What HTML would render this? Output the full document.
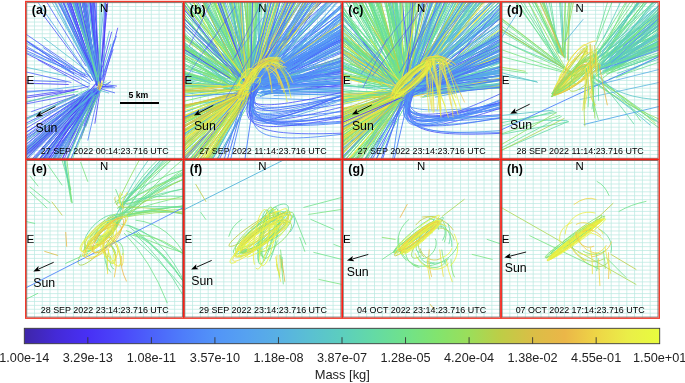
<!DOCTYPE html><html><head><meta charset="utf-8"><style>html,body{margin:0;padding:0;background:#fff;}svg{display:block;will-change:transform}text{font-family:"Liberation Sans",sans-serif}</style></head><body>
<svg width="685" height="383" viewBox="0 0 685 383">
<defs>
<clipPath id="c00"><rect x="25.70" y="1.50" width="158.05" height="157.90"/></clipPath>
<clipPath id="c01"><rect x="183.75" y="1.50" width="158.45" height="157.90"/></clipPath>
<clipPath id="c02"><rect x="342.20" y="1.50" width="158.80" height="157.90"/></clipPath>
<clipPath id="c03"><rect x="501.00" y="1.50" width="158.30" height="157.90"/></clipPath>
<clipPath id="c10"><rect x="25.70" y="159.40" width="158.05" height="158.80"/></clipPath>
<clipPath id="c11"><rect x="183.75" y="159.40" width="158.45" height="158.80"/></clipPath>
<clipPath id="c12"><rect x="342.20" y="159.40" width="158.80" height="158.80"/></clipPath>
<clipPath id="c13"><rect x="501.00" y="159.40" width="158.30" height="158.80"/></clipPath>
<linearGradient id="cb" x1="0" x2="1" y1="0" y2="0">
<stop offset="0.0" stop-color="rgb(62,38,168)"/>
<stop offset="0.05" stop-color="rgb(68,42,215)"/>
<stop offset="0.1" stop-color="rgb(72,48,245)"/>
<stop offset="0.15" stop-color="rgb(75,70,250)"/>
<stop offset="0.2" stop-color="rgb(76,98,250)"/>
<stop offset="0.25" stop-color="rgb(78,125,250)"/>
<stop offset="0.3" stop-color="rgb(82,148,248)"/>
<stop offset="0.35" stop-color="rgb(86,162,240)"/>
<stop offset="0.4" stop-color="rgb(88,176,228)"/>
<stop offset="0.45" stop-color="rgb(90,192,210)"/>
<stop offset="0.5" stop-color="rgb(92,206,190)"/>
<stop offset="0.55" stop-color="rgb(100,218,165)"/>
<stop offset="0.6" stop-color="rgb(112,226,138)"/>
<stop offset="0.65" stop-color="rgb(130,228,110)"/>
<stop offset="0.7" stop-color="rgb(155,222,90)"/>
<stop offset="0.75" stop-color="rgb(190,205,70)"/>
<stop offset="0.8" stop-color="rgb(218,190,70)"/>
<stop offset="0.85" stop-color="rgb(235,182,72)"/>
<stop offset="0.9" stop-color="rgb(238,213,70)"/>
<stop offset="0.95" stop-color="rgb(234,238,72)"/>
<stop offset="1.0" stop-color="rgb(232,252,62)"/>
</linearGradient>
</defs>
<path d="M26.70 1.5V159.4M34.49 1.5V159.4M42.27 1.5V159.4M50.06 1.5V159.4M57.85 1.5V159.4M65.64 1.5V159.4M73.42 1.5V159.4M81.21 1.5V159.4M89.00 1.5V159.4M96.79 1.5V159.4M104.58 1.5V159.4M112.36 1.5V159.4M120.15 1.5V159.4M127.94 1.5V159.4M135.72 1.5V159.4M143.51 1.5V159.4M151.30 1.5V159.4M159.09 1.5V159.4M166.88 1.5V159.4M174.66 1.5V159.4M25.7 2.60H183.8M25.7 6.49H183.8M25.7 10.39H183.8M25.7 14.28H183.8M25.7 18.17H183.8M25.7 22.06H183.8M25.7 25.96H183.8M25.7 29.85H183.8M25.7 33.74H183.8M25.7 37.63H183.8M25.7 41.53H183.8M25.7 45.42H183.8M25.7 49.31H183.8M25.7 53.20H183.8M25.7 57.10H183.8M25.7 60.99H183.8M25.7 64.88H183.8M25.7 68.77H183.8M25.7 72.67H183.8M25.7 76.56H183.8M25.7 80.45H183.8M25.7 84.34H183.8M25.7 88.24H183.8M25.7 92.13H183.8M25.7 96.02H183.8M25.7 99.91H183.8M25.7 103.81H183.8M25.7 107.70H183.8M25.7 111.59H183.8M25.7 115.48H183.8M25.7 119.38H183.8M25.7 123.27H183.8M25.7 127.16H183.8M25.7 131.05H183.8M25.7 134.94H183.8M25.7 138.84H183.8M25.7 142.73H183.8M25.7 146.62H183.8M25.7 150.52H183.8M25.7 154.41H183.8M184.75 1.5V159.4M192.56 1.5V159.4M200.37 1.5V159.4M208.17 1.5V159.4M215.98 1.5V159.4M223.79 1.5V159.4M231.59 1.5V159.4M239.40 1.5V159.4M247.21 1.5V159.4M255.02 1.5V159.4M262.82 1.5V159.4M270.63 1.5V159.4M278.44 1.5V159.4M286.25 1.5V159.4M294.05 1.5V159.4M301.86 1.5V159.4M309.67 1.5V159.4M317.48 1.5V159.4M325.28 1.5V159.4M333.09 1.5V159.4M183.8 2.60H342.2M183.8 6.49H342.2M183.8 10.39H342.2M183.8 14.28H342.2M183.8 18.17H342.2M183.8 22.06H342.2M183.8 25.96H342.2M183.8 29.85H342.2M183.8 33.74H342.2M183.8 37.63H342.2M183.8 41.53H342.2M183.8 45.42H342.2M183.8 49.31H342.2M183.8 53.20H342.2M183.8 57.10H342.2M183.8 60.99H342.2M183.8 64.88H342.2M183.8 68.77H342.2M183.8 72.67H342.2M183.8 76.56H342.2M183.8 80.45H342.2M183.8 84.34H342.2M183.8 88.24H342.2M183.8 92.13H342.2M183.8 96.02H342.2M183.8 99.91H342.2M183.8 103.81H342.2M183.8 107.70H342.2M183.8 111.59H342.2M183.8 115.48H342.2M183.8 119.38H342.2M183.8 123.27H342.2M183.8 127.16H342.2M183.8 131.05H342.2M183.8 134.94H342.2M183.8 138.84H342.2M183.8 142.73H342.2M183.8 146.62H342.2M183.8 150.52H342.2M183.8 154.41H342.2M343.20 1.5V159.4M351.02 1.5V159.4M358.85 1.5V159.4M366.68 1.5V159.4M374.50 1.5V159.4M382.32 1.5V159.4M390.15 1.5V159.4M397.97 1.5V159.4M405.80 1.5V159.4M413.62 1.5V159.4M421.45 1.5V159.4M429.27 1.5V159.4M437.10 1.5V159.4M444.92 1.5V159.4M452.75 1.5V159.4M460.57 1.5V159.4M468.40 1.5V159.4M476.23 1.5V159.4M484.05 1.5V159.4M491.88 1.5V159.4M342.2 2.60H501.0M342.2 6.49H501.0M342.2 10.39H501.0M342.2 14.28H501.0M342.2 18.17H501.0M342.2 22.06H501.0M342.2 25.96H501.0M342.2 29.85H501.0M342.2 33.74H501.0M342.2 37.63H501.0M342.2 41.53H501.0M342.2 45.42H501.0M342.2 49.31H501.0M342.2 53.20H501.0M342.2 57.10H501.0M342.2 60.99H501.0M342.2 64.88H501.0M342.2 68.77H501.0M342.2 72.67H501.0M342.2 76.56H501.0M342.2 80.45H501.0M342.2 84.34H501.0M342.2 88.24H501.0M342.2 92.13H501.0M342.2 96.02H501.0M342.2 99.91H501.0M342.2 103.81H501.0M342.2 107.70H501.0M342.2 111.59H501.0M342.2 115.48H501.0M342.2 119.38H501.0M342.2 123.27H501.0M342.2 127.16H501.0M342.2 131.05H501.0M342.2 134.94H501.0M342.2 138.84H501.0M342.2 142.73H501.0M342.2 146.62H501.0M342.2 150.52H501.0M342.2 154.41H501.0M502.00 1.5V159.4M509.80 1.5V159.4M517.60 1.5V159.4M525.40 1.5V159.4M533.20 1.5V159.4M541.00 1.5V159.4M548.80 1.5V159.4M556.60 1.5V159.4M564.40 1.5V159.4M572.20 1.5V159.4M580.00 1.5V159.4M587.80 1.5V159.4M595.60 1.5V159.4M603.40 1.5V159.4M611.20 1.5V159.4M619.00 1.5V159.4M626.80 1.5V159.4M634.60 1.5V159.4M642.40 1.5V159.4M650.20 1.5V159.4M501.0 2.60H659.3M501.0 6.49H659.3M501.0 10.39H659.3M501.0 14.28H659.3M501.0 18.17H659.3M501.0 22.06H659.3M501.0 25.96H659.3M501.0 29.85H659.3M501.0 33.74H659.3M501.0 37.63H659.3M501.0 41.53H659.3M501.0 45.42H659.3M501.0 49.31H659.3M501.0 53.20H659.3M501.0 57.10H659.3M501.0 60.99H659.3M501.0 64.88H659.3M501.0 68.77H659.3M501.0 72.67H659.3M501.0 76.56H659.3M501.0 80.45H659.3M501.0 84.34H659.3M501.0 88.24H659.3M501.0 92.13H659.3M501.0 96.02H659.3M501.0 99.91H659.3M501.0 103.81H659.3M501.0 107.70H659.3M501.0 111.59H659.3M501.0 115.48H659.3M501.0 119.38H659.3M501.0 123.27H659.3M501.0 127.16H659.3M501.0 131.05H659.3M501.0 134.94H659.3M501.0 138.84H659.3M501.0 142.73H659.3M501.0 146.62H659.3M501.0 150.52H659.3M501.0 154.41H659.3M26.70 159.4V318.2M34.49 159.4V318.2M42.27 159.4V318.2M50.06 159.4V318.2M57.85 159.4V318.2M65.64 159.4V318.2M73.42 159.4V318.2M81.21 159.4V318.2M89.00 159.4V318.2M96.79 159.4V318.2M104.58 159.4V318.2M112.36 159.4V318.2M120.15 159.4V318.2M127.94 159.4V318.2M135.72 159.4V318.2M143.51 159.4V318.2M151.30 159.4V318.2M159.09 159.4V318.2M166.88 159.4V318.2M174.66 159.4V318.2M25.7 160.50H183.8M25.7 164.41H183.8M25.7 168.33H183.8M25.7 172.25H183.8M25.7 176.16H183.8M25.7 180.07H183.8M25.7 183.99H183.8M25.7 187.91H183.8M25.7 191.82H183.8M25.7 195.73H183.8M25.7 199.65H183.8M25.7 203.56H183.8M25.7 207.48H183.8M25.7 211.39H183.8M25.7 215.31H183.8M25.7 219.22H183.8M25.7 223.14H183.8M25.7 227.05H183.8M25.7 230.97H183.8M25.7 234.88H183.8M25.7 238.80H183.8M25.7 242.71H183.8M25.7 246.63H183.8M25.7 250.54H183.8M25.7 254.46H183.8M25.7 258.38H183.8M25.7 262.29H183.8M25.7 266.20H183.8M25.7 270.12H183.8M25.7 274.03H183.8M25.7 277.95H183.8M25.7 281.86H183.8M25.7 285.78H183.8M25.7 289.69H183.8M25.7 293.61H183.8M25.7 297.52H183.8M25.7 301.44H183.8M25.7 305.35H183.8M25.7 309.27H183.8M25.7 313.18H183.8M184.75 159.4V318.2M192.56 159.4V318.2M200.37 159.4V318.2M208.17 159.4V318.2M215.98 159.4V318.2M223.79 159.4V318.2M231.59 159.4V318.2M239.40 159.4V318.2M247.21 159.4V318.2M255.02 159.4V318.2M262.82 159.4V318.2M270.63 159.4V318.2M278.44 159.4V318.2M286.25 159.4V318.2M294.05 159.4V318.2M301.86 159.4V318.2M309.67 159.4V318.2M317.48 159.4V318.2M325.28 159.4V318.2M333.09 159.4V318.2M183.8 160.50H342.2M183.8 164.41H342.2M183.8 168.33H342.2M183.8 172.25H342.2M183.8 176.16H342.2M183.8 180.07H342.2M183.8 183.99H342.2M183.8 187.91H342.2M183.8 191.82H342.2M183.8 195.73H342.2M183.8 199.65H342.2M183.8 203.56H342.2M183.8 207.48H342.2M183.8 211.39H342.2M183.8 215.31H342.2M183.8 219.22H342.2M183.8 223.14H342.2M183.8 227.05H342.2M183.8 230.97H342.2M183.8 234.88H342.2M183.8 238.80H342.2M183.8 242.71H342.2M183.8 246.63H342.2M183.8 250.54H342.2M183.8 254.46H342.2M183.8 258.38H342.2M183.8 262.29H342.2M183.8 266.20H342.2M183.8 270.12H342.2M183.8 274.03H342.2M183.8 277.95H342.2M183.8 281.86H342.2M183.8 285.78H342.2M183.8 289.69H342.2M183.8 293.61H342.2M183.8 297.52H342.2M183.8 301.44H342.2M183.8 305.35H342.2M183.8 309.27H342.2M183.8 313.18H342.2M343.20 159.4V318.2M351.02 159.4V318.2M358.85 159.4V318.2M366.68 159.4V318.2M374.50 159.4V318.2M382.32 159.4V318.2M390.15 159.4V318.2M397.97 159.4V318.2M405.80 159.4V318.2M413.62 159.4V318.2M421.45 159.4V318.2M429.27 159.4V318.2M437.10 159.4V318.2M444.92 159.4V318.2M452.75 159.4V318.2M460.57 159.4V318.2M468.40 159.4V318.2M476.23 159.4V318.2M484.05 159.4V318.2M491.88 159.4V318.2M342.2 160.50H501.0M342.2 164.41H501.0M342.2 168.33H501.0M342.2 172.25H501.0M342.2 176.16H501.0M342.2 180.07H501.0M342.2 183.99H501.0M342.2 187.91H501.0M342.2 191.82H501.0M342.2 195.73H501.0M342.2 199.65H501.0M342.2 203.56H501.0M342.2 207.48H501.0M342.2 211.39H501.0M342.2 215.31H501.0M342.2 219.22H501.0M342.2 223.14H501.0M342.2 227.05H501.0M342.2 230.97H501.0M342.2 234.88H501.0M342.2 238.80H501.0M342.2 242.71H501.0M342.2 246.63H501.0M342.2 250.54H501.0M342.2 254.46H501.0M342.2 258.38H501.0M342.2 262.29H501.0M342.2 266.20H501.0M342.2 270.12H501.0M342.2 274.03H501.0M342.2 277.95H501.0M342.2 281.86H501.0M342.2 285.78H501.0M342.2 289.69H501.0M342.2 293.61H501.0M342.2 297.52H501.0M342.2 301.44H501.0M342.2 305.35H501.0M342.2 309.27H501.0M342.2 313.18H501.0M502.00 159.4V318.2M509.80 159.4V318.2M517.60 159.4V318.2M525.40 159.4V318.2M533.20 159.4V318.2M541.00 159.4V318.2M548.80 159.4V318.2M556.60 159.4V318.2M564.40 159.4V318.2M572.20 159.4V318.2M580.00 159.4V318.2M587.80 159.4V318.2M595.60 159.4V318.2M603.40 159.4V318.2M611.20 159.4V318.2M619.00 159.4V318.2M626.80 159.4V318.2M634.60 159.4V318.2M642.40 159.4V318.2M650.20 159.4V318.2M501.0 160.50H659.3M501.0 164.41H659.3M501.0 168.33H659.3M501.0 172.25H659.3M501.0 176.16H659.3M501.0 180.07H659.3M501.0 183.99H659.3M501.0 187.91H659.3M501.0 191.82H659.3M501.0 195.73H659.3M501.0 199.65H659.3M501.0 203.56H659.3M501.0 207.48H659.3M501.0 211.39H659.3M501.0 215.31H659.3M501.0 219.22H659.3M501.0 223.14H659.3M501.0 227.05H659.3M501.0 230.97H659.3M501.0 234.88H659.3M501.0 238.80H659.3M501.0 242.71H659.3M501.0 246.63H659.3M501.0 250.54H659.3M501.0 254.46H659.3M501.0 258.38H659.3M501.0 262.29H659.3M501.0 266.20H659.3M501.0 270.12H659.3M501.0 274.03H659.3M501.0 277.95H659.3M501.0 281.86H659.3M501.0 285.78H659.3M501.0 289.69H659.3M501.0 293.61H659.3M501.0 297.52H659.3M501.0 301.44H659.3M501.0 305.35H659.3M501.0 309.27H659.3M501.0 313.18H659.3" stroke="#bce9e2" stroke-width="0.75" fill="none"/>
<g clip-path="url(#c00)" fill="none" stroke-linecap="round">
<path d="M94.7 76.8L78.5 -82.3M98.4 82.7L79.5 -23.8M93.3 74.0L58.3 -37.8M96.0 74.4L67.5 -55.0M100.6 90.7L44.2 -56.5M96.9 78.4L24.4 -85.1M95.7 75.7L25.0 -62.6M97.0 80.2L91.7 -17.0M99.3 83.5L69.0 -60.1M96.9 81.2L43.8 -105.0M86.0 66.0L40.9 -7.5M100.0 86.6L109.1 -67.6M96.1 86.0L103.0 56.6M71.0 82.4L-37.1 57.2M66.2 82.0L-96.4 75.7M85.4 75.1L-6.6 11.7M89.4 86.0L-15.1 113.0M98.5 93.2L38.0 237.7M90.7 94.2L27.6 150.4M93.1 90.5L-60.7 203.7M86.0 91.9L11.1 162.8M91.3 89.5L26.3 146.8M89.6 98.0L-14.9 252.8M100.9 85.4L36.3 223.7M93.8 92.4L-25.8 179.3M97.2 90.6L28.4 212.1M92.8 93.9L27.3 200.1M90.4 93.9L20.7 159.4M94.6 88.3L22.8 188.9M97.5 81.2L-25.1 230.6M91.3 91.9L23.1 182.3M96.6 89.7L29.5 170.8M96.9 87.7L114.6 92.8" stroke="#4c62fa" stroke-width="0.8"/>
<path d="M100.2 86.8L47.8 -97.8M91.4 92.3L-23.4 178.2M101.8 87.8L13.3 161.4M91.4 91.1L-17.3 200.0M96.7 90.1L10.5 225.0" stroke="#60d4b2" stroke-width="0.8"/>
<path d="M96.0 83.4L13.8 -77.6M97.1 79.7L35.0 -60.6M97.0 74.8L83.3 -78.0M96.3 79.8L82.6 -103.3M97.8 78.4L80.4 -6.1M92.7 80.7L-4.5 -58.4M90.2 76.5L-5.8 26.4M84.9 85.4L-84.6 105.9M89.6 90.1L7.6 128.2M87.6 93.9L14.7 159.6M99.1 90.2L57.3 192.1M93.8 93.1L25.8 176.9M97.2 89.0L-3.6 247.2M101.6 86.4L113.4 86.3" stroke="#57a9ea" stroke-width="0.8"/>
<path d="M96.9 81.0L42.2 -79.0M98.6 81.9L88.3 -11.3M99.7 82.3L87.7 -28.1M96.9 85.3L59.5 -60.8M94.0 79.8L69.6 -107.6M97.7 75.4L82.1 -80.1M98.3 86.7L43.2 -48.0M96.6 80.8L92.5 -24.8M95.7 76.1L81.8 -27.3M98.4 80.4L71.8 -58.3M95.3 79.5L73.1 -97.5M97.8 80.0L75.7 -30.5M98.9 81.5L74.3 -44.8M98.0 82.5L81.7 -17.0M103.1 80.6L107.2 -38.9M68.3 84.5L-25.7 81.4M73.8 73.7L22.8 38.4M74.1 90.5L-45.7 109.1M91.4 95.4L-16.7 244.9M98.2 96.1L6.2 210.5M94.5 86.8L32.0 185.7M98.0 87.3L46.2 178.6M96.6 93.5L1.5 227.8M91.7 88.7L29.6 153.2M96.8 96.8L-12.9 221.5M97.1 82.9L26.2 158.6M99.5 91.1L-1.2 178.2M95.6 90.8L-18.9 229.5M94.0 89.4L-7.7 208.5M100.4 88.1L94.9 123.3" stroke="#4a3bf8" stroke-width="0.8"/>
<path d="M98.1 75.7L51.6 -82.1M99.0 86.9L59.1 -19.9M99.5 83.3L60.6 4.8M92.3 72.3L54.9 -38.0M97.0 84.5L59.7 -91.8M95.3 77.5L49.7 -60.7M93.7 76.1L34.3 -102.3M96.8 85.3L74.0 -85.0M99.6 82.2L51.2 -103.3M100.6 81.2L105.5 12.8M101.7 88.7L117.7 28.1M98.7 80.9L111.6 32.2M79.2 79.7L-12.3 34.4M75.3 89.3L-47.3 106.4M77.5 94.8L-71.0 162.9M89.8 91.0L-1.3 167.2M94.8 88.5L-27.9 166.7M87.0 93.6L9.4 148.5M90.0 94.5L-21.5 206.6M93.3 90.3L-6.6 219.9M94.9 89.0L-10.5 187.7M92.0 97.2L29.2 228.5M93.0 96.3L31.4 168.1M91.2 94.3L17.3 175.2M100.8 86.2L32.7 162.0M101.1 86.5L112.2 86.8" stroke="#4b46fa" stroke-width="0.8"/>
<path d="M99.2 81.4L28.7 -83.6M95.1 80.5L39.5 -41.9M96.7 79.3L61.8 -35.2M97.3 77.0L76.7 -98.6M85.5 61.8L12.0 -69.3M96.9 78.1L109.5 -52.6M100.2 78.5L110.9 44.1M95.4 77.2L44.0 38.0M66.7 76.0L-51.0 50.7M94.2 93.4L-11.6 222.6M92.8 96.3L-5.8 220.5M90.5 94.4L16.6 225.0M98.2 89.4L24.2 255.1M88.8 92.9L-4.6 161.3M97.1 90.1L83.1 132.4M100.3 86.7L109.8 82.1" stroke="#5ac0d2" stroke-width="0.8"/>
<path d="M93.3 78.2L56.9 -12.2M98.5 77.8L89.7 -24.0M100.9 79.9L80.5 -101.0M98.2 79.9L65.2 -19.5M96.8 71.1L92.7 -5.2M94.8 77.6L59.3 3.7M100.0 75.3L88.2 -93.7M99.4 82.1L45.8 -79.8M97.5 82.8L72.1 -12.0M94.9 78.0L51.7 -41.3M97.6 81.4L95.4 -49.4M99.4 84.5L116.4 36.2M102.0 79.9L113.8 40.8M62.6 90.2L-29.5 93.0M90.3 81.4L43.6 47.8M84.4 77.5L-31.5 23.9M75.1 70.8L-35.2 2.3M69.8 71.0L-6.0 18.6M98.1 87.3L-35.9 199.9M95.6 91.1L-66.6 201.2M88.7 95.4L-27.4 208.0M98.9 90.2L26.8 192.2M93.7 89.1L36.4 242.3M99.4 90.7L34.5 181.9M95.7 92.5L6.0 259.1M93.8 91.7L-27.3 214.9M97.8 90.3L29.9 199.4M93.9 89.2L-15.8 243.8M98.3 92.0L85.9 126.5M103.5 87.9L114.8 87.7" stroke="#4d70fa" stroke-width="0.8"/>
<path d="M94.8 73.6L70.2 -65.5M100.5 86.8L92.6 -19.6M99.1 78.8L48.7 -106.5M100.0 76.7L113.6 -53.4M92.0 95.1L14.8 169.6M92.3 91.6L0.7 179.5M88.7 100.2L41.3 204.9M93.0 94.1L11.1 165.3M93.4 90.7L-4.7 176.9M98.5 87.9L80.9 138.6" stroke="#4830f5" stroke-width="0.8"/>
<path d="M98.0 84.8L79.1 -107.3M99.3 87.6L47.0 -28.5M100.5 81.1L52.2 -99.5M97.0 78.3L50.6 -80.7M99.2 84.6L67.4 -33.8M96.6 82.4L55.0 -86.2M97.2 81.8L70.9 -38.2M92.5 80.8L39.4 10.0M103.7 76.8L113.0 49.8M88.2 87.7L38.0 59.8M87.5 76.9L-4.7 33.4M77.2 95.2L31.6 111.6M80.4 96.9L-6.9 139.1M74.3 94.6L5.7 107.8M74.4 99.3L-3.6 146.2M97.6 90.4L6.2 213.0M92.1 96.1L45.6 171.4M97.9 90.6L43.9 146.3M94.0 99.6L14.3 257.9M97.8 87.4L27.6 131.6M96.5 89.9L9.9 163.6M93.5 89.6L0.3 218.8M94.9 89.9L-33.5 206.8M92.0 95.5L3.9 223.8M95.8 88.3L4.2 210.1M95.1 92.5L83.9 125.6M102.9 84.5L116.5 86.0M100.6 89.2L110.6 81.8M99.1 86.2L108.2 86.9" stroke="#4c54fa" stroke-width="0.8"/>
<path d="M96.1 74.1L67.6 -12.3M95.1 79.1L18.1 -92.5M96.5 77.2L67.0 -78.7M94.0 77.4L18.9 -68.8M97.6 84.0L78.7 -43.5M99.4 85.4L86.6 -8.5M100.1 77.0L102.9 -89.0M98.2 77.6L109.4 31.2M92.5 91.0L-75.0 176.7M92.3 88.6L14.4 183.1M100.5 88.0L-10.7 177.3M95.7 91.2L40.1 190.6M92.6 93.0L-4.5 189.7M94.6 93.2L0.9 171.9M95.8 89.1L108.7 93.0" stroke="#59b8db" stroke-width="0.8"/>
<path d="M97.3 78.0L74.5 -48.8M70.4 69.8L-73.4 14.2" stroke="#56a2f0" stroke-width="0.8"/>
<path d="M97.3 80.3L65.8 -49.1M98.1 79.4L56.0 -55.4M95.5 76.2L67.0 -31.3M93.5 93.6L19.2 160.2M100.9 89.3L13.1 226.4M92.9 92.7L-27.5 232.0M95.7 86.7L-8.6 237.1" stroke="#58b0e4" stroke-width="0.8"/>
<path d="M97.7 76.9L59.6 -36.2" stroke="#70e28a" stroke-width="0.8"/>
<path d="M96.8 80.5L61.4 -76.2M78.0 91.3L-64.4 119.5M94.0 95.7L55.4 189.2M101.4 90.5L35.2 199.5M98.2 94.2L33.5 257.2" stroke="#6ade98" stroke-width="0.8"/>
<path d="M98.6 82.5L102.0 -101.9M88.6 89.0L-10.7 136.8M96.1 94.7L27.3 198.7" stroke="#64daa5" stroke-width="0.8"/>
<path d="M89.7 83.8L-25.2 15.5M89.6 89.3L3.6 152.1M87.7 91.6L-22.5 187.1M98.4 87.4L6.0 237.0M98.9 91.7L87.9 140.2" stroke="#4e7dfa" stroke-width="0.8"/>
<path d="M98.1 84.6L106.2 81.8" stroke="#5bc7c8" stroke-width="0.8"/>
<path d="M99.5 90.2L102.4 84.4" stroke="#e9f543" stroke-width="0.9"/>
<path d="M97.7 88.7L99.2 81.9" stroke="#ece247" stroke-width="0.9"/>
<path d="M99.8 89.6L102.2 81.0" stroke="#eed546" stroke-width="0.9"/>
<path d="M99.1 89.6L100.1 83.5" stroke="#e2ba47" stroke-width="0.9"/>
</g>
<g clip-path="url(#c01)" fill="none" stroke-linecap="round">
<path d="M247.7 76.8L205.4 -91.6M250.0 84.7L193.9 -71.6M245.1 72.5L159.6 -121.9M252.5 91.2L249.2 -67.3M248.8 84.4L203.3 -112.9M249.7 85.9L176.6 -84.3M248.5 73.7L183.8 -64.9M246.4 70.0L204.5 -102.0M250.4 75.0L252.3 -118.5M241.3 63.7L186.1 -27.9M250.0 78.9L196.6 34.9M240.5 94.3L63.2 -62.3M226.5 89.5L76.5 -3.1M216.2 76.5L60.4 -16.6M231.4 86.1L50.0 -34.6M244.8 85.9L103.5 0.3M251.6 91.1L183.5 -6.8M248.8 79.1L196.7 42.1M228.2 69.4L73.8 -48.5M249.9 90.9L108.4 -2.1M249.2 92.0L47.1 -46.2M227.5 88.5L208.3 85.1M239.8 87.1L149.6 83.7M232.8 87.1L173.6 72.0M216.5 91.6L145.9 88.9M245.5 82.3L87.2 21.5M231.6 89.2L18.3 46.4M227.9 86.6L68.1 71.2M229.0 77.9L140.1 28.4M249.0 79.0L307.4 -74.8M250.7 83.4L318.5 -123.6M248.3 86.1L371.2 -119.8M242.9 84.9L319.4 -111.6M261.2 64.4L307.2 -88.9M268.2 66.6L396.9 -61.4M251.6 72.1L318.1 -55.3M244.8 90.5L94.3 132.6M251.8 92.1L143.3 252.4M245.8 92.6L92.3 157.3M242.8 98.6L143.7 222.2M246.6 93.4L154.7 262.4M243.6 94.6L161.0 216.9" stroke="#64daa5" stroke-width="0.9"/>
<path d="M248.2 90.2L246.4 -151.6M248.2 85.9L266.9 -71.3M248.3 77.6L246.9 -123.2M241.5 78.6L123.8 -43.5M243.7 85.2L105.9 -7.3M254.2 90.6L91.2 -34.5M236.4 77.0L159.9 30.0M240.4 86.6L82.4 64.1M251.0 93.9L51.6 30.3M250.8 86.0L426.0 67.9M254.7 80.1L464.1 69.6M248.2 80.3L373.1 -19.4M259.0 83.4L417.2 -7.2M251.0 88.0L411.9 -42.5M258.3 86.0L427.3 32.7M268.1 87.2L364.5 -32.9M246.5 78.8L371.3 -96.4M273.0 82.9L445.8 66.4M256.5 90.0L417.1 2.8M250.9 74.3L287.9 -68.1M279.6 93.3L470.8 58.6M271.0 88.4L409.3 4.1M273.4 86.1L427.8 39.4M269.2 70.7L386.8 -116.2M265.9 84.6L436.7 24.4M267.6 81.7L446.6 23.4M261.6 67.5L299.5 -86.7M260.3 74.0L447.7 -36.7M247.8 75.0L312.6 -133.8M251.3 85.0L108.0 225.5M253.3 92.3L112.0 287.6M250.6 88.8L69.8 212.7" stroke="#59b8db" stroke-width="0.9"/>
<path d="M251.2 74.0L264.9 -96.3M241.6 80.9L195.3 -60.7M243.8 78.8L171.4 -140.0M237.9 79.8L229.3 -86.0M245.5 77.3L157.3 -82.6M248.3 85.1L180.9 -58.3M248.9 78.0L205.3 -149.8M247.0 72.7L219.5 -108.1M250.5 80.2L248.2 -143.0M232.0 73.7L193.6 51.1M226.9 75.4L42.6 -49.8M240.9 78.6L208.2 26.2M240.9 82.4L91.3 -48.1M230.1 69.9L119.8 -10.0M252.8 92.2L162.8 35.9M246.2 83.9L119.5 -50.0M235.6 80.0L90.6 -5.8M234.5 73.6L116.3 -37.4M239.3 81.4L139.7 19.9M240.5 74.5L113.9 -90.7M236.7 68.8L145.8 -28.0M232.0 84.6L102.8 -11.8M229.4 85.0L26.1 75.2M238.1 84.9L190.2 65.2M239.5 88.3L170.6 59.9M224.7 78.2L70.6 10.9M247.5 84.8L165.6 70.5M237.2 86.6L90.8 57.2M215.3 77.7L99.7 27.3M254.6 68.5L316.5 -59.7M257.4 74.1L378.3 -85.2M258.3 76.5L354.4 -129.4M248.1 84.1L288.4 -84.8M261.8 77.0L349.9 -80.4M254.2 75.9L335.4 -88.1M258.5 68.3L310.6 -73.0M259.1 90.0L471.8 18.0M256.8 86.7L467.2 15.3M249.3 93.1L120.6 98.3M246.5 83.9L124.7 95.9M236.4 98.4L73.0 120.1M245.3 89.2L73.1 166.0M249.8 86.0L106.0 260.4M249.2 94.8L126.6 271.9M248.6 93.1L84.9 190.6M247.2 93.7L128.0 280.0M250.2 92.3L108.7 213.2M245.7 92.2L78.9 233.2" stroke="#6ade98" stroke-width="0.9"/>
<path d="M246.7 88.2L247.0 -141.4M252.3 88.4L258.5 -74.9M258.2 78.9L265.2 -69.3M252.8 82.8L260.5 -102.6M257.5 78.3L279.4 -126.2M250.3 86.7L189.3 -62.3M253.0 86.0L203.2 -74.4M248.5 67.0L247.3 -73.5M249.5 66.4L225.1 -64.6M240.7 82.5L169.3 -72.3M241.0 87.3L236.9 -67.8M252.8 68.2L265.2 -97.1M247.2 90.4L233.4 -119.0M249.5 83.5L164.4 -80.6M244.5 78.2L154.7 -37.0M240.3 81.3L158.8 -35.1M218.6 72.2L67.7 -40.1M242.0 78.3L85.0 -36.3M245.5 78.9L100.3 -63.1M241.4 91.0L114.3 -1.0M231.2 85.9L75.6 -11.5M237.8 80.4L112.8 -71.4M229.0 77.3L84.6 -35.7M241.9 79.5L214.7 37.2M249.5 87.5L141.6 1.8M231.3 90.8L43.1 19.5M239.2 91.9L134.4 62.9M221.2 78.6L192.6 68.6M235.9 88.8L176.2 71.3M244.4 89.7L385.2 -70.9M256.1 77.1L313.8 -133.7M255.5 78.5L321.1 -89.0M251.2 74.2L302.8 -91.8M256.8 89.8L335.5 -86.6M261.2 81.5L316.5 -70.4M248.1 92.0L102.6 209.9M246.9 91.1L162.1 243.7M249.1 90.5L113.0 190.4M250.4 87.2L94.1 188.9M241.5 93.6L84.5 203.0M252.3 97.3L174.0 233.8M251.8 89.1L126.7 147.1" stroke="#70e28a" stroke-width="0.9"/>
<path d="M242.1 82.4L164.6 -80.0M246.2 76.2L190.1 -99.7M248.3 91.4L213.1 -126.9M238.7 67.9L145.8 -108.7M241.6 87.4L201.8 -55.4M240.6 77.6L134.6 -77.6M229.2 75.0L83.9 -55.4M257.2 69.4L338.5 -104.5M267.0 75.2L409.3 -92.8M253.5 86.6L457.3 -4.2" stroke="#60d4b2" stroke-width="0.9"/>
<path d="M246.1 88.2L209.3 -128.7M243.1 85.6L237.7 -82.3M248.7 80.9L324.3 -84.7M256.9 86.8L403.4 79.0M264.5 93.8L470.9 89.0M255.9 84.9L320.6 -68.7M264.4 79.7L462.8 -20.6M253.3 85.5L424.1 -71.2M257.7 77.8L343.3 -38.6M256.7 87.1L443.2 57.1M254.3 74.6L400.3 16.9M256.4 87.9L462.1 -26.6M268.1 85.5L467.1 39.9M250.2 85.7L415.6 1.1M253.1 88.7L429.2 -50.3M252.3 86.9L380.2 -85.7M258.0 86.6L365.1 17.0M265.0 79.2L389.0 2.3M252.1 85.2L413.1 2.4M258.2 79.6L336.7 -89.2M250.7 83.0L358.1 -91.7M270.6 73.4L466.5 -25.8M253.0 84.1L400.3 45.4M258.7 85.7L354.8 -75.0M256.2 80.9L369.3 -34.7M248.8 99.5L369.0 -115.6M252.7 83.0L105.3 177.9M244.8 97.3L182.1 321.3M251.2 93.1L200.7 198.0" stroke="#4d70fa" stroke-width="0.9"/>
<path d="M245.9 73.4L223.2 -150.6M248.9 87.1L201.6 -56.4M243.3 71.8L153.7 -117.9M253.7 77.5L264.0 -143.1M246.1 70.6L170.4 -86.5M248.6 81.5L245.1 -108.2M240.2 76.1L136.7 -127.8M254.4 89.5L166.4 -105.4M246.5 86.0L253.3 -76.2M248.4 86.5L162.3 -83.8M251.1 63.2L250.3 -114.4M247.4 76.0L235.7 -96.6M248.3 76.1L259.3 -88.6M250.4 68.0L257.6 -137.6M243.8 70.9L221.2 -118.5M240.8 76.6L175.2 -93.7M244.0 68.5L203.6 -143.8M245.0 77.6L190.3 -79.4M247.6 68.0L255.8 -129.5M213.9 70.7L79.4 -51.7M242.9 85.5L95.3 -7.6M243.0 74.3L178.4 -19.9M244.2 85.9L71.0 -24.2M244.9 80.5L155.2 -54.7M234.8 71.8L210.5 42.6M242.3 78.4L138.6 -92.6M233.5 63.8L141.0 -77.8M242.7 86.9L113.1 -70.6M244.1 70.4L197.2 5.0M235.8 80.4L153.8 -37.2M241.9 64.9L169.1 -57.3M244.3 90.5L144.7 -19.3M237.0 73.6L160.3 33.9M212.0 87.7L5.5 75.9M253.4 85.0L61.8 37.3M218.8 86.6L30.6 74.8M227.9 85.2L152.2 63.2M208.1 82.1L8.9 34.2M226.9 85.3L112.3 47.9M248.8 87.0L280.2 -50.6M251.8 77.2L305.1 -108.0M243.0 91.8L129.6 131.2M249.7 86.4L16.0 87.4M236.8 89.0L105.5 119.4M244.2 101.8L140.5 219.8M251.6 87.4L193.3 192.0M241.2 93.5L65.8 168.1M245.6 91.0L163.6 192.0M247.5 91.1L173.2 190.7M245.6 92.2L176.4 208.5M239.8 94.8L79.5 228.1M239.6 97.6L82.3 250.6" stroke="#79e37c" stroke-width="0.9"/>
<path d="M250.9 70.1L238.0 -67.7M250.9 93.8L259.0 -124.1M231.0 73.0L92.3 -39.4M252.1 90.5L86.8 165.1" stroke="#8fe164" stroke-width="0.9"/>
<path d="M258.4 74.3L259.1 -85.1M254.3 67.0L223.1 -137.3M247.4 82.3L217.7 -96.1M227.7 74.6L139.5 10.0M222.2 91.5L35.5 37.1M246.0 94.0L21.1 22.1M246.6 87.6L94.1 104.0M245.6 93.5L82.3 205.1M240.6 90.6L108.3 141.1" stroke="#5bc7c8" stroke-width="0.9"/>
<path d="M245.6 71.8L238.1 -73.4M247.1 65.8L193.0 -90.6M248.6 66.7L202.3 -140.8M257.9 86.2L263.2 -115.6M241.6 59.3L197.9 -82.5M229.3 74.6L139.6 -16.4M263.0 87.0L416.9 79.5M276.4 92.0L479.3 90.0M281.1 78.2L424.8 31.2M279.6 80.3L404.2 50.1M260.5 83.0L399.8 -14.6M248.8 91.3L436.8 -25.4M271.3 88.3L416.3 67.8M250.0 90.3L460.4 -24.5M278.2 83.2L456.4 -60.5M253.0 89.9L483.7 41.1M259.8 78.1L414.4 -54.5M247.9 84.5L385.7 -12.9M263.2 80.2L427.1 -44.4M262.5 66.3L333.6 -80.6M271.7 87.9L409.5 72.0M236.7 84.1L8.6 88.1M253.3 87.5L139.4 288.6M247.8 90.0L115.9 165.6" stroke="#58b0e4" stroke-width="0.9"/>
<path d="M238.8 63.4L136.2 -128.5M244.3 84.5L174.2 -57.0M247.2 71.2L214.2 -60.2M246.1 83.8L200.3 -60.0M239.5 92.5L191.5 55.0M234.7 74.7L100.1 -100.3M240.1 70.2L190.7 -9.0M245.0 91.4L50.4 -37.3M211.4 77.5L174.5 65.6M223.3 72.7L111.3 15.5M255.6 70.8L359.6 -85.5M255.8 78.7L309.9 -55.2M259.3 68.8L328.0 -91.3M249.2 83.1L409.0 27.5M261.2 72.5L373.4 -74.5M248.7 94.7L148.0 274.1M246.5 88.7L67.6 225.9M249.1 92.3L50.0 219.1M248.9 88.4L127.8 189.5M239.7 90.5L54.3 179.4" stroke="#5ac0d2" stroke-width="0.9"/>
<path d="M249.0 73.5L202.7 -123.7M251.0 81.6L235.3 -117.4M238.1 78.1L153.4 -33.1M248.1 84.8L72.1 3.9M238.4 89.3L203.1 74.1M256.9 73.3L345.7 -87.3M261.3 80.0L339.7 -54.3M249.8 78.7L326.1 -70.7M234.7 90.8L59.2 110.4M249.2 84.4L82.4 218.3M242.3 96.4L114.1 263.7M248.0 88.3L44.6 186.1M246.0 95.2L139.5 219.7M241.8 92.0L127.1 154.2M248.6 84.8L175.7 214.9M252.3 93.6L97.4 230.0" stroke="#9bde5a" stroke-width="0.9"/>
<path d="M242.5 67.0L179.0 -147.8M242.3 81.8L176.7 -106.6M241.3 92.4L142.5 32.8M230.1 76.1L106.0 -28.6M225.1 90.0L71.4 100.4M228.2 87.3L115.5 89.3M225.5 95.7L128.9 125.4M243.2 91.1L84.8 198.1M246.4 98.8L135.8 272.0M244.8 93.6L41.2 187.9M244.9 95.6L64.5 177.1M243.9 96.5L124.6 194.7M242.1 90.6L69.5 176.1M251.6 90.7L81.0 192.4M250.8 91.8L126.3 221.2M242.2 88.7L84.5 276.4M245.8 91.8L110.5 221.4M248.0 92.2L115.6 254.2" stroke="#82e46e" stroke-width="0.9"/>
<path d="M251.0 87.7L267.4 -60.2M250.7 70.9L276.7 -124.1M241.7 83.4L87.6 -92.0M272.0 78.2L415.2 62.6M258.1 95.9L419.0 68.0M255.5 77.4L453.6 -34.1M245.7 90.6L106.6 248.8M251.4 86.9L114.7 219.1M245.6 93.9L105.8 190.8" stroke="#5ccebe" stroke-width="0.9"/>
<path d="M248.3 67.1L180.3 -102.9M249.0 71.1L244.4 -145.2M233.9 74.2L77.1 -35.8M244.9 76.4L134.9 -54.3M251.2 91.1L289.3 -80.1M248.3 95.0L137.7 200.7M246.8 93.4L137.8 288.9M250.6 89.2L43.7 179.3M246.7 96.3L53.9 202.8M245.9 89.6L82.5 235.8M245.9 93.3L145.2 201.1M248.6 88.1L76.1 199.3M249.3 90.6L67.8 246.9" stroke="#acd650" stroke-width="0.9"/>
<path d="M244.3 71.5L176.2 -105.8M247.9 81.7L202.2 -47.7M238.5 76.8L177.1 18.7M255.0 68.3L384.5 -60.0M266.3 86.0L427.0 55.9M265.0 93.9L470.8 69.3M262.3 82.2L437.7 -12.7M258.8 80.6L481.8 62.1M264.0 87.7L482.3 83.5M240.9 96.1L101.5 277.9" stroke="#4c54fa" stroke-width="0.9"/>
<path d="M250.5 81.8L255.9 -128.8M249.9 86.4L121.9 -63.0M249.4 86.3L142.9 -24.2M275.1 76.4L428.7 -14.1M264.5 83.9L378.9 -87.9M267.1 69.6L391.5 -26.3M276.5 80.1L413.4 -12.0M256.3 87.6L462.8 -16.1M247.8 89.0L310.1 -143.4M253.8 85.1L429.5 57.1M264.0 85.1L447.6 -22.3M273.4 81.7L405.9 15.2M255.4 83.8L443.5 14.5M270.5 91.6L478.3 25.8M255.7 76.6L312.1 -59.0M262.1 89.3L389.8 42.6M257.8 67.4L363.3 -117.8M254.4 87.6L477.2 62.2M271.9 78.8L424.0 40.9M271.3 83.4L388.2 3.0M247.4 85.3L463.8 -15.3M250.9 70.0L354.4 -22.6M256.7 74.3L370.3 -53.8M244.6 92.5L142.2 204.4" stroke="#4c62fa" stroke-width="0.9"/>
<path d="M246.2 80.9L229.2 -155.2M257.6 76.4L307.0 -51.2M242.0 84.4L52.3 109.7M231.4 96.7L122.2 116.2M243.4 85.0L58.2 98.9M242.8 94.4L154.2 175.8M248.0 88.6L43.3 209.5M249.0 89.6L111.9 168.9M251.7 92.1L87.3 183.9M245.0 89.6L103.3 188.6" stroke="#eed546" stroke-width="0.9"/>
<path d="M237.8 70.5L168.1 -66.0M257.0 88.3L331.3 -48.8M265.5 78.2L368.6 -112.2M240.6 90.6L74.8 92.6M251.7 91.4L118.7 161.1M244.8 94.7L142.9 196.9M241.0 96.1L57.4 245.8M244.9 96.2L144.6 245.1M243.7 91.9L147.0 229.2" stroke="#becd46" stroke-width="0.9"/>
<path d="M231.3 72.5L154.1 -70.0M249.1 88.0L86.7 108.5M244.2 93.5L88.9 241.4M245.8 95.0L142.0 170.0M251.8 92.0L79.5 238.5M248.7 95.0L136.4 258.8M241.5 96.2L127.6 168.2" stroke="#e9f543" stroke-width="0.9"/>
<path d="M250.2 86.2L160.5 -132.0M247.4 81.2L213.9 38.2M221.0 85.6L82.7 79.6M248.7 89.9L340.6 -116.5M254.9 82.9L371.6 -61.4M253.3 87.0L433.4 26.9M253.0 68.3L295.2 -93.7M247.1 93.4L90.7 136.0M241.0 96.3L141.7 252.9M244.9 92.4L110.9 198.8M245.8 91.8L128.0 222.3M244.2 94.6L55.1 232.6M249.1 89.4L177.3 204.6M247.5 90.3L149.1 244.1M245.9 89.0L50.7 174.3M241.8 93.5L49.8 185.2M243.8 93.6L131.6 221.4" stroke="#eaee48" stroke-width="0.9"/>
<path d="M236.5 78.0L162.2 -26.5M242.6 77.9L165.7 4.9M251.1 83.5L345.3 -125.0M266.4 86.3L462.2 80.8M255.8 86.3L441.6 -28.9M258.5 77.7L308.3 -100.4M257.4 87.6L470.3 33.6M260.3 84.0L362.1 -15.3M262.5 82.7L322.1 -79.2M269.0 77.6L446.7 -30.4M266.3 83.6L404.7 27.6M261.8 79.3L403.0 0.1M259.8 76.3L311.0 -58.0M252.2 81.4L416.8 -10.6M263.3 62.2L303.9 -82.7M257.4 84.7L463.6 18.4M245.4 82.8L348.5 -69.9M261.5 78.2L455.9 -37.9M262.9 89.6L424.4 -0.5M256.7 81.7L437.5 -44.8M260.1 87.7L431.0 71.8M262.0 82.9L452.0 -19.3M248.6 79.2L412.9 -37.7M243.7 95.4L207.1 215.2M254.1 97.6L231.4 250.1" stroke="#4e7dfa" stroke-width="0.9"/>
<path d="M230.1 78.2L180.9 47.3" stroke="#4b46fa" stroke-width="0.9"/>
<path d="M269.4 84.8L410.4 44.2M264.5 94.8L420.4 41.0M263.9 85.5L406.7 -47.5M274.1 85.0L466.1 61.7M262.7 83.6L442.9 -22.6M256.3 81.1L439.5 -54.0M264.9 76.0L449.4 45.5M256.5 73.8L337.6 -44.9M256.3 97.9L406.7 102.9M267.4 76.8L368.2 -76.8M271.8 71.5L404.8 -14.1M276.0 83.1L477.7 51.9M249.3 84.1L457.3 -30.5M242.2 87.1L346.9 -17.5M260.8 87.7L418.5 -14.0M253.8 96.0L472.4 19.5M261.3 91.4L398.6 86.1M259.4 72.1L377.8 -68.3M263.2 72.1L389.8 -3.1M246.4 90.6L403.2 77.1M252.2 87.7L410.5 92.6M253.0 89.2L441.1 73.0M268.5 74.8L422.1 -49.2" stroke="#56a2f0" stroke-width="0.9"/>
<path d="M262.0 94.7L398.3 17.5M261.5 92.7L434.9 98.7M256.7 88.8L419.7 -72.7M252.3 77.6L369.0 -1.9M246.0 86.3L425.8 -33.7M254.8 81.2L443.8 55.7M249.3 90.0L358.2 -78.1M263.3 91.1L466.4 85.3M256.4 92.6L479.9 86.8M264.2 86.1L457.9 -23.2M256.9 80.0L412.1 85.3M264.0 77.1L425.6 -68.9M268.9 82.5L460.6 36.0M259.2 70.9L386.8 -48.7M248.3 93.0L363.8 -38.8M247.9 89.2L353.3 -26.1M253.5 85.7L428.9 -19.7M250.2 81.2L369.7 -80.7M252.0 84.4L413.4 41.5M262.4 91.8L372.4 -9.2M248.6 73.8L328.8 -61.1M249.1 98.0L186.2 219.7" stroke="#57a9ea" stroke-width="0.9"/>
<path d="M255.3 87.8L433.8 -31.2M270.1 79.1L388.8 18.6M260.3 86.2L388.5 -5.1M271.9 82.9L405.1 54.7M254.0 82.9L374.6 -96.1M264.4 83.9L387.4 23.0M274.0 95.4L405.9 91.8M254.7 76.9L355.1 -57.9M257.2 79.3L394.0 -7.1M262.3 89.2L471.7 74.2M266.8 86.5L420.3 78.2M252.8 91.1L405.6 -40.9M265.5 81.6L399.6 -11.0M266.1 76.8L361.0 -21.6" stroke="#549bf4" stroke-width="0.9"/>
<path d="M254.6 77.8L329.3 -45.8M265.4 82.2L469.0 41.2M251.7 74.5L312.4 -147.3M245.2 84.7L425.7 -8.7M254.3 73.1L315.5 -143.5M250.5 83.8L413.3 85.5M265.9 77.6L410.7 -41.1M274.2 86.8L468.4 11.1M257.2 79.5L392.3 13.1M247.4 82.0L440.1 -34.9M262.9 77.7L449.2 -10.1M262.0 80.2L484.7 68.1M244.9 82.0L396.4 16.8M261.6 81.2L353.8 -60.7M261.0 91.9L425.3 81.8M258.8 73.3L395.5 -36.2M260.2 96.7L429.7 23.6M266.5 87.6L474.9 38.7M239.0 93.6L94.7 156.4M246.4 94.5L204.8 265.5" stroke="#5088f9" stroke-width="0.9"/>
<path d="M261.4 62.9L326.0 -63.6M255.1 85.1L380.3 -80.8M269.9 73.1L448.3 -52.6M252.7 83.2L368.5 -115.2M253.1 82.5L303.0 -97.0M248.0 89.3L11.5 154.9M247.4 92.9L144.4 229.0M249.0 87.0L126.4 192.6M248.7 98.9L109.6 297.4M243.0 91.8L137.2 231.4M244.6 91.0L97.1 150.5M247.2 92.1L56.9 225.8M253.7 90.2L70.3 219.2" stroke="#ece247" stroke-width="0.9"/>
<path d="M263.1 82.5L445.0 3.6M261.5 75.2L432.6 -23.7M254.6 81.9L340.3 -51.2M259.2 74.7L418.6 2.4M243.7 88.4L404.2 -71.3M248.0 80.5L288.6 -77.3M241.6 92.8L46.8 106.1M245.7 90.0L163.9 184.7" stroke="#5294f8" stroke-width="0.9"/>
<path d="M255.3 79.1L321.9 -142.7M246.6 92.6L40.0 134.9M233.1 89.6L2.1 93.3M232.9 94.2L81.3 129.5M230.0 94.0L10.5 154.2M249.5 93.9L154.2 243.5M246.0 91.8L70.1 186.8M243.0 93.1L103.1 217.2M245.9 95.2L97.1 153.1M248.9 95.3L119.7 263.5" stroke="#ccc646" stroke-width="0.9"/>
<path d="M255.0 86.1C237.4 121.0 244.4 131.0 361.8 120.6M256.6 82.2C242.8 122.1 249.8 132.1 361.8 92.0" stroke="#549bf4" stroke-width="0.85"/>
<path d="M255.3 88.5C242.2 113.5 249.2 123.5 361.8 109.4M256.6 85.3C245.2 122.6 252.2 132.6 361.8 121.1M257.0 88.6C240.5 109.6 247.5 119.6 361.8 90.6M256.0 88.5C245.0 136.5 252.0 146.5 361.8 131.7" stroke="#5088f9" stroke-width="0.85"/>
<path d="M257.3 89.3C247.8 107.7 254.8 117.7 361.8 91.5M258.6 89.8C237.0 125.8 244.0 135.8 361.8 105.7M253.0 86.8C243.5 120.6 250.5 130.6 361.8 114.2M254.5 90.6C246.5 120.5 253.5 130.5 361.8 87.8M256.0 84.6C244.6 124.8 251.6 134.8 361.8 86.8M256.8 88.4C238.5 117.5 245.5 127.5 361.8 93.2M258.7 89.0C242.3 119.1 249.3 129.1 361.8 114.5" stroke="#4e7dfa" stroke-width="0.85"/>
<path d="M256.9 91.6C241.3 122.0 248.3 132.0 361.8 101.9M257.4 89.9C239.2 126.2 246.2 136.2 361.8 86.8M255.6 88.5C240.1 128.0 247.1 138.0 361.8 132.3" stroke="#4c62fa" stroke-width="0.85"/>
<path d="M252.5 86.2C237.7 127.9 244.7 137.9 361.8 113.3M256.8 84.3C240.9 105.7 247.9 115.7 361.8 87.5" stroke="#4c54fa" stroke-width="0.85"/>
<path d="M261.1 83.6C240.0 117.2 247.0 127.2 361.8 89.1" stroke="#56a2f0" stroke-width="0.85"/>
<path d="M254.2 85.1C244.7 125.5 251.7 135.5 361.8 92.3" stroke="#57a9ea" stroke-width="0.85"/>
<path d="M257.1 85.9C241.0 112.3 248.0 122.3 361.8 91.2M255.2 83.3C248.0 122.6 255.0 132.6 361.8 111.7M256.6 86.2C247.2 110.5 254.2 120.5 361.8 100.4M258.3 87.1C237.5 120.3 244.5 130.3 361.8 119.5" stroke="#4d70fa" stroke-width="0.85"/>
<path d="M189.4 45.9L234.8 -45.6M206.1 49.4L234.9 7.0M234.9 57.1L279.4 -34.2M235.0 96.2L289.6 25.7" stroke="#4b46fa" stroke-width="0.7" stroke-opacity="0.8"/>
<path d="M232.8 59.9L262.7 18.0M183.8 81.4L212.9 37.8" stroke="#4d70fa" stroke-width="0.7" stroke-opacity="0.8"/>
<path d="M226.1 98.3L263.7 33.4" stroke="#4c62fa" stroke-width="0.7" stroke-opacity="0.8"/>
<path d="M237.2 85.0C247.4 68.4 265.8 52.1 278.0 59.5M234.5 89.9C247.3 66.8 263.0 59.8 286.2 67.2M238.7 93.3C249.7 70.0 264.1 55.7 278.9 68.6M238.6 94.0C254.4 67.4 263.0 58.7 282.5 68.2M244.5 90.6C246.1 72.1 265.4 59.3 277.0 61.0M242.1 97.1C246.1 75.0 270.6 54.3 275.4 60.9M262.2 63.1Q268.2 65.1 270.7 84.4M265.0 58.3Q276.4 60.3 281.4 85.9" stroke="#ece247" stroke-width="0.75"/>
<path d="M243.5 96.1C251.4 74.8 272.0 55.5 282.3 60.5M268.0 58.2Q283.2 60.2 289.7 87.0" stroke="#9bde5a" stroke-width="0.75"/>
<path d="M240.6 94.1C252.8 68.1 267.0 52.0 279.6 65.6M242.6 99.1C254.8 76.9 270.3 48.9 283.5 62.0M238.2 98.7C252.3 65.6 263.4 53.0 281.0 58.4M237.1 98.9C250.1 70.7 265.0 51.7 277.6 60.8M238.9 93.7C247.5 67.7 264.1 59.3 278.4 61.4M243.1 90.8C247.8 72.8 267.4 61.3 278.8 57.8M269.3 60.9Q284.5 62.9 291.0 97.9M269.1 60.9Q285.6 62.9 292.7 82.2M262.7 67.1Q274.2 69.1 279.2 82.2M265.8 66.7Q280.8 68.7 287.2 101.6" stroke="#eaee48" stroke-width="0.75"/>
<path d="M242.6 94.8C250.6 71.9 265.0 53.7 282.5 64.5M244.8 93.5C252.7 71.7 265.3 58.4 279.8 64.1" stroke="#e9f543" stroke-width="0.75"/>
<path d="M237.3 94.2C249.0 69.6 268.5 54.9 279.2 61.4M241.6 93.6C248.6 67.8 262.6 53.0 284.9 62.8M268.3 65.5Q277.8 67.5 281.9 88.2" stroke="#ecc647" stroke-width="0.75"/>
<path d="M243.4 89.1C249.3 75.2 268.6 55.5 275.2 61.9M237.9 92.7C252.4 78.1 265.5 56.9 275.9 66.8M271.5 63.9Q276.9 65.9 279.2 84.7M264.7 63.9Q269.8 65.9 272.1 92.7M269.1 66.4Q279.4 68.4 283.8 92.3" stroke="#eed546" stroke-width="0.75"/>
<path d="M238.5 97.2C254.8 75.3 259.5 57.3 278.4 61.6" stroke="#becd46" stroke-width="0.75"/>
<path d="M268.3 63.6Q282.9 65.6 289.2 85.7" stroke="#ccc646" stroke-width="0.75"/>
<path d="M248.4 91.1L248.1 90.4L248.0 89.5L248.1 88.5L248.4 87.3L248.9 86.0L249.6 84.7L250.4 83.5L251.3 82.2L252.3 81.0L253.4 80.0L254.5 79.1L255.6 78.4L256.7 77.9L257.7 77.6L258.5 77.6L259.3 77.8L259.8 78.2L260.2 78.8L260.4 79.6L260.4 80.6L260.2 81.7L259.8 82.9L259.3 84.2L258.5 85.5L257.6 86.8L256.7 88.0L255.6 89.1L254.5 90.1L253.4 90.9L252.3 91.5M251.2 71.8L252.6 70.9L253.9 70.1L255.0 69.7L255.9 69.5L256.5 69.6L256.9 70.0L257.0 70.6L256.9 71.5L256.5 72.6L255.8 73.9L254.9 75.3L253.8 76.9L252.5 78.4L251.1 80.0L249.6 81.5L248.1 82.9L246.6 84.1L245.2 85.2L243.9 86.0L242.7 86.6L241.7 86.9M244.1 77.4L245.5 75.9L246.9 74.5L248.3 73.3L249.7 72.3L251.1 71.5L252.3 71.0L253.3 70.8L254.2 70.8L254.8 71.1L255.3 71.7L255.5 72.6L255.4 73.7L255.1 74.9L254.5 76.3L253.8 77.9L252.8 79.4L251.6 81.1L250.4 82.6L249.0 84.1L247.6 85.5L246.2 86.7L244.8 87.7L243.5 88.4L242.3 88.9L241.2 89.2L240.3 89.1L239.7 88.8L239.3 88.2L239.1 87.3L239.2 86.2L239.5 85.0L240.1 83.6M251.6 75.9L251.8 76.8L251.8 77.7L251.6 78.8L251.2 80.1L250.6 81.3L249.7 82.6L248.8 83.9L247.7 85.1L246.5 86.3L245.2 87.3L244.0 88.1L242.7 88.7L241.6 89.2L240.5 89.4L239.5 89.4L238.8 89.1L238.2 88.7L237.8 88.0L237.6 87.1L237.6 86.1L237.9 85.0L238.4 83.8L239.1 82.5L239.9 81.2L240.9 79.9L242.0 78.7L243.2 77.6L244.5 76.6L245.8 75.9" stroke="#e9f543" stroke-width="0.8"/>
<path d="M250.4 72.9L250.1 74.4L249.6 75.9L249.0 77.5L248.3 79.1L247.4 80.6L246.5 82.1L245.6 83.4L244.6 84.5L243.7 85.4L242.7 86.1L241.9 86.5L241.1 86.6L240.5 86.5L240.0 86.1L239.7 85.4L239.5 84.4L239.5 83.3L239.7 82.0L240.0 80.5L240.5 79.0L241.2 77.4L241.9 75.8L242.8 74.3L243.7 72.9L244.6 71.6L245.6 70.5L246.6 69.6L247.5 69.0L248.3 68.6L249.0 68.6L249.6 68.7M250.4 80.3L249.2 81.6L248.0 82.8L246.7 83.8L245.4 84.6L244.1 85.1L243.0 85.4L241.9 85.4L241.1 85.2L240.4 84.7L239.9 84.0L239.6 83.0L239.6 81.9L239.8 80.6L240.2 79.2L240.9 77.7L241.7 76.2L242.7 74.8L243.8 73.4L245.0 72.1L246.3 71.0L247.6 70.0L248.9 69.3L250.1 68.8L251.3 68.6L252.3 68.7L253.1 69.0L253.7 69.5L254.1 70.3L254.3 71.3L254.3 72.5L254.1 73.8L253.6 75.2" stroke="#eaee48" stroke-width="0.8"/>
</g>
<g clip-path="url(#c02)" fill="none" stroke-linecap="round">
<path d="M405.1 72.1L413.1 -120.7M406.4 92.8L366.4 -111.8M390.7 74.2L298.4 -99.4M408.4 81.1L382.9 -70.4M408.8 60.9L421.1 -67.6M397.0 72.5L373.6 -74.4M410.3 85.1L403.0 -66.1M398.2 75.5L336.4 -93.9M402.6 68.0L328.6 -80.8M388.7 77.8L323.8 -91.5M401.3 77.8L343.7 -56.8M402.0 77.0L314.8 -129.6M414.4 86.5L418.0 -116.0M399.8 79.9L326.6 -59.8M393.5 61.9L350.1 -82.0M392.8 71.3L324.7 -131.4M409.6 72.8L385.1 -123.6M395.3 77.7L329.6 -114.1M404.7 88.9L336.0 -74.1M398.5 67.8L304.1 -116.9M405.8 76.8L343.5 -81.0M402.4 80.7L339.2 -84.0M390.1 87.5L256.6 5.9M399.0 85.7L322.8 20.7M402.7 91.3L289.5 -95.6M391.4 77.6L358.3 44.0M399.3 83.3L225.3 -34.2M404.2 93.4L340.0 47.9M394.8 65.5L306.6 -22.3M394.2 70.9L264.3 -80.0M397.9 87.0L350.8 22.2M384.2 76.7L272.1 -115.0M394.9 80.1L323.1 17.1M393.6 83.1L354.0 43.5M403.7 86.7L243.4 -79.4M388.6 74.1L347.1 44.3M389.6 82.4L324.9 30.2M403.3 88.9L200.7 41.4M401.2 89.3L214.4 52.1M394.7 84.3L265.0 37.3M372.8 87.5L178.8 72.0M379.7 97.9L279.2 80.0M404.2 94.2L277.2 34.5M375.6 80.8L213.7 21.4M420.3 78.4L490.5 -72.7M410.5 90.4L608.4 36.6M418.4 71.4L509.1 -39.9M403.7 86.8L501.9 -26.9M407.8 97.8L496.0 -113.8M406.8 82.6L523.3 -69.2M412.1 84.3L517.7 -14.8M412.6 73.5L494.2 -35.3M422.0 66.4L488.7 -51.7M422.6 90.2L656.3 75.6M402.7 89.9L247.4 127.3M384.7 99.3L220.5 138.9M391.9 91.6L183.5 92.2M395.5 88.9L204.1 133.0M403.9 92.5L179.4 188.1M403.7 93.3L232.3 241.3M400.0 95.3L329.1 223.9M409.6 95.6L276.9 239.0M405.5 94.6L257.4 280.3M405.5 95.8L315.4 224.5M406.8 95.9L234.3 222.5M399.8 94.3L241.1 220.8M404.8 95.5L249.3 272.7M401.7 94.9L252.9 198.8M405.1 93.4L216.0 198.0" stroke="#70e28a" stroke-width="0.9"/>
<path d="M407.3 77.8L363.7 -103.5M413.8 73.6L460.1 -130.3M406.0 88.1L497.0 -109.6M399.0 90.5L464.3 -86.8M402.5 95.3L251.1 254.3M398.3 89.2L215.4 232.1M404.3 98.1L312.9 178.1M407.9 91.3L259.2 172.0M404.6 96.5L210.5 226.0M393.8 94.3L252.2 173.9" stroke="#acd650" stroke-width="0.9"/>
<path d="M404.3 73.4L382.4 -124.1M408.8 76.3L404.4 -107.5M407.6 85.0L382.3 -117.1M395.6 72.0L347.5 -132.7M407.6 75.8L347.8 -150.5M405.1 79.7L358.3 -138.3M400.7 64.5L327.3 -134.0M403.1 75.3L371.0 -51.3M401.4 77.9L375.5 -54.2M405.5 82.5L324.5 -141.2M403.4 82.1L361.4 -140.7M408.4 72.9L384.8 -142.8M403.3 76.2L324.8 -117.0M395.7 71.0L326.0 -120.7M396.6 81.4L395.4 -90.3M400.6 81.6L342.8 -146.7M405.5 83.5L361.3 -152.5M405.3 78.2L378.0 -93.5M390.1 65.7L331.1 -34.6M387.5 78.0L346.3 41.2M390.9 82.3L362.4 52.9M400.4 82.4L335.5 31.1M386.0 69.8L257.1 -92.9M402.5 86.4L277.3 -40.7M386.4 63.4L305.8 -38.9M383.3 77.4L213.0 -25.8M400.0 87.3L225.0 -29.6M392.0 81.6L371.2 58.3M394.1 62.6L324.5 -48.0M397.2 77.5L270.7 -65.8M385.6 72.6L239.0 -64.5M398.8 87.8L322.2 -15.8M400.9 85.5L306.1 21.7M400.0 84.2L294.9 1.9M382.6 75.9L230.5 -26.6M399.6 93.0L336.9 22.1M386.1 80.2L315.0 35.5M398.5 87.3L357.9 85.2M386.8 91.3L204.6 63.2M390.2 86.9L348.7 78.5M389.0 86.7L294.4 47.1M390.1 81.7L291.8 45.8M402.6 81.7L305.8 49.9M413.2 84.6L557.2 -102.2M424.4 78.2L557.1 -57.4M424.5 91.8L566.0 27.1M412.7 95.7L503.8 -52.2M405.9 78.8L470.3 -74.8M410.4 82.7L492.8 -93.6M404.8 79.1L442.9 -64.9M415.6 76.2L495.9 -116.9M408.8 68.7L487.8 -124.6M421.4 79.8L504.4 -25.2M404.7 92.1L534.7 -14.1M417.8 84.9L593.4 -21.1M413.1 80.0L598.9 -68.3M404.4 88.3L469.6 -66.1M415.7 70.1L515.8 -115.8M414.1 73.4L480.4 -97.7M416.9 73.4L510.2 -72.5M412.6 88.0L516.8 -10.4M413.3 81.0L510.1 -45.4M421.6 74.1L562.5 20.5M415.6 73.1L495.2 -88.3M404.4 71.6L464.2 -70.6M408.2 82.3L521.5 -114.8M395.6 92.5L227.0 112.2M399.2 90.1L276.9 149.2M403.0 96.2L212.8 221.7M408.5 94.1L342.4 205.7M405.6 97.9L290.9 244.9M407.3 92.8L252.4 248.1" stroke="#6ade98" stroke-width="0.9"/>
<path d="M407.7 89.1L299.1 -118.3M399.7 77.0L331.3 -57.5M408.3 85.9L417.2 -71.0M399.0 81.2L357.9 47.5M385.5 82.0L310.2 39.6M409.0 79.0L446.8 -53.2M404.0 82.9L484.6 -117.4M405.4 86.6L213.9 135.1M406.8 91.1L167.0 109.6M403.0 92.3L275.6 169.8M398.3 97.2L319.2 220.8M401.9 91.9L292.2 179.5M407.4 87.8L250.7 160.1M398.9 95.3L246.6 218.5" stroke="#9bde5a" stroke-width="0.9"/>
<path d="M402.2 77.5L396.7 -111.9M408.3 89.4L387.7 -61.5M409.1 86.9L422.2 -127.5M394.2 73.2L312.4 -78.7M411.0 91.9L360.9 -124.8M400.4 68.1L387.7 -81.2M413.4 79.6L341.2 -140.0M398.9 89.8L401.7 -136.7M402.4 74.8L386.6 -76.1M403.2 76.6L386.0 -90.8M397.8 69.2L298.0 -133.5M397.1 76.6L338.8 -143.1M407.5 88.5L293.6 -121.6M402.2 72.1L389.1 -91.1M412.5 90.9L412.4 -123.0M407.0 75.4L351.9 -137.4M412.3 74.6L431.2 -80.4M398.5 81.0L324.9 -134.3M407.5 80.4L423.8 -87.6M397.7 78.9L283.1 -121.8M400.2 82.9L409.7 -118.9M398.0 87.5L288.1 -6.4M402.5 89.7L315.1 -45.7M401.2 89.4L345.2 37.9M388.3 80.4L276.1 -90.6M389.8 66.5L355.6 30.3M386.5 77.9L306.0 -46.5M398.3 75.5L319.1 -4.4M385.6 81.1L326.7 10.6M402.0 87.9L354.5 34.2M397.2 80.8L324.3 -31.3M407.5 89.0L285.3 -8.6M389.3 81.4L289.0 13.8M390.4 75.2L347.7 32.8M375.3 92.5L326.7 88.4M374.6 81.1L210.8 47.3M403.8 88.1L364.4 85.4M384.7 83.0L244.4 31.2M394.6 83.8L298.3 73.8M378.2 71.0L235.6 -5.8M386.3 82.0L326.0 69.3M393.8 85.3L203.7 -21.9M391.2 91.3L353.3 79.6M417.1 79.3L557.8 -91.9M423.1 63.2L556.6 -76.4M407.0 72.5L440.8 -77.0M419.0 90.2L564.9 26.3M414.7 89.6L556.9 -100.3M409.8 80.7L503.9 -22.9M416.5 82.7L554.9 14.3M416.5 74.5L508.3 -90.5M400.7 68.6L451.9 -109.8M416.5 82.1L501.6 -57.8M405.0 91.0L608.1 51.7M410.1 74.3L445.2 -53.2M415.6 81.6L499.7 -84.2M426.4 81.8L600.8 -32.8M422.5 86.8L638.6 68.4M418.2 73.8L524.0 -98.2M415.8 81.3L560.1 -29.8M427.1 94.4L583.7 52.0M410.7 86.4L565.4 38.1M415.6 74.3L535.6 -105.1M412.1 92.1L615.2 -23.2M400.0 92.3L275.7 107.7M401.8 95.5L192.2 167.2M379.3 91.8L277.9 117.1M411.3 94.4L298.7 302.2M403.8 90.2L266.9 173.5M397.7 92.5L216.3 197.6M399.1 95.2L214.9 170.5M396.6 94.6L195.1 193.3" stroke="#64daa5" stroke-width="0.9"/>
<path d="M404.4 92.8L407.2 -98.7M408.5 79.5L411.4 -119.3M405.2 76.1L435.7 -150.4M397.3 70.2L342.6 -137.9M403.5 80.7L329.4 -145.6M413.1 63.2L425.9 -90.5M408.7 86.4L409.2 -126.1M408.7 66.4L415.7 -117.3M400.1 88.0L375.0 -64.7M398.0 68.8L386.2 -71.4M400.2 70.2L309.2 -92.9M404.4 71.6L393.6 -114.4M399.0 76.0L307.7 -90.1M398.6 82.9L329.3 -103.8M405.6 75.0L345.4 -150.8M409.5 96.5L334.3 -119.0M403.6 84.9L265.0 -67.0M400.4 78.4L307.6 10.3M400.9 89.9L249.0 -12.2M394.5 80.2L240.7 -37.2M383.7 76.5L248.1 -37.1M387.9 74.5L284.6 -3.8M394.7 79.7L306.1 26.9M389.8 75.5L332.1 16.5M388.5 56.4L273.1 -129.7M388.9 83.1L350.9 63.7M380.2 83.2L179.8 47.7M369.3 83.0L172.0 24.5M412.7 86.7L500.9 -56.9M401.6 93.8L214.8 170.2M405.0 92.6L251.1 198.6M403.2 94.5L230.2 228.5M408.7 94.5L296.7 180.6M403.8 91.5L315.7 202.6M400.2 94.8L269.4 267.9M405.4 92.4L294.1 168.1M402.6 99.6L285.3 263.7M400.7 99.1L307.6 214.6" stroke="#79e37c" stroke-width="0.9"/>
<path d="M408.9 59.8L388.3 -113.0M419.3 80.4L561.4 -19.3M414.6 94.3L572.0 81.4M421.1 86.4L564.3 -12.7M417.7 91.6L592.4 13.9M406.7 99.9L329.0 210.4" stroke="#4c54fa" stroke-width="0.9"/>
<path d="M402.4 63.4L401.3 -134.0M386.7 74.4L209.7 -44.2M400.8 90.3L244.9 -5.6M431.2 74.8L595.2 -32.6M424.4 81.6L549.8 -65.5M408.4 83.2L562.2 -67.2M409.5 97.9L529.3 -7.2M415.0 91.8L578.3 85.2M417.8 78.6L613.4 22.4M418.0 90.3L611.5 -8.2M380.0 96.3L275.8 116.2M403.0 90.9L216.5 100.2M403.4 99.6L319.9 205.5M401.9 92.7L210.3 179.0M397.5 95.6L206.7 189.1M406.5 93.7L268.7 247.9M404.9 93.7L253.9 270.9M396.7 92.0L291.2 148.6M402.6 91.9L296.4 151.8" stroke="#eaee48" stroke-width="0.9"/>
<path d="M404.5 69.6L369.0 -130.6M409.4 68.1L415.1 -80.1M409.6 90.3L276.4 -16.7M383.2 82.9L272.3 45.3M379.2 81.5L306.0 66.8M400.5 93.1L293.1 211.9M403.0 90.7L294.5 133.8" stroke="#8fe164" stroke-width="0.9"/>
<path d="M405.7 76.0L419.6 -130.7M392.3 89.1L299.3 -6.9M378.7 70.4L328.4 41.9M408.1 72.3L485.0 -92.1M419.5 82.1L560.6 55.2M414.3 79.9L461.9 -78.7M424.9 87.5L542.4 -20.7M410.6 88.6L608.8 80.2M418.1 87.7L629.4 4.0M415.6 83.4L621.8 -35.4M425.2 92.0L630.9 31.5M417.3 94.9L626.2 58.0M409.5 72.6L480.9 -52.0M414.3 71.1L569.4 -64.1M415.9 83.3L546.1 -26.1M401.2 90.9L567.6 -88.2M408.4 86.6L531.6 -115.0M402.8 93.1L513.2 -65.0M414.6 89.9L531.1 2.9M411.5 84.3L537.0 -28.4M426.5 74.1L542.5 -20.6M419.3 90.1L605.9 66.4M406.1 97.5L586.6 -3.4M427.7 81.9L562.2 70.8M419.5 87.5L571.7 60.3M415.9 76.1L530.3 -92.3M411.9 81.3L518.7 -43.1M430.4 84.3L559.7 69.5M407.1 88.2L451.4 -91.8M422.1 91.1L570.6 53.4M406.7 89.9L240.3 267.3" stroke="#58b0e4" stroke-width="0.9"/>
<path d="M407.6 78.2L422.8 -96.1M399.5 70.4L340.5 -142.8M382.3 86.0L273.2 -5.7M394.8 83.3L313.7 20.0M416.3 75.8L522.9 -71.3M419.5 82.5L529.5 -56.6M405.2 87.1L449.6 -88.4M399.4 95.6L174.2 113.3M398.0 95.9L290.1 185.7M400.8 95.0L271.7 149.4M402.2 90.8L260.8 143.0M407.7 91.7L289.7 174.4M402.7 90.9L238.8 170.4M401.7 96.9L289.8 145.6M395.1 93.8L285.7 145.9M401.8 93.8L234.1 239.1M399.0 96.0L256.3 167.2M401.7 91.9L208.9 216.2M406.4 90.1L288.3 136.3" stroke="#becd46" stroke-width="0.9"/>
<path d="M406.5 82.5L418.5 -68.7M389.3 71.8L363.1 41.6M430.5 89.5L586.5 82.0M420.1 83.7L576.1 31.6M423.2 90.5L565.3 62.6M421.6 84.1L540.0 23.9M422.7 90.0L639.2 8.7" stroke="#4c62fa" stroke-width="0.9"/>
<path d="M407.2 81.0L362.0 -146.1M387.1 76.9L251.9 -83.2M399.8 87.1L275.8 14.3M381.9 80.6L275.4 8.4M417.0 76.3L553.8 -24.3M413.5 92.5L589.2 -38.8M411.2 83.9L509.4 -46.4M413.6 63.8L457.4 -93.5M423.5 79.1L499.2 -29.8M407.7 85.9L579.5 -60.2M413.3 72.1L528.4 -32.7M419.4 85.9L568.5 31.6M414.8 72.2L546.2 -99.1M422.7 73.3L586.6 -56.8M402.3 99.2L580.1 41.8M410.8 80.1L567.6 -58.0M414.0 78.6L516.2 -71.9M408.6 88.4L612.7 47.3M408.5 93.8L588.2 50.7M424.1 83.3L570.3 74.7M424.6 95.6L596.4 59.2M408.6 91.7L646.2 58.8M408.1 91.3L227.0 99.9M400.2 97.3L309.7 231.5M403.3 94.3L284.7 200.1M405.1 98.6L314.4 213.0" stroke="#59b8db" stroke-width="0.9"/>
<path d="M395.8 85.4L226.6 -26.4M396.9 92.3L213.9 -43.2M393.8 59.3L372.2 26.6M409.9 95.3L347.9 52.8M400.6 81.8L343.9 33.0M411.1 96.9L640.9 48.5M411.2 85.8L492.2 -110.3M383.9 99.5L243.5 136.7M389.2 92.9L223.0 99.3M403.8 95.6L262.9 197.0M405.3 95.5L250.7 221.7" stroke="#eed546" stroke-width="0.9"/>
<path d="M399.3 88.8L285.2 -56.2M415.9 91.6L576.4 49.3M418.5 79.3L566.2 -36.2M414.1 88.7L575.0 36.1M412.0 81.8L582.6 37.6M406.8 87.9L636.4 -5.9M417.8 90.4L588.6 23.3M404.3 87.6L259.3 157.3M403.0 96.3L305.3 193.3" stroke="#5088f9" stroke-width="0.9"/>
<path d="M397.7 79.3L370.1 39.4M420.0 86.1L585.6 0.3M409.0 95.9L471.3 -120.3M403.1 95.4L244.9 137.1M385.9 88.9L203.6 132.3M405.5 94.0L262.8 190.4M409.7 92.0L258.9 162.6M403.6 92.8L241.6 154.4" stroke="#e9f543" stroke-width="0.9"/>
<path d="M392.2 83.5L361.3 64.1M366.5 83.4L295.1 60.9M391.1 84.4L296.9 49.1M404.4 90.7L549.4 86.9M413.9 78.1L521.6 -96.5M409.0 76.6L473.9 -57.1M401.4 86.7L564.2 82.5M407.9 87.6L549.2 27.8M409.9 94.0L565.4 -43.0M392.3 92.5L276.1 115.7M396.4 90.7L212.9 123.7M406.1 93.5L344.5 192.9M398.5 97.5L297.0 244.2M398.2 97.3L196.0 217.7M406.5 94.5L228.6 246.1" stroke="#5bc7c8" stroke-width="0.9"/>
<path d="M401.5 88.5L262.1 27.7M401.0 89.3L295.1 83.6M421.7 88.6L557.5 13.5M407.0 89.6L584.6 27.0M418.2 81.1L578.7 60.6M426.0 88.1L616.8 -8.6M403.3 92.5L272.6 244.5" stroke="#5ccebe" stroke-width="0.9"/>
<path d="M398.3 86.5L326.9 72.1M361.5 82.6L170.6 35.3M427.2 83.0L596.0 22.7M398.8 91.7L436.7 -74.5M420.6 97.0L567.4 76.2M414.9 86.7L535.4 -59.1M423.6 74.6L535.2 -104.0M416.5 78.6L538.6 -113.3M402.9 86.5L529.8 -28.9M389.6 96.1L228.3 100.8M391.0 101.0L162.3 133.5M406.9 94.4L281.7 163.2M400.5 100.2L203.1 203.1M399.4 94.4L184.2 183.2M401.3 95.1L239.4 201.3M403.5 94.6L304.3 166.9M406.6 97.1L263.7 280.1M405.5 97.2L267.8 199.8M396.0 95.4L292.9 208.3M398.1 93.5L229.7 184.9M396.4 95.5L257.3 179.1M407.3 94.4L250.1 182.6" stroke="#ece247" stroke-width="0.9"/>
<path d="M423.1 79.2L597.2 -24.8M412.2 87.6L545.2 29.6M419.1 75.5L473.2 -64.9M414.5 93.6L617.3 63.4M429.4 77.6L603.1 -37.3M422.7 97.3L621.7 60.2M409.7 75.2L476.1 -88.8M424.1 86.5L583.9 -3.2M428.8 83.0L580.1 39.0M399.3 90.2L525.9 -82.1M432.0 83.7L622.9 61.0M419.9 75.5L466.1 -75.6M427.5 92.5L632.1 9.2M405.6 93.1L578.0 33.8M422.7 87.3L569.1 -11.4M403.5 88.0L489.5 -85.3" stroke="#60d4b2" stroke-width="0.9"/>
<path d="M413.8 88.9L479.9 -56.0M410.5 92.5L578.2 15.4M404.8 85.5L460.7 -56.0M412.3 90.2L549.9 41.6M428.8 93.7L628.8 76.4M414.4 81.8L599.2 62.4M416.6 89.7L643.4 37.3M428.2 68.6L563.9 -38.6M405.5 92.2L577.4 -7.5M411.5 87.7L526.6 -35.3M412.2 84.5L531.1 -37.8M416.1 93.9L574.9 47.5M413.9 92.7L553.3 -3.4M405.0 89.5L579.4 -85.9M411.8 93.9L634.4 36.0M411.8 77.2L546.9 19.6M408.8 91.2L627.9 19.6M420.9 91.8L561.2 8.9M435.3 97.1L577.8 68.0M409.6 89.9L623.3 24.8" stroke="#57a9ea" stroke-width="0.9"/>
<path d="M424.7 85.6L575.0 3.7M417.1 83.8L589.9 -12.7M420.5 86.0L635.7 0.4M429.7 81.1L603.4 70.1M411.9 91.8L611.5 34.8M409.1 92.5L534.4 -38.7M416.8 92.2L527.5 -71.2M411.9 89.5L523.9 -68.3M403.2 84.2L620.0 -8.2M414.2 92.8L651.3 75.7M414.4 87.0L594.6 32.3M412.9 75.9L471.9 -83.3M418.5 75.7L576.0 -36.4M408.0 95.7L558.6 -23.0M404.7 85.8L580.7 -26.5M415.4 69.7L476.7 -123.3M425.3 76.2L524.4 -83.2M399.4 96.1L278.7 212.5M399.2 96.6L261.1 249.9M406.7 96.9L324.6 227.1" stroke="#5ac0d2" stroke-width="0.9"/>
<path d="M393.5 86.1L638.5 57.8M421.3 71.9L536.0 -6.1M435.8 82.4L597.2 -1.4M401.6 85.4L566.4 -42.1M415.5 85.6L617.0 -34.0M425.6 88.0L597.9 8.0" stroke="#56a2f0" stroke-width="0.9"/>
<path d="M399.0 87.0L455.3 -55.0M428.8 87.8L542.8 -39.6M416.2 86.9L584.3 -49.9M414.2 77.4L478.7 -83.2M410.9 87.1L623.1 59.5M416.7 91.2L547.6 53.7M424.9 85.2L601.3 -23.2M403.0 100.6L553.9 21.7M422.0 78.9L595.3 5.3M427.5 91.6L582.6 67.5M413.9 92.3L577.8 31.6M416.1 81.6L605.6 -22.9M415.9 91.4L592.4 -1.7M404.7 83.7L447.3 -102.6M422.2 91.7L611.7 7.3M407.8 98.1L303.7 276.2M402.4 97.0L190.9 203.5M402.4 100.5L345.3 228.6M404.9 95.3L360.9 213.2M405.9 89.4L344.4 272.9" stroke="#4d70fa" stroke-width="0.9"/>
<path d="M422.4 81.0L583.9 -78.5M422.4 90.6L572.7 -7.2M434.2 85.6L569.2 -5.0M433.8 85.2L646.6 66.6M437.9 93.7L633.3 73.5M423.7 81.3L584.1 34.2M427.1 82.5L595.0 27.6M415.0 76.5L541.1 -119.2M408.8 96.3L382.2 210.8" stroke="#4e7dfa" stroke-width="0.9"/>
<path d="M420.3 86.7L547.1 30.3M410.1 76.3L451.5 -62.5M413.7 77.8L473.9 -119.0M430.3 78.9L577.3 -10.3M407.6 89.2L535.3 -89.9M407.5 74.7L564.7 -103.4M402.1 97.8L303.3 289.4M401.9 94.3L375.0 284.3" stroke="#5294f8" stroke-width="0.9"/>
<path d="M417.4 70.4L496.8 -60.5" stroke="#dabe46" stroke-width="0.9"/>
<path d="M401.9 90.7L210.1 123.3M397.6 94.1L260.4 100.5M402.1 90.7L274.5 155.4M401.2 90.4L274.1 284.8M403.0 94.8L301.3 273.1M406.3 94.5L262.4 201.8M401.1 96.2L247.6 159.3M400.8 92.5L281.5 144.9M401.9 97.5L274.0 227.7M407.2 97.5L266.3 173.6M406.0 92.6L322.2 203.4M402.3 94.8L320.2 187.9M399.3 90.9L289.8 132.6" stroke="#82e46e" stroke-width="0.9"/>
<path d="M404.2 88.4L291.8 126.3M404.1 96.4L288.8 197.2M396.8 92.4L179.8 177.5M403.5 91.0L262.6 236.5M402.0 93.3L206.0 214.5" stroke="#ccc646" stroke-width="0.9"/>
<path d="M402.2 97.3L213.9 176.3" stroke="#4b46fa" stroke-width="0.9"/>
<path d="M411.2 95.1C397.7 119.7 404.7 129.7 520.2 97.5M413.1 87.6C400.3 118.6 407.3 128.6 520.2 96.9M414.3 89.8C397.7 130.5 404.7 140.5 520.2 101.8M410.3 88.4C402.0 128.9 409.0 138.9 520.2 132.3" stroke="#4c54fa" stroke-width="0.85"/>
<path d="M410.1 92.8C393.5 124.5 400.5 134.5 520.2 115.2" stroke="#57a9ea" stroke-width="0.85"/>
<path d="M411.0 84.8C394.7 113.9 401.7 123.9 520.2 112.9M407.9 90.2C402.2 126.8 409.2 136.8 520.2 84.6M410.7 89.7C401.0 124.6 408.0 134.6 520.2 97.9M412.3 88.3C396.5 115.4 403.5 125.4 520.2 98.3M409.5 85.1C404.6 116.4 411.6 126.4 520.2 104.8" stroke="#4c62fa" stroke-width="0.85"/>
<path d="M411.0 91.0C404.8 128.5 411.8 138.5 520.2 129.0M408.7 92.4C401.9 113.7 408.9 123.7 520.2 114.0M414.2 90.9C400.4 115.6 407.4 125.6 520.2 113.9" stroke="#56a2f0" stroke-width="0.85"/>
<path d="M413.6 89.5C400.1 124.4 407.1 134.4 520.2 101.1M411.0 93.3C397.0 131.2 404.0 141.2 520.2 95.3M415.4 88.0C400.5 124.3 407.5 134.3 520.2 93.6M408.7 87.1C397.9 126.6 404.9 136.6 520.2 131.9" stroke="#4e7dfa" stroke-width="0.85"/>
<path d="M411.1 86.4C397.1 117.5 404.1 127.5 520.2 115.9M410.2 91.2C393.4 125.9 400.4 135.9 520.2 97.1" stroke="#5088f9" stroke-width="0.85"/>
<path d="M412.3 89.9C396.3 128.5 403.3 138.5 520.2 97.6M411.6 89.6C398.1 130.7 405.1 140.7 520.2 91.2" stroke="#5294f8" stroke-width="0.85"/>
<path d="M409.0 89.7C396.0 107.5 403.0 117.5 520.2 103.3M410.8 91.1C399.1 122.4 406.1 132.4 520.2 102.4" stroke="#549bf4" stroke-width="0.85"/>
<path d="M413.2 94.7C401.6 126.2 408.6 136.2 520.2 113.9" stroke="#4d70fa" stroke-width="0.85"/>
<path d="M372.5 75.7L430.9 -2.0" stroke="#4b46fa" stroke-width="0.7" stroke-opacity="0.8"/>
<path d="M399.4 72.7L454.3 -21.0M363.0 87.7L387.0 38.9" stroke="#4c54fa" stroke-width="0.7" stroke-opacity="0.8"/>
<path d="M398.8 46.0L444.5 -37.1M361.2 73.8L428.3 -13.2" stroke="#4d70fa" stroke-width="0.7" stroke-opacity="0.8"/>
<path d="M397.1 92.2L397.3 91.0L398.0 89.3L399.2 87.2L400.8 84.8L402.8 82.2L405.2 79.5L407.8 76.6L410.6 73.8L413.5 71.1L416.4 68.5L419.2 66.2L421.8 64.3L424.2 62.7L426.3 61.6L428.0 61.0L429.2 60.8L430.0 61.2L430.3 62.0L430.0 63.3L429.3 65.0L428.1 67.1L426.4 69.5L424.4 72.1L422.0 74.9L419.4 77.8L416.6 80.6L413.7 83.3L410.8 85.8L408.0 88.1L405.3 90.0L403.0 91.5L400.9 92.6L399.3 93.2L398.1 93.3M430.3 61.9L430.5 62.6L430.1 63.9L429.2 65.6L427.7 67.8L425.8 70.3L423.5 73.1L420.9 76.0L418.0 79.1L414.9 82.2L411.8 85.1L408.7 87.9L405.8 90.4L403.1 92.5L400.7 94.2L398.7 95.4L397.2 96.1L396.2 96.2L395.7 95.8L395.7 94.9L396.3 93.4L397.4 91.5L399.1 89.2L401.1 86.6L403.6 83.8L406.3 80.7L409.3 77.7L412.4 74.6L415.5 71.7L418.5 69.1L421.4 66.7L424.0 64.7L426.2 63.2L428.0 62.2L429.4 61.7M422.6 70.1L425.2 68.3L427.4 67.0L429.2 66.1L430.5 65.6L431.3 65.6L431.5 66.0L431.2 66.9L430.3 68.3L428.9 70.0L427.1 72.0L424.8 74.3L422.1 76.8L419.2 79.5L416.1 82.1L412.9 84.7L409.8 87.2L406.7 89.5L403.8 91.6L401.3 93.3L399.1 94.6L397.3 95.5L396.0 95.9L395.2 95.9L395.0 95.4L395.4 94.5L396.3 93.2L397.7 91.4L399.6 89.4L401.9 87.0L404.6 84.5L407.5 81.9L410.7 79.2M393.8 97.1L393.8 96.3L394.4 95.1L395.6 93.3L397.3 91.1L399.6 88.6L402.3 85.8L405.3 82.8L408.5 79.7L412.0 76.5L415.4 73.5L418.9 70.7L422.1 68.1L425.1 65.9L427.8 64.1L430.0 62.7L431.7 61.9L432.9 61.6L433.4 61.8L433.4 62.6L432.8 63.9L431.5 65.7L429.8 67.9L427.5 70.4L424.8 73.3L421.8 76.3L418.5 79.4L415.1 82.5L411.6 85.5L408.2 88.3L405.0 90.9L402.0 93.1L399.3 94.9L397.1 96.2L395.4 97.1M421.0 73.6C427.3 64.4 440.9 59.6 446.8 67.1M424.3 67.6C429.8 59.7 441.3 50.8 445.3 60.9M428.8 63.6C432.4 55.3 435.0 51.6 450.1 62.0M421.2 66.4C432.9 51.9 436.9 62.3 444.9 64.4" stroke="#eaee48" stroke-width="0.9"/>
<path d="M420.6 76.6L417.6 79.5L414.5 82.4L411.3 85.1L408.1 87.7L405.1 89.9L402.3 91.9L399.8 93.4L397.8 94.4L396.2 94.9L395.1 95.0L394.6 94.5L394.7 93.5L395.3 92.1L396.5 90.2L398.2 88.0L400.4 85.4L402.9 82.7L405.8 79.8L408.9 76.9L412.0 74.1L415.3 71.4L418.4 69.0L421.3 66.8L424.0 65.0L426.3 63.7L428.2 62.8L429.6 62.5L430.5 62.6L430.8 63.3L430.5 64.4L429.7 66.1L428.3 68.1M419.2 65.5L422.3 63.2L425.0 61.2L427.3 59.8L429.2 58.9L430.6 58.5L431.4 58.8L431.7 59.6L431.3 60.9L430.4 62.8L429.0 65.0L427.0 67.7L424.6 70.7L421.9 73.8L418.8 77.1L415.6 80.3L412.3 83.5L409.0 86.4L405.8 89.1L402.8 91.4L400.1 93.3L397.8 94.7L396.0 95.5L394.7 95.8L393.9 95.5L393.7 94.6L394.1 93.2L395.1 91.3L396.6 89.0L398.6 86.3L401.1 83.3L403.9 80.1L407.0 76.9M390.8 96.6L391.2 95.5L392.2 93.9L393.7 91.8L395.8 89.3L398.2 86.6L401.0 83.6L404.1 80.5L407.4 77.4L410.8 74.3L414.1 71.4L417.3 68.7L420.3 66.4L423.0 64.4L425.3 62.9L427.1 61.9L428.4 61.5L429.2 61.6L429.3 62.2L428.9 63.3L427.9 65.0L426.4 67.1L424.4 69.5L421.9 72.3L419.1 75.2L416.0 78.3L412.7 81.5L409.3 84.5L406.0 87.5L402.8 90.1L399.8 92.5L397.1 94.4L394.8 95.9M418.6 68.0L421.2 66.6L423.6 65.6L425.6 65.1L427.1 65.1L428.2 65.6L428.8 66.6L428.8 68.0L428.3 69.8L427.2 72.0L425.7 74.4L423.8 77.1L421.4 79.9L418.8 82.7L415.9 85.4L412.9 88.1L409.9 90.5L406.9 92.6L404.1 94.3L401.5 95.6L399.2 96.5L397.3 96.9L395.8 96.8L394.9 96.2L394.4 95.1L394.5 93.6L395.2 91.7L396.3 89.5L397.9 87.0L400.0 84.3L402.4 81.5L405.1 78.7L408.0 75.9L411.0 73.4L414.0 71.0L417.0 69.0M400.0 92.8L397.2 94.6L394.8 95.9L393.0 96.6L391.7 96.7L391.0 96.2L391.0 95.2L391.6 93.6L392.8 91.6L394.6 89.1L396.9 86.3L399.7 83.3L402.8 80.1L406.2 76.9L409.7 73.7L413.3 70.6L416.8 67.9L420.0 65.4L423.0 63.4L425.7 61.9L427.8 61.0L429.4 60.6L430.3 60.7L430.7 61.5L430.4 62.8L429.5 64.6L428.0 66.9L425.9 69.5L423.4 72.4L420.4 75.6L417.1 78.8L413.7 82.0L410.1 85.2L406.5 88.1L403.1 90.7M405.6 91.8L402.5 94.1L399.7 96.0L397.3 97.4L395.3 98.2L394.0 98.5L393.2 98.2L393.0 97.4L393.4 96.0L394.4 94.1L396.0 91.8L398.1 89.1L400.7 86.2L403.6 83.0L406.8 79.8L410.2 76.6L413.7 73.4L417.1 70.5L420.4 67.9L423.5 65.7L426.2 63.9L428.5 62.7L430.3 61.9L431.6 61.8L432.2 62.2L432.3 63.2L431.7 64.7L430.6 66.6L428.9 69.0L426.6 71.8L424.0 74.8L421.0 78.0L417.7 81.2L414.3 84.4L410.8 87.5" stroke="#eed546" stroke-width="0.9"/>
<path d="M420.4 62.9L423.1 61.4L425.5 60.4L427.4 59.9L428.8 60.0L429.7 60.6L430.1 61.8L429.8 63.5L429.0 65.7L427.7 68.2L425.8 71.0L423.5 74.1L420.9 77.2L418.0 80.4L414.8 83.5L411.6 86.4L408.4 89.0L405.3 91.3L402.4 93.1L399.9 94.5L397.7 95.3L395.9 95.5L394.7 95.2L394.0 94.4L393.9 93.0L394.4 91.1L395.4 88.8L396.9 86.1L399.0 83.2L401.4 80.1L404.2 76.9L407.2 73.8L410.4 70.7M419.1 66.1C430.6 54.7 439.3 51.2 455.8 64.4M424.5 65.5C424.0 54.3 436.7 53.4 450.2 64.8" stroke="#ecc647" stroke-width="0.9"/>
<path d="M392.7 93.9L392.2 92.9L392.3 91.3L393.1 89.4L394.5 87.0L396.4 84.3L398.9 81.5L401.7 78.5L405.0 75.4L408.4 72.4L412.0 69.6L415.6 67.0L419.2 64.7L422.5 62.8L425.5 61.3L428.1 60.4L430.2 60.0L431.7 60.1L432.7 60.7L433.1 61.9L432.8 63.5L431.8 65.6L430.3 68.1L428.2 70.8L425.7 73.7L422.7 76.7L419.4 79.8L415.9 82.7L412.3 85.5L408.7 88.1L405.2 90.3L402.0 92.1L399.0 93.4L396.6 94.2M392.9 92.4L393.6 90.4L394.9 88.1L396.7 85.5L399.0 82.6L401.7 79.6L404.7 76.6L408.0 73.7L411.3 70.9L414.7 68.4L418.0 66.2L421.1 64.3L423.9 63.0L426.3 62.1L428.3 61.8L429.8 61.9L430.7 62.6L431.0 63.9L430.7 65.5L429.8 67.6L428.3 70.1L426.4 72.8L423.9 75.7L421.1 78.7L418.0 81.7L414.7 84.6L411.4 87.3L408.0 89.8L404.8 91.9L401.7 93.5L399.0 94.8L396.7 95.5L394.9 95.7M395.1 85.7L397.0 83.3L399.3 80.6L401.9 77.9L404.8 75.2L407.9 72.6L411.0 70.2L414.2 68.1L417.2 66.3L419.9 64.8L422.4 63.9L424.5 63.3L426.1 63.3L427.2 63.7L427.8 64.6L427.8 66.0L427.2 67.7L426.1 69.8L424.4 72.2L422.4 74.8L419.9 77.4L417.1 80.1L414.1 82.8L411.0 85.3L407.8 87.6L404.7 89.6L401.8 91.2L399.2 92.4L396.9 93.1L395.1 93.4L393.8 93.2L392.9 92.5L392.7 91.3M425.2 69.8L422.7 72.2L420.0 74.8L416.9 77.6L413.7 80.3L410.5 83.1L407.2 85.7L404.1 88.1L401.3 90.2L398.7 91.9L396.5 93.3L394.8 94.2L393.6 94.6L393.0 94.6L392.9 94.1L393.4 93.1L394.4 91.6L396.0 89.8L398.1 87.7L400.5 85.2L403.3 82.6L406.4 79.8L409.6 77.1L412.9 74.3L416.1 71.8L419.2 69.4L422.0 67.3L424.6 65.6L426.7 64.3L428.3 63.4L429.5 63.0L430.1 63.1L430.1 63.7L429.5 64.8M421.1 62.7C428.4 51.9 439.0 56.7 452.2 65.3M421.2 70.7C436.2 59.4 441.6 59.1 448.1 65.3M419.8 65.2C431.5 58.3 446.2 57.0 447.2 65.5M418.9 70.0C432.2 54.8 438.8 57.8 445.2 64.7M422.1 68.8C428.8 56.1 438.5 56.0 446.1 61.3" stroke="#ece247" stroke-width="0.9"/>
<path d="M426.2 65.9L424.2 68.3L421.7 71.0L419.0 73.9L416.0 77.0L412.9 80.0L409.7 83.0L406.6 85.8L403.6 88.4L400.9 90.7L398.4 92.5L396.4 93.9L394.8 94.9L393.7 95.3L393.2 95.1L393.2 94.5L393.8 93.3L394.8 91.6L396.4 89.6L398.5 87.1L400.9 84.4L403.7 81.5L406.7 78.5L409.8 75.4L413.0 72.4L416.1 69.6L419.1 67.0L421.8 64.8L424.2 63.0L426.2 61.6L427.8 60.7L428.8 60.3L429.3 60.5L429.3 61.2L428.7 62.4L427.6 64.1" stroke="#becd46" stroke-width="0.9"/>
<path d="M429.0 63.1L428.9 64.5L428.2 66.3L427.0 68.5L425.4 70.9L423.3 73.5L420.9 76.3L418.2 79.0L415.4 81.7L412.4 84.3L409.5 86.6L406.6 88.6L403.9 90.2L401.5 91.5L399.4 92.2L397.8 92.5L396.6 92.3L395.9 91.6L395.7 90.5L396.1 88.9L397.0 86.9L398.3 84.6L400.1 82.1L402.3 79.4L404.8 76.7L407.6 73.9L410.5 71.3L413.5 68.8L416.4 66.6L419.2 64.7L421.8 63.2L424.1 62.2L426.0 61.6L427.5 61.5M422.6 75.5L419.5 78.6L416.2 81.7L412.8 84.6L409.5 87.3L406.3 89.6L403.3 91.6L400.6 93.1L398.4 94.1L396.6 94.6L395.4 94.6L394.7 93.9L394.7 92.8L395.3 91.1L396.4 89.1L398.1 86.6L400.3 83.9L402.9 80.9L405.8 77.8L409.0 74.8L412.3 71.8L415.7 68.9L419.0 66.4L422.1 64.2L425.0 62.4L427.5 61.1L429.5 60.4L431.0 60.1L432.0 60.5L432.3 61.3L432.1 62.7L431.3 64.6L429.9 66.8L427.9 69.4L425.5 72.3M431.2 63.6L431.2 65.1L430.5 67.0L429.4 69.4L427.7 72.2L425.5 75.1L423.0 78.3L420.2 81.5L417.1 84.6L413.9 87.6L410.7 90.4L407.6 92.8L404.7 94.9L402.0 96.4L399.7 97.5L397.8 97.9L396.4 97.9L395.6 97.2L395.3 96.0L395.6 94.4L396.4 92.2L397.8 89.7L399.7 86.8L402.0 83.8L404.6 80.6L407.5 77.4L410.7 74.3L413.9 71.4L417.0 68.8L420.1 66.5L423.0 64.6L425.5 63.2L427.6 62.4L429.3 62.1M425.8 70.3C433.3 59.1 439.0 57.6 446.9 65.6" stroke="#acd650" stroke-width="0.9"/>
<path d="M410.0 85.1L407.0 87.5L404.1 89.8L401.6 91.6L399.3 93.1L397.5 94.2L396.1 94.7L395.3 94.8L394.9 94.4L395.2 93.5L395.9 92.1L397.2 90.4L399.0 88.3L401.1 85.9L403.7 83.2L406.5 80.5L409.5 77.7L412.5 74.9L415.6 72.3L418.6 69.9L421.4 67.8L423.9 66.0L426.0 64.6L427.7 63.7L428.9 63.3L429.7 63.3L429.8 63.9L429.5 64.9L428.6 66.4L427.1 68.2L425.3 70.4L423.0 72.9L420.4 75.5L417.5 78.3L414.5 81.1" stroke="#ccc646" stroke-width="0.9"/>
<path d="M403.5 90.7L400.8 92.1L398.5 93.0L396.6 93.4L395.2 93.3L394.4 92.8L394.0 91.8L394.3 90.3L395.1 88.5L396.4 86.3L398.2 83.8L400.4 81.2L403.1 78.4L406.0 75.6L409.0 72.9L412.2 70.3L415.4 67.9L418.5 65.8L421.5 64.1L424.1 62.8L426.4 61.9L428.2 61.5L429.6 61.6L430.4 62.2L430.7 63.3L430.4 64.7L429.6 66.6L428.2 68.8L426.4 71.3L424.1 74.0L421.5 76.7L418.6 79.5L415.5 82.3M404.7 82.6L407.6 79.6L410.8 76.7L413.9 73.8L417.1 71.2L420.0 68.9L422.8 66.9L425.2 65.4L427.2 64.4L428.7 63.9L429.7 63.9L430.2 64.4L430.1 65.4L429.5 66.9L428.3 68.9L426.6 71.2L424.5 73.8L422.0 76.6L419.1 79.6L416.1 82.6L413.0 85.5L409.8 88.3L406.7 90.8L403.8 93.0L401.1 94.9L398.9 96.2L397.0 97.1L395.6 97.5L394.7 97.3L394.4 96.7L394.7 95.5L395.5 93.8L396.8 91.8L398.7 89.4L400.9 86.7M410.3 86.8L407.5 89.0L404.8 90.8L402.4 92.2L400.3 93.3L398.5 93.8L397.2 93.9L396.3 93.5L395.9 92.6L396.0 91.2L396.6 89.5L397.6 87.4L399.1 85.0L401.0 82.4L403.3 79.7L405.8 76.9L408.5 74.1L411.3 71.5L414.2 69.1L417.0 66.9L419.6 65.1L422.0 63.6L424.1 62.6L425.9 62.1L427.2 62.1L428.1 62.5L428.5 63.4L428.3 64.8L427.7 66.5L426.6 68.7L425.1 71.0L423.2 73.7L420.9 76.4M394.6 98.4L393.9 98.3L393.8 97.7L394.3 96.5L395.3 94.9L396.9 92.8L398.9 90.3L401.4 87.5L404.2 84.6L407.3 81.5L410.5 78.4L413.8 75.4L417.0 72.5L420.1 70.0L422.9 67.8L425.4 66.0L427.4 64.7L429.0 64.0L430.0 63.7L430.5 64.1L430.3 64.9L429.6 66.3L428.3 68.2L426.5 70.5L424.3 73.1L421.6 75.9L418.7 79.0L415.5 82.1L412.3 85.1L409.0 88.1L405.8 90.8L402.8 93.2L400.2 95.2L397.9 96.8L396.1 97.8M421.8 68.1C432.2 53.0 443.1 51.7 444.8 71.2" stroke="#e9f543" stroke-width="0.9"/>
<path d="M422.2 65.3C426.9 56.2 441.4 54.8 445.8 61.2" stroke="#9bde5a" stroke-width="0.9"/>
<path d="M445.5 59.8Q454.0 79.8 464.5 102.1M428.2 58.4Q433.0 78.4 434.1 111.4" stroke="#ecc647" stroke-width="0.7"/>
<path d="M426.6 60.0Q426.7 80.0 431.9 110.5M434.0 59.0Q438.3 79.0 441.0 109.2M444.9 67.1Q445.9 87.1 451.1 105.3M440.8 63.6Q449.4 83.6 453.2 117.2M432.7 61.3Q436.4 81.3 440.6 115.4M443.1 60.5Q441.3 80.5 437.4 109.4" stroke="#eed546" stroke-width="0.7"/>
<path d="M445.9 62.0Q453.1 82.0 461.0 109.9M434.3 58.8Q431.4 78.8 433.2 112.7M432.3 58.9Q437.3 78.9 437.9 86.9M438.3 63.1Q449.6 83.1 458.2 114.7" stroke="#e9f543" stroke-width="0.7"/>
<path d="M440.2 67.2Q439.6 87.2 440.8 110.8M426.3 60.1Q425.0 80.1 429.0 88.1M439.6 61.8Q445.8 81.8 456.2 105.9M443.1 65.2Q448.4 85.2 456.0 98.0M429.9 58.9Q429.3 78.9 431.9 106.2M427.7 60.5Q425.5 80.5 428.9 112.0" stroke="#ece247" stroke-width="0.7"/>
<path d="M428.6 66.7Q439.2 86.7 448.4 117.4M432.9 58.1Q436.7 78.1 439.9 108.2M440.0 65.5Q437.9 85.5 441.0 117.1M428.1 64.1Q435.0 84.1 445.2 106.1" stroke="#eaee48" stroke-width="0.7"/>
</g>
<g clip-path="url(#c03)" fill="none" stroke-linecap="round">
<path d="M594.0 58.0L647.4 -24.3M616.5 77.7L761.9 5.6M585.4 73.3L674.0 -32.4M595.3 57.5L657.8 -23.6M602.5 62.2L713.3 -29.2M592.2 78.6L709.0 15.9M602.1 56.0L721.8 -71.0M611.1 71.0L750.5 8.2M591.0 57.7L651.5 -38.9M590.3 72.6L654.8 8.5M585.1 66.1L653.8 -10.9M594.7 75.2L681.9 -3.3M597.3 64.8L679.5 -44.8M589.4 66.8L709.8 -13.3M609.7 69.7L688.3 28.5M620.7 59.8L729.1 -23.4M597.8 72.3L730.8 -43.6M605.9 70.8L700.1 27.8M608.5 55.9L698.3 -18.1M604.0 68.4L694.8 -2.3M607.2 61.6L694.6 6.3M623.9 53.8L764.6 -25.8M603.2 68.0L717.2 -20.3M618.3 63.3L733.4 3.0M606.7 53.9L669.1 -51.7M595.7 44.9L639.0 -68.3M539.9 1.5L565.0 57.9M534.7 1.5L557.8 52.1M534.2 1.5L561.9 55.4M542.2 1.5L563.4 56.6M565.2 1.5L565.4 57.1M568.8 1.5L563.6 54.8M501.0 56.6L575.3 75.2M501.0 69.5L527.2 73.1M522.8 1.5L562.0 64.8M516.6 1.5L556.2 60.4M598.2 80.0Q620.9 90.4 640.7 121.0" stroke="#70e28a" stroke-width="0.8"/>
<path d="M606.5 73.7L686.8 45.5M597.4 70.1L664.4 -10.9M610.5 68.2L731.2 12.1M599.7 60.0L710.9 -29.4M594.6 70.4L699.6 -25.5M597.9 71.3L671.1 -33.5M597.9 64.4L678.9 -60.7M606.0 65.6L703.9 -8.1M601.9 66.7L748.3 17.1M602.3 46.2L712.6 -86.3M609.1 79.2L687.6 52.4M598.6 67.1L763.4 -12.7M603.8 72.3L709.7 38.1M620.4 50.7L746.5 -18.7M602.2 71.1L778.9 -3.0M594.4 56.7L707.0 -80.2M604.4 68.0L698.1 -34.8M604.2 71.0L746.8 23.2M618.0 58.6L699.7 -25.5M609.8 60.9L748.9 -41.6M594.0 67.0L745.8 11.6M600.5 63.4L709.1 -16.4M605.6 52.7L672.8 -53.9M617.7 67.4L744.6 -8.7M616.1 52.4L728.7 3.9M607.2 67.4L753.9 -24.9M602.5 61.4L740.0 -48.8M606.9 54.0L728.9 -9.5M617.5 54.7L715.7 -31.0M604.2 58.0L705.9 -17.3M614.5 60.7L729.7 -23.2M596.9 38.8L644.8 -125.7M549.1 1.5L559.1 53.2M543.0 1.5L565.0 57.9M531.6 1.5L560.5 54.3M570.0 1.5L568.4 60.7M501.0 18.7L574.4 74.7M501.0 31.4L556.3 63.7M520.3 1.5L558.8 62.3M514.9 1.5L561.2 64.2M501.0 148.1L561.3 116.5M501.0 126.4L554.2 111.2M592.1 82.0Q617.7 97.8 659.2 128.0M590.4 76.1Q611.3 87.7 656.6 120.7" stroke="#6ade98" stroke-width="0.8"/>
<path d="M601.2 59.4L739.6 -27.2M600.0 68.8L697.8 18.9M602.2 74.5L729.6 6.7M617.8 67.3L736.5 -8.3M584.4 72.4L654.2 -27.1M612.3 62.0L763.8 -4.2M605.0 68.6L720.4 -25.4M602.7 78.1L731.0 -16.7M601.7 56.5L662.9 -21.3M596.2 70.3L732.4 20.0M608.9 73.4L762.2 17.2M614.5 55.5L716.9 -23.5M616.8 51.6L774.9 -13.6M587.5 64.5L702.5 -16.2M608.6 56.4L698.8 -19.4M607.0 41.8L662.2 -68.9M534.1 1.5L560.7 54.4M571.7 1.5L563.2 54.3M560.4 1.5L564.9 56.3M501.0 29.4L570.6 72.4M501.0 40.5L571.2 72.8M501.0 20.3L567.4 70.5M501.0 49.5L575.7 75.5M501.0 25.8L567.0 70.2M501.0 133.9L559.9 115.4M596.6 73.6Q619.8 98.2 655.0 121.2" stroke="#79e37c" stroke-width="0.8"/>
<path d="M598.9 66.1L733.0 21.8M606.1 69.1L663.9 20.3M620.9 62.5L741.9 11.1" stroke="#56a2f0" stroke-width="0.8"/>
<path d="M613.8 49.9L686.6 -20.7M591.9 67.2L703.1 -86.5M615.0 65.5L709.5 -6.8M597.8 54.3L676.4 -8.4M608.5 62.9L754.3 -15.5M600.2 56.0L686.7 -6.1M613.1 61.0L749.1 -36.0M597.3 59.2L691.0 -22.3M591.6 80.6Q612.9 93.1 650.3 125.2" stroke="#5ac0d2" stroke-width="0.8"/>
<path d="M607.2 64.1L751.6 -19.2M591.3 78.4L675.3 31.5M610.2 67.6L705.2 30.8M617.3 73.3L776.0 18.9M599.2 67.2L703.9 -55.0M613.8 64.4L730.2 4.8M597.5 69.2L736.3 -39.2M600.2 65.3L684.3 -28.8M591.2 73.2L706.3 6.5M609.0 60.6L708.3 -72.5M618.9 69.0L761.2 21.9M604.0 64.7L691.8 -30.1M615.1 66.5L717.7 24.2M603.3 38.6L676.5 -116.0M545.9 1.5L558.6 52.8M559.5 1.5L563.2 54.3M501.0 28.6L571.1 72.7M501.0 119.2L567.1 120.7" stroke="#5ccebe" stroke-width="0.8"/>
<path d="M595.3 68.9L735.8 -65.8M596.7 71.2L750.3 -4.0M596.9 71.2L695.5 -1.1M587.5 65.9L686.1 -56.4M602.2 51.6L676.9 -45.8M611.8 60.1L739.5 -8.9M601.3 60.0L717.8 -36.5M613.6 57.1L732.3 -33.0M608.4 57.5L679.7 11.0M606.1 69.0L710.8 -3.5M562.0 1.5L562.9 53.8M501.0 75.3L536.5 81.5M501.0 72.6L537.5 82.3M501.0 115.5L552.8 110.2M598.2 76.3Q616.5 98.8 663.8 99.9" stroke="#5bc7c8" stroke-width="0.8"/>
<path d="M609.3 60.1L696.3 -18.8M620.6 59.2L687.8 18.5M623.3 46.0L681.7 1.3" stroke="#549bf4" stroke-width="0.8"/>
<path d="M601.1 57.5L683.8 -41.3M585.1 62.5L693.3 -32.1M604.2 57.7L674.2 -4.0M587.1 74.4L680.2 28.8M614.4 65.2L717.5 19.5M609.2 65.4L703.2 25.0M614.7 55.1L716.8 -22.5M604.7 69.0L732.1 -27.9M606.2 51.5L679.7 -4.3M550.9 1.5L558.4 52.7M543.4 1.5L563.8 56.9M528.2 1.5L555.3 59.7M501.0 134.5L568.6 121.8M501.0 122.7L555.9 112.5M501.0 150.2L568.1 121.5M593.4 76.1Q608.7 89.3 633.8 123.8" stroke="#64daa5" stroke-width="0.8"/>
<path d="M600.0 69.6L706.5 34.5" stroke="#5088f9" stroke-width="0.8"/>
<path d="M611.2 63.1L676.1 2.4" stroke="#5294f8" stroke-width="0.8"/>
<path d="M620.1 50.7L702.9 16.7M631.5 51.2L777.0 -31.3M501.0 40.7L557.4 64.3M598.9 80.3Q625.2 104.4 662.4 124.6" stroke="#60d4b2" stroke-width="0.8"/>
<path d="M541.6 1.5L563.6 56.8M535.7 1.5L563.4 56.6M543.9 1.5L562.1 55.5M573.6 1.5L562.9 53.9M565.7 1.5L561.9 52.6M501.0 17.9L574.8 74.9M501.0 67.1L525.2 71.3M528.1 1.5L564.6 66.7M595.9 80.3Q623.5 94.2 655.5 123.7" stroke="#9bde5a" stroke-width="0.8"/>
<path d="M539.5 1.5L564.0 57.1" stroke="#ebb648" stroke-width="0.8"/>
<path d="M569.2 1.5L567.6 59.7M501.0 29.0L566.0 69.6" stroke="#becd46" stroke-width="0.8"/>
<path d="M501.0 38.5L517.0 13.5M565.0 41.5L583.0 19.5M580.0 99.5L659.0 82.5" stroke="#59b6dd" stroke-width="0.8"/>
<path d="M501.0 150.8L564.1 118.5" stroke="#acd650" stroke-width="0.8"/>
<path d="M501.0 144.8L556.2 112.7M596.8 83.5Q622.9 103.6 658.3 118.8" stroke="#8fe164" stroke-width="0.8"/>
<path d="M501.0 130.0L659.0 56.5" stroke="#4f82fa" stroke-width="0.9"/>
<path d="M579.0 89.5L659.0 69.5" stroke="#58b0e4" stroke-width="0.8"/>
<path d="M584.0 124.5L659.0 106.5" stroke="#57aae9" stroke-width="0.9"/>
<path d="M555.3 95.5C568.3 89.4 591.4 67.8 587.5 67.5C587.8 63.6 563.1 83.4 555.3 95.5M552.1 93.6C567.3 82.1 592.0 48.3 587.1 49.1C586.7 44.2 559.7 76.2 552.1 93.6M554.5 91.0C567.5 79.1 590.8 47.1 587.0 48.6C587.4 44.5 562.6 75.4 554.5 91.0M583.2 66.1L580.4 68.8L577.5 71.4L574.6 73.8L571.6 76.0L568.8 77.8L566.3 79.2L564.0 80.1L562.1 80.6L560.6 80.7L559.7 80.2L559.2 79.2L559.2 77.9L559.8 76.1L560.9 74.0L562.5 71.6L564.5 69.0L566.8 66.2L569.4 63.5L572.3 60.8L575.2 58.3M577.3 60.1L579.2 58.3L581.2 56.6L583.3 55.2L585.4 54.1L587.5 53.2L589.5 52.7L591.4 52.6L593.0 52.8L594.3 53.4L595.4 54.3L596.1 55.5L596.4 56.9L596.4 58.7L596.0 60.5L595.2 62.5L594.1 64.6L592.6 66.6L591.0 68.5L589.1 70.3L587.1 72.0L584.9 73.4L582.8 74.5L580.7 75.2L578.7 75.7L576.9 75.8L575.4 75.5L574.1 74.9L573.1 73.9" stroke="#eaee48" stroke-width="0.85"/>
<path d="M552.5 96.0C566.0 89.0 589.3 65.2 585.1 65.1C585.2 60.9 560.2 82.9 552.5 96.0M554.1 95.0C570.4 89.3 601.9 67.5 597.6 67.0C598.9 62.8 566.0 82.6 554.1 95.0M553.8 90.3C569.5 82.1 592.2 52.2 586.7 51.7C585.3 46.3 559.5 73.6 553.8 90.3M553.8 92.7C570.4 92.9 592.3 72.2 585.9 68.2C583.7 61.0 558.0 76.7 553.8 92.7" stroke="#e2ba47" stroke-width="0.85"/>
<path d="M555.2 93.5C570.9 85.2 600.8 58.9 596.5 59.2C597.6 55.0 566.2 79.5 555.2 93.5M556.4 94.6C575.3 90.2 601.5 61.8 594.5 59.2C592.3 51.9 562.1 76.0 556.4 94.6M553.3 94.7C568.1 86.7 593.9 60.2 589.5 60.2C589.7 55.7 561.9 80.3 553.3 94.7M556.1 91.9C570.8 84.0 596.3 57.4 591.8 57.4C591.9 52.9 564.5 77.4 556.1 91.9M554.7 95.5C572.5 90.2 605.0 65.8 599.9 64.6C600.6 59.4 566.2 80.9 554.7 95.5M553.3 94.8C571.1 91.3 598.9 66.6 592.9 64.2C592.1 57.8 561.2 78.5 553.3 94.8" stroke="#ece247" stroke-width="0.85"/>
<path d="M553.9 94.7C566.2 89.3 587.7 69.2 584.0 68.8C584.1 65.0 561.0 83.3 553.9 94.7M552.9 95.8C570.0 83.6 592.1 44.9 585.4 45.3C583.0 39.1 556.9 75.2 552.9 95.8" stroke="#e9f543" stroke-width="0.85"/>
<path d="M554.5 95.5C568.4 83.0 589.2 47.5 584.3 48.7C583.3 43.8 560.0 77.6 554.5 95.5M553.0 93.5C566.6 90.1 588.0 70.2 583.4 68.6C582.7 63.8 559.0 80.8 553.0 93.5M596.5 55.8L594.3 58.5L591.7 61.2L588.9 63.8L585.9 66.2L582.9 68.3L579.9 70.0L577.0 71.3L574.3 72.1L571.9 72.5L569.9 72.4L568.3 71.8L567.2 70.7L566.6 69.3L566.5 67.4L567.0 65.2L567.9 62.7L569.4 60.0L571.3 57.3L573.6 54.5L576.2 51.8L579.1 49.2L582.1 46.9L585.1 44.9L588.1 43.3L590.9 42.1L593.6 41.3L595.9 41.0M576.3 65.0L578.4 63.8L580.4 62.9L582.4 62.3L584.3 62.1L585.9 62.3L587.2 62.9L588.3 63.8L589.0 65.0L589.4 66.5L589.3 68.2L588.9 70.1L588.2 72.2L587.1 74.2L585.7 76.3L584.0 78.3L582.2 80.1L580.2 81.8L578.1 83.2L576.0 84.3L574.0 85.0L572.0 85.4L570.3 85.4L568.8 85.1L567.5 84.4M594.7 56.3L595.4 57.2L595.8 58.3L595.8 59.6L595.6 61.0L595.0 62.6L594.1 64.3L593.0 65.9L591.7 67.6L590.1 69.1L588.5 70.6L586.7 71.8L584.9 72.8L583.1 73.6L581.4 74.1L579.8 74.4L578.4 74.3L577.3 74.0L576.3 73.3L575.7 72.5L575.3 71.3L575.3 70.0L575.6 68.5M591.8 58.6L592.6 59.1L593.1 60.0L593.4 61.0L593.2 62.3L592.8 63.8L592.1 65.3L591.0 67.0L589.7 68.7L588.3 70.4L586.6 71.9L584.8 73.4L583.0 74.6L581.2 75.7L579.5 76.5L577.8 77.0L576.4 77.2L575.1 77.2L574.1 76.8" stroke="#eed546" stroke-width="0.85"/>
<path d="M554.2 94.4C567.4 80.5 591.1 44.3 587.2 46.2C587.6 41.9 562.3 77.0 554.2 94.4M585.9 84.2L583.3 86.4L580.7 88.2L578.2 89.6L575.9 90.6L573.9 91.2L572.1 91.3L570.7 90.9L569.8 90.1L569.2 88.9L569.2 87.2L569.6 85.2L570.4 83.0L571.7 80.5L573.3 77.9L575.3 75.3L577.5 72.7L580.0 70.2L582.5 68.0L585.1 66.0L587.6 64.3L590.1 63.0L592.3 62.2L594.2 61.8L595.8 61.9L597.0 62.5L597.8 63.5L598.1 64.9L598.0 66.7L597.4 68.9" stroke="#acd650" stroke-width="0.85"/>
<path d="M551.9 93.5C570.0 86.2 601.2 57.3 595.6 56.4C595.6 50.7 562.0 76.8 551.9 93.5M552.5 94.4C568.3 90.7 593.2 68.4 588.0 66.4C587.3 60.9 559.8 79.9 552.5 94.4M551.4 96.6C573.2 87.8 607.2 51.4 599.9 50.0C598.8 42.7 561.1 75.2 551.4 96.6" stroke="#79e37c" stroke-width="0.85"/>
<path d="M552.2 96.5C568.1 87.1 595.7 57.0 590.8 57.2C591.0 52.4 561.3 80.5 552.2 96.5M554.6 94.4C566.6 84.9 588.4 58.4 585.0 59.4C585.5 55.9 562.3 81.2 554.6 94.4M592.9 53.9L593.8 54.3L594.4 55.1L594.6 56.1L594.4 57.4L593.9 58.9L593.0 60.7L591.8 62.5L590.2 64.4L588.5 66.3L586.5 68.2L584.5 69.9L582.3 71.5L580.2 72.9L578.2 74.0L576.3 74.8L574.6 75.3L573.1 75.4" stroke="#9bde5a" stroke-width="0.85"/>
<path d="M553.5 94.6C571.8 93.3 597.1 69.3 590.3 65.6C588.3 58.2 559.1 77.1 553.5 94.6" stroke="#dabe46" stroke-width="0.85"/>
<path d="M572.7 72.2L573.9 70.1L575.4 67.9L577.3 65.7L579.3 63.6L581.5 61.6L583.8 59.7L586.2 58.1L588.5 56.8L590.7 55.8L592.7 55.1L594.5 54.8L596.0 54.9L597.1 55.4L597.8 56.3L598.2 57.4L598.2 58.9L597.7 60.7L596.9 62.6L595.6 64.7L594.1 66.9L592.3 69.1L590.2 71.2L588.0 73.2L585.7 75.1L583.3 76.7M576.2 84.1L574.7 83.6L573.4 82.8L572.4 81.6L571.7 80.2L571.5 78.6L571.6 76.7L572.0 74.8L572.8 72.7L573.9 70.7L575.4 68.7L577.0 66.9L578.9 65.2L580.9 63.7L583.0 62.5L585.1 61.6L587.2 61.1L589.1 60.9L590.9 61.0L592.5 61.5L593.8 62.4L594.8 63.5L595.4 64.9" stroke="#8fe164" stroke-width="0.85"/>
<path d="M593.2 74.3Q589.9 94.3 598.3 119.5" stroke="#79e37c" stroke-width="0.8"/>
<path d="M588.2 63.6Q585.5 83.6 584.8 108.8" stroke="#eaee48" stroke-width="0.8"/>
<path d="M598.6 64.1Q598.0 84.1 598.6 100.5" stroke="#64daa5" stroke-width="0.8"/>
<path d="M587.4 66.1Q590.0 86.1 585.2 103.4M585.6 78.3Q588.8 98.3 595.6 105.0M585.5 69.0Q585.7 89.0 582.8 110.2M592.0 45.8Q592.8 60.8 591.6 89.7M591.7 49.2Q588.8 64.2 591.8 94.0M589.9 45.0Q592.9 60.0 587.0 78.4" stroke="#ece247" stroke-width="0.8"/>
<path d="M586.4 68.8Q589.9 88.8 588.1 106.7M593.8 75.8Q594.3 95.8 592.0 109.0" stroke="#6ade98" stroke-width="0.8"/>
<path d="M586.3 72.5Q589.8 92.5 594.5 105.7M589.7 64.2Q591.1 84.2 593.5 98.0" stroke="#eed546" stroke-width="0.8"/>
<path d="M594.0 72.6Q593.2 92.6 593.5 111.7" stroke="#70e28a" stroke-width="0.8"/>
<path d="M590.8 73.4Q593.8 93.4 594.8 118.1" stroke="#9bde5a" stroke-width="0.8"/>
<path d="M586.6 79.4Q582.8 99.4 584.8 126.0" stroke="#acd650" stroke-width="0.8"/>
<path d="M599.0 64.2Q602.7 84.2 607.3 104.9M594.6 45.5Q595.8 60.5 596.0 72.8" stroke="#e2ba47" stroke-width="0.8"/>
<path d="M596.5 49.4Q597.1 64.4 596.9 76.3" stroke="#e9f543" stroke-width="0.8"/>
<path d="M590.3 44.1Q589.1 59.1 592.7 78.1" stroke="#dabe46" stroke-width="0.8"/>
</g>
<g clip-path="url(#c10)" fill="none" stroke-linecap="round">
<path d="M102.2 224.7L104.5 222.5L106.9 220.4L109.4 218.6L111.7 217.0L114.0 215.8L116.0 214.9L117.8 214.4L119.2 214.4L120.3 214.7L121.0 215.4L121.3 216.5L121.1 218.0L120.5 219.7L119.5 221.7L118.2 223.8L116.5 226.1L114.5 228.4L112.3 230.7L110.0 232.8L107.6 234.9L105.1 236.6L102.8 238.1L100.6 239.2L98.6 240.0L97.0 240.4L95.6 240.4L94.6 239.9L94.0 239.1L93.9 237.9L94.2 236.4L94.8 234.6L95.9 232.5L97.4 230.3M101.3 241.9L98.5 243.7L95.7 245.1L93.1 246.1L90.7 246.7L88.6 246.7L86.9 246.3L85.6 245.4L84.8 244.0L84.5 242.3L84.7 240.2L85.4 237.8L86.5 235.2L88.1 232.5L90.1 229.7L92.4 226.9L95.0 224.3L97.7 221.9L100.6 219.7L103.4 217.9L106.2 216.5L108.8 215.5L111.2 215.0L113.2 214.9L114.9 215.4L116.2 216.3L117.0 217.7L117.3 219.4L117.1 221.5L116.4 223.9L115.2 226.5L113.6 229.3L111.6 232.1L109.3 234.8L106.7 237.4L104.0 239.9" stroke="#64daa5" stroke-width="0.85"/>
<path d="M90.6 236.0L92.3 233.6L94.5 231.1L96.8 228.7L99.4 226.5L102.0 224.4L104.7 222.7L107.3 221.3L109.7 220.3L111.9 219.7L113.8 219.6L115.4 219.8L116.5 220.6L117.1 221.7L117.3 223.2L117.0 225.1L116.3 227.2L115.1 229.5L113.5 231.9L111.5 234.4L109.3 236.8L106.8 239.2L104.2 241.3L101.5 243.2L98.9 244.8L96.3 246.0L94.0 246.8L92.0 247.1L90.2 247.0L88.9 246.5L88.0 245.6L87.6 244.2L87.7 242.6L88.2 240.6M83.2 250.7L85.5 247.4L88.2 244.1L91.2 240.9L94.3 237.8L97.4 235.0L100.5 232.5L103.4 230.5L106.1 229.0L108.4 228.1L110.4 227.7L111.8 227.9L112.8 228.8L113.2 230.1L113.1 232.0L112.4 234.4L111.2 237.1L109.5 240.1L107.3 243.4L104.8 246.7L102.0 250.0L99.0 253.2L95.9 256.2L92.8 258.8L89.8 261.1L86.9 262.9L84.4 264.2L82.2 265.0L80.4 265.1L79.1 264.6L78.3 263.6L78.1 262.0L78.5 259.9L79.4 257.4L80.8 254.6M114.1 262.7L113.2 263.1L112.3 263.1L111.3 262.8L110.2 262.3L109.2 261.5L108.2 260.4L107.3 259.2L106.5 257.8L105.9 256.3L105.3 254.7L105.0 253.1L104.8 251.6L104.8 250.1L105.0 248.8L105.4 247.6L105.9 246.6L106.6 245.9L107.4 245.5L108.3 245.3L109.3 245.4L110.3 245.8L111.4 246.5L112.4 247.4L113.3 248.5L114.2 249.8L114.9 251.3L115.5 252.8" stroke="#acd650" stroke-width="0.85"/>
<path d="M89.4 238.1L91.7 235.1L94.4 232.2L97.3 229.3L100.3 226.5L103.4 224.0L106.4 221.8L109.3 220.0L112.0 218.7L114.3 217.8L116.2 217.5L117.7 217.7L118.7 218.4L119.1 219.6L119.0 221.3L118.3 223.4L117.2 225.8L115.5 228.5L113.4 231.4L111.0 234.4L108.3 237.4L105.3 240.2L102.2 242.9L99.2 245.3L96.2 247.4L93.4 249.1L90.8 250.3L88.6 251.0L86.8 251.2L85.5 250.8L84.6 250.0L84.4 248.6L84.6 246.8L85.4 244.6M119.1 218.3L118.7 219.6L117.9 221.1L116.7 222.9L115.3 224.8L113.6 226.7L111.8 228.7L109.8 230.7L107.7 232.5L105.6 234.2L103.6 235.7L101.7 236.9L100.1 237.8L98.6 238.3L97.5 238.6L96.7 238.4L96.2 237.9L96.1 237.1L96.4 235.9L97.0 234.5L98.0 232.8L99.3 231.0L100.9 229.1L102.6 227.1L104.6 225.1L106.6 223.2L108.7 221.4L110.8 219.8L112.7 218.5L114.5 217.5L116.0 216.7L117.3 216.3L118.3 216.3L119.0 216.6" stroke="#82e46e" stroke-width="0.85"/>
<path d="M117.5 221.8L116.9 224.0L115.8 226.5L114.3 229.1L112.4 231.9L110.1 234.7L107.5 237.4L104.8 240.0L101.9 242.4L99.1 244.5L96.3 246.2L93.6 247.5L91.2 248.4L89.1 248.8L87.4 248.8L86.1 248.2L85.2 247.2L84.9 245.7L85.0 243.8L85.7 241.6L86.8 239.2L88.4 236.5L90.4 233.7L92.7 230.9L95.2 228.2L98.0 225.6L100.8 223.3L103.7 221.2L106.5 219.5L109.1 218.2L111.5 217.3L113.6 217.0L115.3 217.1L116.6 217.7L117.4 218.8L117.7 220.3M107.3 258.7L106.2 256.3L105.3 253.8L104.4 251.3L103.7 248.8L103.2 246.4L102.9 244.2L102.8 242.3L102.9 240.7L103.2 239.5L103.7 238.7L104.4 238.3L105.3 238.4L106.2 238.9L107.3 239.9L108.5 241.2L109.7 242.9L110.8 244.9L112.0 247.2L113.0 249.6L114.0 252.1L114.8 254.6" stroke="#becd46" stroke-width="0.85"/>
<path d="M87.4 248.2L88.0 246.6L89.1 244.7L90.5 242.5L92.3 240.0L94.3 237.5L96.6 234.9L99.0 232.4L101.5 229.9L104.0 227.7L106.4 225.7L108.6 224.0L110.6 222.7L112.3 221.9L113.7 221.4L114.6 221.5L115.2 221.9L115.3 222.9L115.0 224.2L114.2 225.9L113.1 227.9L111.5 230.2L109.7 232.7L107.6 235.2L105.3 237.8L102.8 240.3L100.3 242.7L97.9 244.9L95.5 246.8L93.4 248.4L91.4 249.5L89.8 250.3L88.6 250.6L87.7 250.4M94.2 242.1L93.9 241.4L94.1 240.3L94.6 238.9L95.7 237.1L97.1 235.0L98.8 232.8L100.9 230.5L103.2 228.0L105.7 225.6L108.2 223.3L110.7 221.2L113.2 219.3L115.5 217.7L117.6 216.4L119.4 215.6L120.8 215.1L121.8 215.1L122.4 215.5L122.6 216.3L122.3 217.5L121.6 219.0L120.4 220.9L118.9 223.0L117.0 225.3L114.9 227.7L112.5 230.1L110.0 232.5L107.5 234.7L105.0 236.8L102.5 238.6L100.3 240.1L98.3 241.2L96.6 242.0" stroke="#6ade98" stroke-width="0.85"/>
<path d="M89.4 251.3L87.7 251.9L86.4 251.9L85.6 251.5L85.2 250.5L85.3 249.2L85.9 247.4L86.9 245.3L88.4 242.9L90.2 240.2L92.4 237.5L94.8 234.7L97.4 232.0L100.1 229.3L102.9 226.9L105.5 224.8L108.0 223.1L110.3 221.7L112.3 220.8L113.9 220.4L115.1 220.5L115.8 221.0L116.1 222.1L115.9 223.5L115.2 225.4L114.0 227.6L112.5 230.1L110.5 232.7L108.3 235.5L105.8 238.3L103.2 241.0L100.4 243.6L97.7 245.9L95.1 248.0L92.6 249.6L90.4 250.9M117.2 223.4L117.4 224.3L117.3 225.3L117.0 226.6L116.3 228.0L115.4 229.5L114.2 231.0L112.8 232.6L111.3 234.1L109.6 235.5L107.9 236.8L106.2 238.0L104.5 238.9L103.0 239.6L101.5 240.0L100.3 240.2L99.3 240.1L98.5 239.7L98.0 239.1L97.8 238.2L98.0 237.1L98.4 235.8L99.1 234.4L100.1 232.9L101.3 231.4L102.6 229.8L104.2 228.3L105.9 226.9L107.6 225.6L109.3 224.5L110.9 223.6L112.5 222.9L113.9 222.5L115.1 222.4L116.1 222.5L116.8 223.0M113.0 223.0L114.5 222.3L115.8 221.9L116.8 221.8L117.5 222.1L117.8 222.7L117.8 223.5L117.5 224.7L116.8 226.0L115.8 227.6L114.5 229.3L113.0 231.1L111.3 233.0L109.4 234.8L107.5 236.5L105.5 238.1L103.5 239.5L101.7 240.7L100.0 241.6L98.5 242.3L97.3 242.6L96.4 242.6L95.7 242.3L95.5 241.7L95.5 240.7L95.9 239.6L96.7 238.1L97.7 236.5L99.1 234.8L100.6 233.0L102.4 231.2L104.3 229.4L106.2 227.7L108.2 226.1L110.1 224.7M111.2 243.7L112.1 242.6L113.2 241.8L114.4 241.3L115.6 241.1L116.9 241.2L118.1 241.6L119.3 242.4L120.4 243.4L121.3 244.7L122.1 246.1L122.6 247.7L123.0 249.5L123.1 251.2L123.0 253.0L122.7 254.6" stroke="#79e37c" stroke-width="0.85"/>
<path d="M118.1 218.1L118.7 218.6L119.0 219.4L119.0 220.5L118.7 221.7L118.1 223.2L117.2 224.7L116.1 226.4L114.8 228.0L113.3 229.7L111.6 231.3L109.9 232.7L108.2 234.0L106.5 235.1L104.8 236.0L103.4 236.5L102.0 236.8L101.0 236.8L100.1 236.5L99.6 236.0L99.3 235.1L99.3 234.0L99.7 232.7L100.3 231.3L101.3 229.7L102.4 228.1L103.8 226.4L105.3 224.7L107.0 223.2L108.7 221.8L110.4 220.5L112.1 219.4L113.7 218.6L115.2 218.1L116.5 217.9" stroke="#60d4b2" stroke-width="0.85"/>
<path d="M107.1 218.6L109.2 217.1L111.3 215.8L113.3 214.9L115.2 214.2L116.8 213.9L118.2 214.0L119.3 214.4L120.0 215.2L120.4 216.2L120.4 217.6L120.0 219.1L119.3 220.9L118.2 222.8L116.8 224.8L115.1 226.7L113.2 228.7L111.2 230.5L109.1 232.1L107.0 233.5L104.9 234.6L103.0 235.4L101.2 235.9L99.6 236.0L98.4 235.8L97.5 235.2L96.9 234.3L96.7 233.1L96.9 231.6L97.5 230.0L98.4 228.1L99.6 226.2L101.2 224.2L102.9 222.3L104.9 220.4" stroke="#8fe164" stroke-width="0.85"/>
<path d="M109.2 237.4L110.5 238.1L111.8 239.3L113.2 241.0L114.6 242.9L116.0 245.2L117.2 247.7L118.3 250.4L119.2 253.1L119.9 255.7L120.4 258.3L120.7 260.6L120.7 262.6L120.4 264.3L119.9 265.6L119.1 266.5" stroke="#ccc646" stroke-width="0.85"/>
<path d="M106.2 248.2L106.5 246.9L106.9 245.8L107.5 245.0L108.1 244.5L108.8 244.2L109.6 244.2L110.4 244.6L111.3 245.2L112.1 246.1L112.8 247.2L113.6 248.5L114.2 250.0L114.7 251.6L115.1 253.3L115.4 255.0L115.5 256.6L115.5 258.2L115.3 259.6L115.0 260.9" stroke="#70e28a" stroke-width="0.85"/>
<path d="M117.3 205.3Q113.0 197.9 115.7 196.7" stroke="#ccc646" stroke-width="0.8"/>
<path d="M121.9 217.2Q122.3 210.9 124.3 203.0M52.0 202.0L62.0 215.0" stroke="#becd46" stroke-width="0.8"/>
<path d="M119.1 216.8Q120.7 208.1 123.8 202.3M114.8 202.2Q152.4 178.8 187.7 168.3M118.1 211.7Q139.4 180.7 163.9 157.4M122.4 203.8Q148.5 175.1 172.0 157.4M129.2 215.6Q156.0 187.8 187.7 165.9M120.5 214.1Q151.9 194.6 187.7 187.7M118.5 217.0Q151.8 208.3 187.7 213.4M128.9 234.2Q159.2 239.6 187.7 288.6M124.4 233.3Q150.6 260.2 167.2 302.8M135.9 220.2Q170.7 223.9 187.7 260.9M110.1 255.8Q109.2 267.8 114.0 269.1M65.7 263.4L87.7 253.4M30.0 176.0L38.0 186.0M30.0 187.0L50.0 203.0M30.0 192.0L47.0 208.0M48.0 165.0L62.0 185.0M25.7 221.4L34.7 223.4M121.7 204.4L115.7 189.4M25.7 299.4L37.7 293.4M63.7 158.4L71.1 201.9" stroke="#70e28a" stroke-width="0.8"/>
<path d="M124.5 215.5Q155.7 207.9 187.7 205.7M123.6 217.0Q151.7 210.2 187.7 204.9M127.7 214.0Q155.5 182.0 185.3 157.4M122.4 213.2Q152.8 203.2 187.7 195.1M114.8 218.0Q149.7 188.5 187.7 169.5M128.1 209.4Q155.6 190.6 187.7 177.6M126.5 230.7Q157.6 245.4 187.7 254.1M108.3 253.0Q105.6 265.0 107.4 270.1" stroke="#79e37c" stroke-width="0.8"/>
<path d="M124.3 217.3Q154.0 211.2 187.7 211.6M123.2 203.2Q157.3 184.1 187.7 173.9M122.8 204.0Q155.9 198.1 187.7 198.9" stroke="#9bde5a" stroke-width="0.8"/>
<path d="M119.8 207.8Q143.6 180.8 169.1 157.4M117.6 203.0Q152.0 193.9 187.7 196.7M119.3 216.3Q152.2 192.8 187.7 171.4M123.3 204.6Q141.2 174.6 160.2 157.4M127.3 215.2Q153.7 206.5 187.7 206.9M121.2 204.4Q154.3 183.6 187.7 173.1M120.8 213.3Q153.9 207.6 187.7 214.8M128.3 207.5Q156.4 188.4 187.7 177.9M129.7 207.9Q158.9 185.9 187.7 170.6M123.7 212.2Q145.4 183.9 174.1 157.4M121.1 207.9Q151.4 205.5 187.7 207.2M123.3 215.3Q145.7 179.5 166.7 157.4M133.7 232.8Q163.6 260.3 182.5 294.3M127.9 225.3Q158.2 237.9 187.7 256.3M128.8 234.5Q160.2 259.4 188.2 294.2M136.8 231.0Q167.6 257.2 183.7 281.9M129.7 227.2Q163.8 252.5 187.5 287.1M121.6 224.2Q159.7 228.5 187.7 288.5M104.8 252.3Q103.7 264.3 110.7 272.3M61.5 158.4L70.8 189.6M63.7 158.4L72.2 202.8M65.0 158.4L70.6 196.4" stroke="#6ade98" stroke-width="0.8"/>
<path d="M118.8 208.0Q142.2 179.7 166.4 157.4M120.8 210.2Q139.4 181.3 163.2 157.4M115.7 216.5Q131.4 183.0 150.2 157.4M64.0 158.4L70.1 189.7" stroke="#5ccebe" stroke-width="0.8"/>
<path d="M116.6 204.6Q129.4 177.7 140.8 157.4M120.1 214.8Q151.5 210.9 187.7 209.1" stroke="#8fe164" stroke-width="0.8"/>
<path d="M117.3 208.5Q145.7 180.1 174.2 157.4M134.2 234.1Q165.9 236.4 187.7 257.8M66.7 158.4L71.9 202.7" stroke="#82e46e" stroke-width="0.8"/>
<path d="M118.1 207.0Q150.8 206.0 187.7 214.9M125.9 215.9Q156.0 191.2 187.7 176.8" stroke="#acd650" stroke-width="0.8"/>
<path d="M125.8 205.0Q157.0 192.8 187.7 188.2" stroke="#64daa5" stroke-width="0.8"/>
<path d="M25.7 287.9L185.7 206.4" stroke="#5086f9" stroke-width="0.9"/>
<path d="M80.7 162.4L87.7 181.4" stroke="#77e37f" stroke-width="0.8"/>
<path d="M87.0 251.8L85.2 252.3L83.6 252.3L82.5 251.9L81.7 250.9L81.4 249.6L81.6 247.8L82.2 245.7L83.2 243.4L84.6 240.8L86.4 238.1L88.5 235.4L90.8 232.7L93.3 230.2L95.8 227.9L98.4 225.8L100.9 224.1L103.2 222.8L105.4 221.9L107.2 221.5L108.7 221.6L109.8 222.1L110.4 223.1L110.7 224.6L110.4 226.4L109.8 228.5L108.7 230.9L107.2 233.5L105.3 236.2L103.2 238.9L100.9 241.5L98.4 244.1L95.8 246.3L93.3 248.3M109.3 222.7L110.9 222.5L112.3 222.7L113.3 223.3L113.9 224.3L114.0 225.7L113.8 227.4L113.1 229.4L112.0 231.6L110.6 234.0L108.9 236.4L106.9 238.7L104.7 241.0L102.4 243.2L100.0 245.0L97.6 246.6L95.4 247.9L93.3 248.8L91.5 249.3L89.9 249.3L88.7 248.9L87.9 248.1L87.5 247.0L87.5 245.4L87.9 243.6L88.7 241.5L89.9 239.2L91.5 236.9L93.3 234.5L95.4 232.1L97.7 229.9L100.0 227.9L102.4 226.1L104.7 224.6L106.9 223.5M86.2 249.0L87.0 246.6L88.2 244.0L89.8 241.4L91.7 238.7L93.8 236.2L96.1 233.9L98.6 231.9L101.1 230.2L103.5 228.9L105.8 228.0L107.9 227.5L109.8 227.6L111.3 228.1L112.5 229.0L113.3 230.4L113.6 232.1L113.5 234.2L113.0 236.6L112.0 239.1L110.7 241.7L109.0 244.3L107.0 246.9L104.8 249.3L102.4 251.6L100.0 253.5L97.5 255.0L95.1 256.2L92.9 256.9L90.8 257.2L89.1 257.0L87.7 256.3L86.6 255.2L86.0 253.7L85.9 251.8L86.1 249.6M109.2 227.9L107.5 230.0L105.5 232.1L103.3 234.3L101.0 236.4L98.5 238.4L96.1 240.3L93.8 241.9L91.6 243.2L89.7 244.2L88.0 244.9L86.7 245.2L85.7 245.1L85.1 244.7L84.9 243.8L85.2 242.7L85.8 241.2L86.9 239.5L88.3 237.6L90.1 235.6L92.1 233.4L94.3 231.2L96.6 229.1L99.0 227.1L101.4 225.3L103.8 223.7L105.9 222.3L107.9 221.3L109.6 220.7L110.9 220.4L111.9 220.4L112.5 220.9L112.6 221.7L112.4 222.8M113.8 239.6L112.2 242.0L110.4 244.3L108.3 246.4L106.1 248.3L103.8 250.0L101.4 251.2L99.2 252.1L97.1 252.6L95.2 252.7L93.5 252.3L92.2 251.5L91.2 250.3L90.7 248.7L90.5 246.9L90.8 244.8L91.4 242.5L92.5 240.2L93.9 237.8L95.6 235.4L97.6 233.2L99.7 231.1L102.0 229.4L104.3 227.9L106.6 226.8L108.8 226.1L110.8 225.8L112.6 226.0L114.1 226.6L115.3 227.6L116.0 228.9L116.4 230.6L116.4 232.6L115.9 234.8L115.1 237.1L113.8 239.5M105.9 255.8L104.9 254.7L103.9 253.3L103.0 251.8L102.1 250.2L101.3 248.5L100.7 246.8L100.2 245.1L99.9 243.4L99.7 241.9L99.8 240.6L100.0 239.5L100.3 238.6L100.9 238.0L101.5 237.8L102.3 237.8L103.2 238.1L104.1 238.7L105.1 239.6L106.1 240.8L107.1 242.1L108.0 243.7L108.9 245.3L109.6 247.0M117.5 245.1L117.7 247.7L117.8 250.3L117.5 252.8L117.1 255.1L116.4 257.1L115.5 258.8L114.4 260.1L113.2 260.9L111.8 261.3L110.4 261.2L109.0 260.6L107.7 259.6L106.4 258.2L105.2 256.4L104.1 254.2L103.3 251.9L102.7 249.3L102.3 246.7L102.1 244.1L102.2 241.5L102.6 239.1L103.2 237.0L104.0 235.2L105.0 233.7L106.2 232.7L107.5 232.1L108.9 231.9L110.3 232.3M113.5 249.5L114.2 251.3L114.8 253.2L115.2 255.1L115.4 256.9L115.4 258.6L115.2 260.1L114.9 261.3L114.3 262.3L113.7 263.0L112.8 263.3L111.9 263.3L110.9 262.9L109.9 262.3L108.8 261.3L107.8 260.0L106.8 258.5L105.9 256.9L105.1 255.1L104.4 253.2L103.9 251.3L103.6 249.4L103.5 247.7L103.6 246.1L103.8 244.7L104.3 243.6" stroke="#eaee48" stroke-width="0.85"/>
<path d="M97.2 228.7L99.6 227.3L101.9 226.3L103.9 225.7L105.6 225.4L106.9 225.6L107.9 226.2L108.4 227.2L108.5 228.5L108.2 230.1L107.4 232.0L106.2 234.1L104.6 236.3L102.7 238.6L100.5 240.9L98.1 243.1L95.7 245.2L93.1 247.0L90.6 248.6L88.3 249.8L86.1 250.7L84.1 251.2L82.5 251.3L81.3 251.0L80.5 250.3L80.1 249.2L80.1 247.8L80.7 246.1L81.6 244.1L82.9 242.0L84.6 239.7L86.6 237.4L88.8 235.2L91.3 233.0M108.8 243.2L105.9 245.8L103.2 248.0L100.6 249.8L98.4 251.1L96.6 251.9L95.2 252.1L94.3 251.8L93.9 250.9L94.0 249.5L94.7 247.6L95.8 245.3L97.4 242.6L99.4 239.7L101.8 236.6L104.4 233.4L107.3 230.2L110.2 227.2L113.2 224.4L116.0 221.9L118.7 219.7L121.2 218.1L123.3 216.9L125.0 216.2L126.3 216.1L127.1 216.6L127.4 217.7L127.1 219.2L126.3 221.2L125.1 223.6L123.4 226.3L121.3 229.3L118.8 232.5L116.1 235.6L113.3 238.8L110.3 241.8M112.7 237.5L114.0 239.0L115.2 240.9L116.4 243.1L117.5 245.6L118.5 248.2L119.4 250.9L120.0 253.6L120.5 256.2L120.7 258.7L120.8 260.8L120.6 262.7L120.2 264.2L119.6 265.2L118.8 265.8L117.8 265.9L116.7 265.5L115.6 264.7L114.3 263.4L113.1 261.7L111.8 259.6L110.7 257.3L109.6 254.8L108.7 252.1L107.9 249.4" stroke="#e9f543" stroke-width="0.85"/>
<path d="M93.9 247.4L92.1 248.2L90.6 248.7L89.3 248.8L88.4 248.5L87.9 247.9L87.7 246.9L88.0 245.6L88.6 243.9L89.6 242.1L90.9 240.1L92.6 238.0L94.4 235.8L96.5 233.6L98.7 231.5L100.9 229.6L103.2 227.9L105.3 226.4L107.3 225.2L109.1 224.4L110.7 223.9L111.9 223.8L112.8 224.1L113.4 224.8L113.5 225.8L113.2 227.1L112.6 228.7L111.6 230.5L110.3 232.6L108.6 234.7L106.8 236.9L104.7 239.0L102.5 241.1L100.3 243.1M110.6 257.8L109.3 257.1L108.1 256.1L106.9 254.8L105.9 253.3L105.1 251.6L104.4 249.8L104.0 247.9L103.8 246.0L103.8 244.2L104.1 242.6L104.6 241.1L105.3 239.8L106.2 238.8L107.2 238.1L108.4 237.7L109.7 237.7L111.0 238.0" stroke="#eed546" stroke-width="0.85"/>
<path d="M91.6 241.3L94.3 238.4L97.3 235.5L100.4 232.8L103.6 230.4L106.9 228.3L109.9 226.6L112.8 225.4L115.4 224.7L117.6 224.6L119.3 224.9L120.6 225.8L121.3 227.1L121.4 229.0L121.0 231.1L120.0 233.7L118.5 236.4L116.5 239.4L114.1 242.4L111.4 245.3L108.4 248.2L105.2 250.9L102.0 253.3L98.8 255.3L95.7 256.9L92.9 258.1L90.3 258.7L88.2 258.8L86.5 258.4L85.3 257.5L84.6 256.1L84.6 254.2L85.1 252.0L86.1 249.5L87.6 246.7L89.7 243.7M95.0 240.7L95.5 238.9L96.5 236.7L97.9 234.4L99.7 232.0L101.8 229.5L104.2 227.1L106.8 224.8L109.5 222.6L112.2 220.8L114.9 219.2L117.4 218.0L119.7 217.2L121.7 216.8L123.3 216.9L124.5 217.4L125.3 218.3L125.6 219.6L125.4 221.3L124.7 223.3L123.6 225.5L122.0 227.8L120.1 230.3L117.9 232.7L115.4 235.1L112.8 237.4L110.0 239.4L107.3 241.2L104.7 242.7L102.3 243.7L100.1 244.4L98.2 244.6L96.7 244.4L95.6 243.7" stroke="#ecc647" stroke-width="0.85"/>
<path d="M100.4 245.1L98.4 246.6L96.5 247.9L94.8 248.8L93.4 249.3L92.3 249.4L91.5 249.1L91.1 248.3L91.1 247.2L91.5 245.8L92.2 244.0L93.3 242.0L94.7 239.9L96.4 237.6L98.3 235.2L100.4 232.9L102.5 230.7L104.7 228.6L106.8 226.8L108.9 225.3L110.7 224.1L112.4 223.3L113.7 222.9L114.8 222.9L115.5 223.3L115.8 224.1L115.7 225.3L115.3 226.8L114.4 228.6L113.3 230.6L111.8 232.8L110.1 235.1L108.1 237.5L106.1 239.8L103.9 242.0L101.7 244.0M119.4 221.7L118.9 223.3L118.0 225.3L116.6 227.6L114.9 230.0L112.8 232.6L110.4 235.3L107.9 237.9L105.3 240.4L102.6 242.6L100.0 244.7L97.6 246.3L95.3 247.6L93.4 248.5L91.8 248.9L90.5 248.9L89.7 248.4L89.4 247.5L89.6 246.1L90.2 244.3L91.2 242.3L92.7 240.0L94.5 237.5L96.7 234.8L99.1 232.2L101.6 229.6L104.3 227.2L106.9 225.0L109.5 223.0L111.9 221.4L114.1 220.2L116.0 219.5L117.5 219.1L118.6 219.3L119.3 219.9M101.4 229.6L104.1 227.1L106.6 225.0L108.9 223.3L110.8 222.1L112.4 221.4L113.5 221.2L114.2 221.6L114.4 222.6L114.0 224.0L113.2 225.9L112.0 228.3L110.3 230.9L108.3 233.8L105.9 236.8L103.3 239.9L100.6 243.0L97.8 246.0L95.0 248.7L92.4 251.1L89.9 253.2L87.7 254.8L85.8 255.9L84.3 256.5L83.2 256.6L82.7 256.1L82.6 255.0L83.0 253.5L83.8 251.5L85.2 249.2L86.9 246.5L89.0 243.6L91.4 240.5L94.0 237.4L96.8 234.3" stroke="#ece247" stroke-width="0.85"/>
<path d="M108.2 246.0L105.4 248.3L102.8 250.1L100.3 251.6L98.1 252.5L96.1 252.9L94.6 252.8L93.4 252.1L92.7 250.9L92.5 249.3L92.8 247.2L93.6 244.7L94.8 242.0L96.4 239.1L98.4 236.0L100.7 232.9L103.2 230.0L105.9 227.2L108.6 224.6L111.4 222.4L114.0 220.6L116.4 219.3L118.6 218.5L120.5 218.2L122.0 218.4L123.0 219.2L123.6 220.5L123.7 222.2L123.3 224.4L122.5 226.9L121.2 229.7L119.5 232.6L117.4 235.7L115.1 238.8L112.5 241.7L109.8 244.5" stroke="#ebb648" stroke-width="0.85"/>
<path d="M123.1 208.1Q116.5 201.6 120.3 192.8" stroke="#eed546" stroke-width="0.8"/>
<path d="M122.8 207.5Q120.9 200.5 127.4 192.2M108.6 249.5Q106.5 261.5 107.6 273.7M123.2 253.5Q123.7 265.5 121.7 266.1" stroke="#ece247" stroke-width="0.8"/>
<path d="M120.5 205.2Q118.2 195.3 122.5 194.3M113.7 254.3Q114.2 266.3 115.2 266.4" stroke="#e9f543" stroke-width="0.8"/>
<path d="M115.9 254.5Q117.4 266.5 114.4 277.0" stroke="#ecc647" stroke-width="0.8"/>
<path d="M121.3 256.3Q119.8 268.3 126.4 281.1M65.7 232.4L66.7 246.4" stroke="#ebb648" stroke-width="0.8"/>
<path d="M44.7 251.4L57.7 255.4" stroke="#dabe46" stroke-width="0.8"/>
</g>
<g clip-path="url(#c11)" fill="none" stroke-linecap="round">
<path d="M248.1 239.4L251.3 236.5L254.8 233.5L258.5 230.5L262.3 227.6L266.1 224.8L269.7 222.3L273.1 220.1L276.2 218.4L278.8 217.1L280.8 216.3L282.3 216.0L283.1 216.3L283.2 217.1L282.7 218.4L281.5 220.1L279.6 222.3L277.3 224.8L274.4 227.6L271.1 230.5L267.5 233.5L263.8 236.6L259.9 239.4L256.2 242.1L252.6 244.5L249.3 246.6L246.4 248.2L243.9 249.3L242.1 250.0L240.8 250.1L240.2 249.6L240.3 248.6L241.1 247.2L242.5 245.3L244.5 243.0L247.1 240.4M287.8 214.6L288.7 216.0L288.7 217.8L288.0 220.1L286.5 222.7L284.3 225.7L281.5 228.8L278.1 232.1L274.3 235.4L270.1 238.5L265.8 241.5L261.4 244.1L257.1 246.4L253.0 248.2L249.2 249.5L246.0 250.2L243.3 250.4L241.3 250.0L240.0 249.0L239.4 247.5L239.7 245.5L240.7 243.0L242.5 240.2L244.9 237.2L248.0 234.0L251.6 230.7L255.6 227.5L259.8 224.4L264.2 221.5L268.6 219.0L272.8 216.9L276.8 215.3L280.4 214.2L283.4 213.7L285.8 213.8L287.6 214.4M240.8 245.2L241.9 242.5L243.6 239.7L245.7 236.6L248.3 233.6L251.2 230.5L254.4 227.6L257.7 225.0L261.1 222.6L264.4 220.7L267.6 219.2L270.6 218.2L273.1 217.7L275.3 217.7L276.9 218.3L278.1 219.4L278.6 221.0L278.5 223.1L277.9 225.5L276.7 228.2L274.9 231.1L272.7 234.2L270.0 237.3L267.0 240.3L263.8 243.1L260.4 245.7L257.1 248.0L253.7 249.8L250.6 251.2L247.7 252.2L245.3 252.5L243.2 252.4L241.6 251.6L240.6 250.4" stroke="#acd650" stroke-width="0.85"/>
<path d="M289.3 221.9L286.5 225.0L283.1 228.2L279.2 231.5L275.0 234.7L270.5 237.9L265.9 240.9L261.3 243.5L256.9 245.8L252.9 247.6L249.2 248.9L246.2 249.6L243.7 249.8L242.0 249.4L241.1 248.4L241.0 246.9L241.7 244.9L243.1 242.5L245.3 239.7L248.2 236.7L251.6 233.4L255.6 230.1L259.9 226.9L264.4 223.7L269.0 220.8L273.5 218.2L277.9 215.9L281.9 214.2L285.5 213.0L288.5 212.3L290.8 212.2L292.5 212.6L293.3 213.7L293.4 215.2L292.6 217.3L291.0 219.7M269.8 235.3L265.5 239.0L261.1 242.5L256.9 245.7L252.9 248.4L249.3 250.7L246.2 252.3L243.7 253.4L241.8 253.7L240.7 253.5L240.3 252.5L240.7 250.9L241.9 248.7L243.7 246.1L246.3 242.9L249.4 239.5L253.0 235.8L257.0 232.0L261.3 228.2L265.6 224.6L270.0 221.1L274.1 218.1L278.0 215.4L281.5 213.3L284.5 211.8L286.9 210.9L288.6 210.7L289.5 211.2L289.7 212.3L289.1 214.0L287.8 216.3L285.7 219.1L283.0 222.3L279.8 225.9L276.0 229.6M263.3 237.2L259.8 239.5L256.3 241.6L253.0 243.5L250.0 245.0L247.3 246.1L245.2 246.7L243.5 247.0L242.4 246.7L242.0 246.1L242.1 245.0L242.9 243.5L244.3 241.6L246.2 239.5L248.6 237.1L251.5 234.6L254.6 232.1L258.0 229.5L261.6 227.0L265.1 224.7L268.6 222.5L271.9 220.7L274.9 219.3L277.5 218.2L279.7 217.5L281.3 217.3L282.3 217.6L282.7 218.3L282.6 219.4L281.7 220.9L280.3 222.8L278.4 224.9L275.9 227.3L273.1 229.8M275.3 222.3L274.6 226.7L273.8 231.2L272.7 235.8L271.5 240.2L270.2 244.3L268.8 247.9L267.3 251.1L265.9 253.5L264.6 255.3L263.3 256.3L262.2 256.5L261.3 255.8L260.6 254.4L260.2 252.2L259.9 249.3L260.0 245.9L260.3 242.0L260.8 237.7L261.6 233.2L262.5 228.7L263.7 224.2L265.0 219.9L266.3 216.0" stroke="#82e46e" stroke-width="0.85"/>
<path d="M235.7 256.0L235.6 254.7L236.2 252.8L237.7 250.5L239.9 247.8L242.8 244.8L246.3 241.6L250.2 238.3L254.5 235.0L259.0 231.8L263.6 228.9L268.1 226.2L272.4 224.0L276.3 222.2L279.7 220.9L282.5 220.2L284.7 220.1L286.1 220.6L286.7 221.6L286.5 223.2L285.4 225.3L283.6 227.8L281.1 230.7L277.9 233.8L274.2 237.0L270.1 240.3L265.7 243.6L261.2 246.7L256.6 249.5L252.2 252.0L248.1 254.0L244.3 255.6L241.2 256.6L238.6 257.1L236.8 256.9L235.8 256.2M261.9 228.9L257.7 231.9L253.4 234.9L249.1 237.6L245.0 240.2L241.0 242.3L237.5 244.1L234.5 245.4L232.1 246.2L230.3 246.4L229.3 246.2L229.0 245.4L229.5 244.1L230.8 242.3L232.7 240.1L235.3 237.6L238.5 234.8L242.1 231.8L246.1 228.8L250.4 225.8L254.7 222.9L259.0 220.2L263.1 217.7L266.9 215.6L270.3 214.0L273.2 212.8L275.4 212.2L277.0 212.0L277.8 212.5L277.9 213.4L277.2 214.8L275.8 216.7L273.7 219.0L270.9 221.6L267.6 224.4L263.8 227.4M278.3 215.0L281.5 213.6L284.2 212.8L286.2 212.6L287.6 213.1L288.4 214.2L288.4 215.8L287.7 218.0L286.3 220.7L284.2 223.7L281.6 227.0L278.4 230.5L274.9 234.1L271.0 237.7L267.0 241.1L262.9 244.2L258.9 247.1L255.0 249.4L251.5 251.3L248.4 252.7L245.8 253.4L243.8 253.5L242.5 252.9L241.9 251.8L241.9 250.1L242.7 247.8L244.2 245.1L246.3 242.0L249.0 238.7L252.2 235.2L255.8 231.6L259.7 228.0L263.8 224.7L267.9 221.5L271.9 218.8L275.7 216.4" stroke="#becd46" stroke-width="0.85"/>
<path d="M279.8 222.1L280.0 223.5L279.5 225.3L278.4 227.4L276.7 229.8L274.4 232.5L271.7 235.2L268.6 238.0L265.1 240.7L261.5 243.3L257.8 245.7L254.1 247.9L250.5 249.6L247.3 251.0L244.3 251.9L241.9 252.3L239.9 252.3L238.5 251.8L237.8 250.8L237.7 249.3L238.2 247.5L239.4 245.3L241.2 242.8L243.5 240.2L246.3 237.4L249.5 234.7L252.9 231.9L256.6 229.3L260.3 227.0L264.0 224.9L267.5 223.2L270.7 221.9L273.6 221.0L276.0 220.6L277.9 220.7L279.2 221.3M259.1 231.7L259.8 227.3L260.7 223.2L261.7 219.4L262.7 216.2L263.8 213.5L264.9 211.5L265.9 210.3L266.9 209.8L267.8 210.2L268.6 211.3L269.2 213.2L269.6 215.8L269.9 219.0L270.0 222.7L269.8 226.8L269.5 231.1L269.0 235.6L268.3 240.0L267.5 244.3L266.5 248.2M258.4 261.5L257.9 257.9L257.8 253.7L257.9 249.1L258.4 244.2L259.1 239.2L260.1 234.2L261.4 229.5L262.8 225.0L264.4 221.0L266.1 217.7L267.8 215.1L269.5 213.2L271.1 212.3L272.7 212.2L274.0 213.0L275.2 214.7L276.1 217.2L276.7 220.5L277.0 224.4L277.0 228.8L276.7 233.5L276.1 238.5L275.2 243.5L274.1 248.4L272.8 253.1L271.2 257.3L269.6 261.0M256.9 227.4L257.7 225.1L259.0 222.6L260.7 220.0L262.7 217.4L265.1 214.8L267.6 212.4L270.4 210.1L273.2 208.1L275.9 206.5L278.6 205.2L281.1 204.4L283.3 204.0L285.2 204.1L286.6 204.7L287.7 205.7L288.3 207.0L288.4 208.8L288.0 210.9L287.1 213.2L285.8 215.7L284.1 218.4L282.0 221.0L279.6 223.6L277.0 226.0L274.3 228.2L271.5 230.1L268.7 231.7" stroke="#6ade98" stroke-width="0.85"/>
<path d="M247.8 249.3L243.9 251.3L240.5 252.9L237.7 253.7L235.5 254.0L234.1 253.6L233.4 252.5L233.5 250.8L234.4 248.6L236.1 245.8L238.5 242.7L241.6 239.3L245.1 235.6L249.1 231.9L253.4 228.2L257.9 224.6L262.4 221.3L266.8 218.4L271.0 215.9L274.8 213.9L278.1 212.6L280.8 211.8L282.8 211.7L284.1 212.3L284.6 213.5L284.3 215.3L283.2 217.6L281.4 220.5L278.8 223.7L275.7 227.2L272.0 230.8L267.9 234.6L263.6 238.2L259.1 241.8L254.6 245.0M276.2 223.6L275.4 228.4L274.2 233.3L272.9 238.4L271.4 243.3L269.8 248.0L268.2 252.3L266.5 256.1L264.9 259.3L263.4 261.7L262.0 263.3L260.7 264.1L259.7 264.0L259.0 263.1L258.5 261.2L258.3 258.6L258.3 255.3L258.7 251.4L259.4 247.0L260.3 242.3L261.4 237.3L262.7 232.3L264.2 227.3L265.8 222.7L267.5 218.4L269.1 214.6L270.7 211.5L272.3 209.1M264.1 260.4L263.2 258.8L262.5 256.4L262.1 253.4L261.9 249.8L261.9 245.7L262.2 241.2L262.8 236.6L263.6 231.9L264.6 227.2L265.8 222.8L267.2 218.7L268.6 215.1L270.1 212.1L271.6 209.8L273.0 208.2L274.4 207.4L275.7 207.4L276.8 208.3L277.7 210.0L278.4 212.4L278.8 215.4L279.0 219.1L278.9 223.2L278.6 227.7L278.0 232.3L277.2 237.0M290.3 214.1L291.0 215.5L291.4 217.1L291.2 219.1L290.5 221.3L289.5 223.7L287.9 226.2L286.0 228.7L283.8 231.1L281.4 233.4L278.8 235.5L276.1 237.4L273.4 238.9L270.8 240.0L268.4 240.7L266.2 241.0L264.3 240.8L262.8 240.2L261.7 239.1L261.0 237.7L260.9 235.9L261.2 233.9L262.0 231.6L263.2 229.2L264.9 226.7" stroke="#70e28a" stroke-width="0.85"/>
<path d="M237.1 252.1L236.0 251.1L235.5 249.5L235.6 247.4L236.5 244.8L238.1 241.9L240.2 238.8L243.0 235.5L246.1 232.2L249.7 228.9L253.5 225.7L257.4 222.8L261.3 220.3L265.1 218.1L268.7 216.5L272.0 215.4L274.8 214.9L277.0 214.9L278.7 215.6L279.7 216.8L280.0 218.6L279.6 220.8L278.5 223.5L276.8 226.4L274.5 229.6L271.6 232.9L268.3 236.3L264.7 239.5L260.9 242.6L256.9 245.4L253.0 247.9L249.2 249.9L245.7 251.4L242.6 252.3L240.0 252.7M259.9 256.0L259.6 253.1L259.6 249.5L259.7 245.4L260.1 241.0L260.7 236.4L261.4 231.6L262.3 227.0L263.4 222.5L264.5 218.5L265.7 214.8L266.9 211.8L268.1 209.5L269.3 207.9L270.3 207.2L271.3 207.2L272.0 208.1L272.7 209.9L273.1 212.3L273.3 215.4L273.3 219.1L273.1 223.3" stroke="#9bde5a" stroke-width="0.85"/>
<path d="M277.3 240.9L275.9 244.9L274.3 248.6L272.6 251.8L270.9 254.4L269.1 256.4L267.4 257.7L265.8 258.3L264.4 258.0L263.1 257.1L262.1 255.4L261.3 253.0L260.8 250.0L260.7 246.5L260.8 242.7L261.3 238.5L262.0 234.2L263.1 229.9L264.3 225.7L265.8 221.7L267.4 218.2L269.1 215.1L270.8 212.6L272.6 210.7L274.3 209.6L275.8 209.2" stroke="#79e37c" stroke-width="0.85"/>
<path d="M286.5 222.2L285.2 224.3L283.5 226.5L281.6 228.7L279.4 230.9L277.1 232.9L274.8 234.7L272.4 236.2L270.2 237.4L268.1 238.3L266.2 238.9L264.6 239.0L263.3 238.7L262.4 238.1L261.9 237.1L261.8 235.8L262.1 234.1L262.9 232.3L264.0 230.2L265.5 228.1L267.3 225.9L269.3 223.7" stroke="#64daa5" stroke-width="0.85"/>
<path d="M277.1 213.4L278.8 213.8L280.2 214.5L281.3 215.6L282.1 216.9L282.5 218.6L282.5 220.4L282.1 222.4L281.3 224.6L280.2 226.7L278.8 228.8L277.1 230.8L275.2 232.7L273.1 234.3L270.9 235.7L268.7 236.7M283.2 222.7L285.7 222.2L287.8 222.1L289.5 222.5L290.7 223.4L291.4 224.7L291.5 226.4L291.0 228.4L290.1 230.7L288.6 233.2L286.6 235.8L284.3 238.4L281.6 241.0L278.7 243.4L275.6 245.7L272.5 247.6L269.4 249.2L266.5 250.5L263.8 251.3L261.4 251.6L259.5 251.5L258.0 250.9L256.9 249.9L256.5 248.4L256.6 246.6L257.2 244.5L258.4 242.2" stroke="#8fe164" stroke-width="0.85"/>
<path d="M263.0 235.8L264.1 233.1L265.7 230.4L267.6 227.6L270.0 224.9L272.5 222.3L275.3 220.1L278.2 218.1L281.1 216.6L283.9 215.5L286.5 214.8L288.9 214.7L290.9 215.1L292.6 215.9L293.8 217.2L294.5 218.9L294.7 221.0L294.3 223.4L293.5 226.0L292.2 228.8L290.5 231.6" stroke="#5ccebe" stroke-width="0.85"/>
<path d="M183.8 209.9L284.8 159.4" stroke="#59b6dd" stroke-width="0.9"/>
<path d="M195.8 184.4L205.8 201.4" stroke="#becd46" stroke-width="0.8"/>
<path d="M200.8 212.4L205.8 219.4M293.8 214.4L305.8 244.4M299.8 237.4L304.8 251.4M303.8 207.4L341.8 197.4M310.8 219.4L333.8 229.4M313.8 252.4L341.8 259.4M333.8 244.4L341.8 247.4M228.8 236.4Q231.8 225.4 241.8 219.4M282.2 257.3Q281.2 269.3 283.3 284.0" stroke="#70e28a" stroke-width="0.8"/>
<path d="M308.8 214.4L341.8 209.4M318.8 279.4L341.8 284.4" stroke="#77e37f" stroke-width="0.8"/>
<path d="M276.8 264.4L279.8 277.4" stroke="#87e36a" stroke-width="0.8"/>
<path d="M280.2 255.3Q281.1 267.3 283.3 271.9M280.6 250.0Q281.9 262.0 281.9 267.9" stroke="#79e37c" stroke-width="0.8"/>
<path d="M267.7 222.6L272.2 219.8L276.5 217.3L280.4 215.2L283.7 213.6L286.5 212.5L288.6 212.0L289.9 212.1L290.4 212.8L290.1 214.0L289.0 215.8L287.1 218.0L284.5 220.7L281.3 223.6L277.5 226.8L273.4 230.2L268.9 233.5L264.2 236.8L259.6 239.9L255.1 242.8L250.8 245.3L246.9 247.4L243.6 249.0L240.8 250.0L238.8 250.5L237.5 250.4L237.0 249.7L237.3 248.4L238.4 246.6L240.3 244.4L242.9 241.7L246.2 238.8L249.9 235.6L254.1 232.2L258.6 228.9M251.1 228.6L254.3 225.7L257.7 222.9L261.2 220.2L264.6 217.7L268.0 215.6L271.1 213.8L273.8 212.5L276.2 211.6L278.1 211.2L279.4 211.3L280.2 212.0L280.3 213.1L279.9 214.7L278.8 216.6L277.2 218.9L275.0 221.5L272.4 224.3L269.5 227.2L266.3 230.1L262.8 232.9L259.4 235.5L255.9 237.9L252.6 240.0L249.6 241.7L246.9 243.0L244.6 243.8L242.8 244.1L241.5 243.8L240.9 243.1L240.9 241.9L241.4 240.3L242.6 238.2L244.3 235.8M270.9 221.0L274.5 219.0L277.4 217.7L279.8 217.0L281.4 217.1L282.4 217.8L282.5 219.2L281.8 221.2L280.4 223.8L278.3 226.9L275.5 230.3L272.2 234.1L268.4 238.0L264.2 241.9L259.9 245.7L255.5 249.4L251.1 252.7L247.0 255.6L243.2 257.9L239.8 259.7L237.0 260.8L234.9 261.3L233.4 261.0L232.8 260.1L232.9 258.5L233.8 256.3L235.4 253.5L237.7 250.3L240.7 246.8L244.2 243.0L248.1 239.1L252.3 235.2L256.7 231.4L261.1 227.8L265.4 224.6L269.5 221.9M259.1 246.3L255.9 248.1L253.1 249.5L250.8 250.5L249.0 251.1L247.9 251.2L247.4 250.8L247.6 250.0L248.4 248.8L249.9 247.2L251.9 245.2L254.5 243.0L257.5 240.5L260.9 237.9L264.5 235.3L268.3 232.7L272.1 230.2L275.8 227.9L279.3 225.8L282.4 224.1L285.2 222.7L287.5 221.7L289.2 221.1L290.3 221.1L290.8 221.4L290.6 222.3L289.7 223.5L288.2 225.2L286.1 227.1L283.5 229.4L280.5 231.8L277.1 234.4L273.5 237.0L269.7 239.6L265.9 242.1" stroke="#ece247" stroke-width="0.85"/>
<path d="M242.2 258.0L240.5 257.5L239.5 256.5L239.2 255.0L239.6 253.0L240.8 250.6L242.6 247.8L245.1 244.8L248.1 241.7L251.6 238.4L255.5 235.2L259.5 232.2L263.7 229.3L267.9 226.8L272.0 224.7L275.7 223.0L279.1 221.8L282.0 221.1L284.4 221.1L286.0 221.5L287.0 222.6L287.3 224.1L286.8 226.1L285.7 228.5L283.8 231.3L281.3 234.3L278.2 237.5L274.7 240.7L270.9 243.9L266.8 247.0L262.6 249.8L258.4 252.3L254.4 254.4L250.6 256.1L247.2 257.3M260.4 223.8L264.5 220.6L268.6 217.6L272.5 214.9L276.2 212.7L279.4 210.9L282.2 209.6L284.4 208.9L286.0 208.7L286.9 209.1L287.1 210.1L286.5 211.6L285.3 213.7L283.4 216.1L280.9 218.9L277.9 222.0L274.4 225.2L270.6 228.6L266.5 231.9L262.4 235.1L258.3 238.0L254.4 240.7L250.8 242.9L247.5 244.7L244.7 246.0L242.5 246.7L240.9 246.9L240.0 246.5L239.9 245.5L240.4 243.9L241.7 241.9L243.6 239.5L246.1 236.7L249.1 233.6L252.6 230.3M277.9 216.5L278.5 216.9L278.5 217.9L277.9 219.3L276.6 221.2L274.7 223.5L272.3 226.0L269.4 228.8L266.2 231.8L262.7 234.7L259.1 237.7L255.4 240.5L251.8 243.0L248.3 245.3L245.2 247.2L242.5 248.6L240.3 249.6L238.6 250.0L237.5 249.9L237.1 249.3L237.3 248.2L238.2 246.6L239.6 244.6L241.7 242.2L244.3 239.5L247.3 236.7L250.6 233.7L254.1 230.7L257.8 227.8L261.5 225.1L265.1 222.6L268.4 220.5L271.4 218.8L273.9 217.5M235.7 262.2L233.4 263.0L231.6 263.2L230.5 262.9L230.0 262.0L230.2 260.7L231.1 258.8L232.6 256.5L234.7 253.9L237.4 251.0L240.5 247.9L243.9 244.8L247.6 241.6L251.5 238.6L255.3 235.7L259.1 233.1L262.7 230.9L265.9 229.1L268.7 227.8L271.0 227.1L272.8 226.9L273.9 227.2L274.3 228.1L274.1 229.4L273.2 231.3L271.7 233.6L269.5 236.2L266.9 239.1L263.8 242.2L260.3 245.4L256.6 248.5L252.8 251.6L248.9 254.4L245.1 257.0M275.9 224.2L275.6 228.9L274.9 233.8L274.0 238.9L273.0 243.9L271.7 248.7L270.4 253.2L268.9 257.1L267.5 260.4L266.0 263.0L264.6 264.7L263.3 265.6L262.2 265.6L261.2 264.7L260.4 262.9L259.9 260.2L259.6 256.9L259.6 252.9L259.9 248.5L260.4 243.6L261.2 238.6L262.1 233.5L263.3 228.6L264.6 223.9L266.0 219.7L267.4 216.1L268.9 213.1L270.3 210.9L271.7 209.5L272.9 209.0L274.0 209.5L274.9 210.8L275.5 213.0L275.9 216.0" stroke="#e9f543" stroke-width="0.85"/>
<path d="M284.4 219.1L283.8 220.6L282.5 222.6L280.5 225.1L277.8 227.9L274.6 231.1L270.9 234.4L266.8 237.8L262.5 241.3L258.2 244.6L253.8 247.7L249.7 250.5L245.8 252.8L242.4 254.8L239.5 256.1L237.2 257.0L235.6 257.2L234.7 256.8L234.6 255.8L235.3 254.3L236.7 252.2L238.8 249.7L241.5 246.8L244.8 243.6L248.6 240.3L252.6 236.8L256.9 233.4L261.3 230.1L265.6 227.0L269.8 224.3L273.6 222.0L277.0 220.1L279.8 218.8L282.0 218.0M246.2 254.3L242.6 255.5L239.7 256.1L237.4 256.0L235.9 255.3L235.2 253.9L235.4 252.0L236.4 249.6L238.2 246.7L240.7 243.4L244.0 240.0L247.7 236.3L252.0 232.7L256.5 229.1L261.2 225.8L265.9 222.7L270.5 220.1L274.8 218.0L278.7 216.4L282.1 215.4L284.8 215.1L286.8 215.4L288.0 216.4L288.4 218.0L287.9 220.1L286.6 222.7L284.5 225.7L281.7 229.1L278.2 232.6L274.2 236.3L269.9 239.9L265.3 243.4L260.5 246.6L255.8 249.5L251.3 252.0M237.3 251.2L238.3 249.1L239.9 246.6L242.1 243.9L244.8 241.2L247.9 238.3L251.3 235.6L254.9 233.0L258.6 230.6L262.2 228.5L265.7 226.8L269.0 225.5L271.9 224.7L274.3 224.4L276.2 224.6L277.4 225.2L278.1 226.4L278.1 228.0L277.4 230.0L276.1 232.3L274.2 234.9L271.8 237.6L268.9 240.4L265.7 243.2L262.2 245.9L258.5 248.5L254.8 250.7L251.2 252.6L247.8 254.1L244.7 255.2L242.1 255.8L239.9 255.9L238.3 255.4L237.3 254.5L237.0 253.2L237.3 251.4M262.2 230.3L266.0 227.3L269.9 224.4L273.8 221.8L277.5 219.4L281.0 217.5L284.1 216.0L286.8 215.0L288.9 214.5L290.5 214.6L291.4 215.2L291.6 216.3L291.2 217.9L290.1 219.9L288.3 222.3L286.0 225.0L283.2 227.9L279.9 231.0L276.4 234.0L272.6 237.1L268.7 239.9L264.8 242.6L261.1 244.9L257.6 246.8L254.5 248.3L251.8 249.3L249.7 249.7L248.2 249.6L247.3 249.0L247.1 247.9L247.5 246.3L248.7 244.2L250.4 241.8L252.8 239.1L255.6 236.2M254.4 264.2L253.8 260.9L253.4 256.9L253.3 252.4L253.5 247.4L253.9 242.1L254.5 236.8L255.3 231.5L256.4 226.5L257.6 221.9L258.9 217.9L260.3 214.5L261.7 212.0L263.1 210.3L264.4 209.5L265.6 209.8L266.7 210.9L267.6 213.0L268.3 215.9L268.8 219.6L269.0 223.9L269.0 228.7L268.7 233.9L268.2 239.2L267.4 244.5L266.5 249.7L265.4 254.5L264.1 258.8L262.7 262.5L261.3 265.4L259.9 267.6L258.6 268.7L257.3 269.0L256.1 268.3" stroke="#eaee48" stroke-width="0.85"/>
<path d="M281.8 259.4L284.8 281.4" stroke="#dabe46" stroke-width="0.8"/>
<path d="M277.0 255.4Q276.0 267.4 277.9 270.6" stroke="#ece247" stroke-width="0.8"/>
<path d="M279.8 255.1Q280.9 267.1 279.6 275.2" stroke="#eed546" stroke-width="0.8"/>
<path d="M275.7 257.0Q277.7 269.0 280.5 281.3" stroke="#eaee48" stroke-width="0.8"/>
</g>
<g clip-path="url(#c12)" fill="none" stroke-linecap="round">
<path d="M434.1 218.8L433.8 219.9L433.0 221.5L431.5 223.6L429.5 226.0L427.0 228.8L424.0 231.7L420.8 234.8L417.3 237.9L413.7 240.9L410.2 243.8L406.7 246.4L403.5 248.7L400.6 250.5L398.1 251.9L396.1 252.8L394.6 253.2L393.8 253.0L393.6 252.2L394.0 251.0L395.1 249.2L396.7 247.0L398.9 244.5L401.5 241.7L404.6 238.7L407.9 235.6L411.4 232.5L415.0 229.5L418.5 226.7L421.9 224.2L425.1 222.1L427.9 220.3L430.2 219.1L432.1 218.3M407.7 239.1L411.3 236.4L414.9 233.7L418.6 231.1L422.1 228.7L425.4 226.6L428.3 224.7L430.8 223.3L432.8 222.3L434.2 221.8L435.0 221.7L435.2 222.2L434.7 223.1L433.6 224.4L431.9 226.1L429.6 228.2L426.8 230.6L423.7 233.1L420.3 235.8L416.7 238.5L413.0 241.2L409.4 243.8L405.9 246.1L402.8 248.1L399.9 249.8L397.6 251.1L395.8 252.0L394.5 252.4L393.9 252.3L394.0 251.7L394.7 250.6L396.0 249.2L397.9 247.3L400.3 245.2L403.2 242.7" stroke="#79e37c" stroke-width="0.85"/>
<path d="M402.7 244.8L405.7 241.9L409.0 238.9L412.5 236.0L416.0 233.1L419.5 230.4L422.8 227.9L425.9 225.8L428.6 224.2L430.8 223.0L432.5 222.3L433.7 222.1L434.2 222.4L434.1 223.3L433.4 224.7L432.1 226.5L430.2 228.7L427.9 231.2L425.1 234.0L421.9 236.9L418.6 239.9L415.1 242.9L411.6 245.7L408.1 248.3L404.9 250.7L401.9 252.6L399.4 254.2L397.3 255.2L395.8 255.8L394.8 255.8L394.5 255.2L394.8 254.2L395.7 252.7L397.2 250.7L399.2 248.4" stroke="#becd46" stroke-width="0.85"/>
<path d="M431.2 225.9L429.3 227.6L427.1 229.5L424.6 231.6L421.9 233.7L419.1 235.7L416.3 237.8L413.5 239.7L410.8 241.4L408.4 242.8L406.3 244.0L404.5 244.9L403.2 245.4L402.3 245.5L401.9 245.3L402.0 244.7L402.6 243.8L403.7 242.6L405.2 241.0L407.1 239.3L409.4 237.3L411.9 235.3L414.6 233.2L417.4 231.1L420.2 229.1L423.0 227.2L425.6 225.5L428.0 224.1L430.1 222.9L431.8 222.1L433.1 221.6L434.0 221.5L434.3 221.8L434.2 222.4L433.5 223.4L432.4 224.7M434.3 222.9L434.6 223.3L434.3 224.1L433.5 225.3L432.1 226.8L430.3 228.7L428.2 230.9L425.6 233.3L422.8 235.8L419.9 238.4L416.8 240.9L413.8 243.3L410.9 245.6L408.2 247.6L405.8 249.2L403.7 250.5L402.1 251.4L400.9 251.9L400.3 251.9L400.2 251.4L400.6 250.5L401.5 249.2L403.0 247.6L404.9 245.6L407.2 243.4L409.8 240.9L412.6 238.4L415.6 235.8L418.6 233.3L421.6 230.9L424.5 228.8L427.1 226.8L429.5 225.3L431.4 224.1M420.9 255.8L419.0 256.9L417.2 257.7L415.5 258.1L414.1 258.2L413.0 257.8L412.2 257.1L411.7 256.0L411.6 254.6L411.8 252.9L412.4 251.0L413.3 248.9L414.5 246.7L416.0 244.5L417.7 242.3L419.6 240.2L421.5 238.3L423.6 236.6L425.6 235.1L427.5 234.0L429.3 233.2L430.9 232.8L432.3 232.8" stroke="#9bde5a" stroke-width="0.85"/>
<path d="M423.4 238.7L419.9 241.5L416.4 244.2L413.0 246.6L409.9 248.8L407.0 250.6L404.6 252.0L402.7 252.9L401.3 253.3L400.5 253.3L400.3 252.7L400.7 251.6L401.8 250.1L403.5 248.2L405.6 246.0L408.3 243.4L411.3 240.7L414.5 237.9L418.0 235.1L421.5 232.4L424.9 229.8L428.2 227.5L431.2 225.5L433.8 224.0L436.0 222.8L437.7 222.1L438.8 222.0L439.2 222.3L439.1 223.1L438.3 224.4L436.9 226.2L435.0 228.3L432.6 230.7L429.7 233.3" stroke="#ccc646" stroke-width="0.85"/>
<path d="M419.7 240.0L416.2 242.6L412.9 244.9L409.9 246.9L407.3 248.4L405.3 249.5L403.7 250.1L402.8 250.2L402.5 249.7L402.9 248.8L403.9 247.4L405.5 245.6L407.6 243.4L410.2 240.9L413.2 238.1L416.6 235.3L420.1 232.4L423.7 229.5L427.3 226.8L430.8 224.3L434.0 222.1L436.8 220.2L439.3 218.8L441.2 217.9L442.5 217.5L443.3 217.5L443.4 218.1L442.8 219.2L441.6 220.7L439.9 222.7L437.6 225.0L434.9 227.6L431.7 230.3L428.3 233.2L424.8 236.1L421.1 239.0M422.4 238.2L423.9 235.9L425.6 233.8L427.6 231.8L429.7 230.0L431.9 228.5L434.1 227.4L436.3 226.5L438.3 226.1L440.2 226.1L441.8 226.5L443.2 227.2L444.2 228.4L444.9 229.8L445.2 231.6L445.1 233.5L444.6 235.7L443.8 237.9L442.6 240.2M421.5 252.0L419.8 252.2L418.3 252.0L417.2 251.2L416.5 250.1L416.2 248.5L416.2 246.5L416.7 244.3L417.6 241.8L418.8 239.2L420.3 236.6L422.2 234.0L424.2 231.4L426.3 229.1L428.6 227.1L430.8 225.4L433.0 224.0L435.1 223.2L436.9 222.7L438.5 222.8L439.7 223.3L440.6 224.3L441.1 225.7L441.2 227.5M416.2 241.7L416.6 239.5L417.3 237.1L418.4 234.7L419.8 232.4L421.4 230.3L423.3 228.3L425.3 226.7L427.3 225.4L429.4 224.5L431.4 223.9L433.3 223.9L434.9 224.2L436.3 225.0L437.5 226.2L438.2 227.7L438.7 229.5" stroke="#6ade98" stroke-width="0.85"/>
<path d="M417.1 237.6L413.9 239.9L410.7 242.2L407.5 244.3L404.5 246.3L401.7 248.0L399.3 249.4L397.3 250.4L395.8 251.1L394.8 251.3L394.3 251.2L394.5 250.7L395.2 249.7L396.4 248.4L398.2 246.8L400.4 244.9L403.0 242.9L405.9 240.6L409.0 238.3L412.2 236.0L415.5 233.7L418.6 231.6L421.6 229.7L424.3 228.1L426.6 226.8L428.5 225.8L430.0 225.2L430.8 225.0L431.1 225.3L430.9 225.9L430.0 226.9L428.7 228.3L426.8 230.0L424.5 231.9" stroke="#82e46e" stroke-width="0.85"/>
<path d="M435.3 238.9L435.9 240.5L436.2 242.3L436.1 244.3L435.8 246.3L435.1 248.4L434.2 250.4L432.9 252.3L431.5 254.0L429.9 255.5L428.1 256.7L426.3 257.7L424.4 258.3L422.6 258.5" stroke="#70e28a" stroke-width="0.85"/>
<path d="M406.2 260.4L402.8 256.5L400.2 252.1L398.5 247.4L397.8 242.4L398.2 237.3L399.5 232.4L401.8 227.7L404.9 223.3L408.8 219.6M458.3 243.5L456.3 248.3L453.2 252.9L449.2 257.0L444.2 260.5L438.6 263.3L432.5 265.2L426.1 266.2L419.8 266.2L413.6 265.3M382.2 259.4L397.2 249.4M487.2 239.4L502.2 244.4" stroke="#70e28a" stroke-width="0.8"/>
<path d="M441.6 219.6L443.2 221.6L444.4 224.0L445.3 226.6L445.9 229.5L446.1 232.5L445.9 235.6L445.4 238.8L444.4 242.0M419.1 267.5L416.2 266.6L413.6 265.3L411.2 263.6L409.2 261.4L407.6 259.0L406.4 256.2L405.6 253.1L405.3 249.9M417.8 265.7L413.6 264.1L409.7 261.7L406.2 258.8L403.3 255.3L401.1 251.4L399.5 247.1L398.7 242.7L398.7 238.1M446.9 260.2L444.7 263.0L442.1 265.2L439.2 266.7L436.1 267.5L432.8 267.6L429.4 266.9L426.1 265.6L423.0 263.5L420.1 260.9L417.6 257.7M441.8 250.0Q443.2 262.0 446.6 265.4" stroke="#79e37c" stroke-width="0.8"/>
<path d="M429.3 218.6L433.4 219.6L437.4 221.3L441.1 223.7L444.4 226.6L447.2 230.1L449.4 233.9L450.9 238.0L451.7 242.3L451.8 246.5M448.4 259.1L446.1 260.6L443.6 261.7L440.9 262.5L438.1 263.0L435.2 263.1L432.4 262.8L429.5 262.2L426.8 261.3M434.1 263.2L431.4 263.6L428.8 263.4L426.2 262.6L423.9 261.3L421.8 259.4L420.0 257.1L418.6 254.4L417.7 251.4" stroke="#6ade98" stroke-width="0.8"/>
<path d="M422.5 217.0L426.9 216.6L431.4 216.9L435.8 217.9L440.1 219.3L444.1 221.4L447.7 223.8L450.7 226.7L453.1 229.9M441.1 258.1L438.9 259.2L436.4 259.9L433.8 260.0L431.2 259.6L428.7 258.7L426.3 257.4L424.2 255.6L422.5 253.5L421.1 251.1L420.1 248.5" stroke="#ccc646" stroke-width="0.8"/>
<path d="M447.8 223.6L448.7 225.9L449.4 228.4L449.9 230.9L450.2 233.4L450.2 236.0L450.0 238.7L449.6 241.3L449.0 243.8" stroke="#64daa5" stroke-width="0.8"/>
<path d="M423.6 256.7L421.5 254.2L419.9 251.3L418.8 248.2L418.3 245.0L418.3 241.7L419.0 238.6L420.2 235.7L421.9 233.1L424.1 230.9L426.7 229.2M431.1 229.2L435.0 228.2L438.9 228.0L442.6 228.4L446.0 229.6L449.0 231.4L451.4 233.8L453.1 236.6L454.2 239.9" stroke="#acd650" stroke-width="0.8"/>
<path d="M415.9 224.9L417.9 222.7L420.0 220.8L422.4 219.3L424.9 218.1L427.6 217.2L430.3 216.6L433.1 216.5L435.9 216.7" stroke="#becd46" stroke-width="0.8"/>
<path d="M382.2 237.4L395.2 239.4" stroke="#87e36a" stroke-width="0.8"/>
<path d="M442.2 216.4L464.2 199.4" stroke="#a9d752" stroke-width="0.8"/>
<path d="M472.2 254.4L492.2 259.4" stroke="#77e37f" stroke-width="0.8"/>
<path d="M451.0 259.4Q451.2 271.4 454.4 277.0" stroke="#82e46e" stroke-width="0.8"/>
<path d="M402.0 249.2L400.9 249.2L400.4 248.9L400.4 248.0L401.1 246.8L402.4 245.1L404.2 243.2L406.4 241.0L409.1 238.6L412.1 236.1L415.4 233.5L418.7 231.0L422.1 228.6L425.5 226.4L428.6 224.4L431.5 222.8L434.0 221.6L436.0 220.7L437.6 220.3L438.5 220.4L438.9 220.9L438.7 221.8L437.9 223.1L436.5 224.8L434.6 226.8L432.3 229.1L429.5 231.5L426.4 234.0L423.1 236.6L419.8 239.1L416.4 241.5L413.1 243.6L410.0 245.5L407.2 247.1M416.5 234.2L419.6 231.9L422.7 229.7L425.7 227.7L428.4 226.0L430.9 224.6L433.0 223.6L434.6 223.0L435.8 222.8L436.4 223.0L436.5 223.6L436.0 224.6L435.0 226.0L433.6 227.8L431.6 229.7L429.3 231.9L426.6 234.3L423.7 236.7L420.6 239.0L417.5 241.3L414.5 243.5L411.5 245.4L408.8 247.0L406.5 248.3L404.5 249.3L403.0 249.8L401.9 249.9L401.4 249.6L401.5 248.8L402.1 247.7L403.2 246.2L404.8 244.4L406.9 242.4L409.3 240.2M422.1 239.5L419.2 241.8L416.3 244.0L413.5 245.9L410.9 247.5L408.5 248.9L406.5 249.8L404.8 250.3L403.6 250.4L402.8 250.1L402.6 249.4L402.8 248.2L403.6 246.7L404.8 244.9L406.4 242.9L408.5 240.6L410.9 238.3L413.5 235.8L416.3 233.4L419.1 231.1L422.0 229.0L424.7 227.1L427.3 225.6L429.6 224.3L431.6 223.5L433.2 223.0L434.3 223.0L435.0 223.4L435.1 224.3L434.8 225.5L433.9 227.0L432.6 228.9L430.9 231.0L428.7 233.3M415.9 244.7L413.3 246.6L410.9 248.3L408.6 249.8L406.5 251.0L404.8 251.9L403.5 252.4L402.6 252.6L402.1 252.4L402.1 251.8L402.6 251.0L403.5 249.7L404.8 248.2L406.5 246.5L408.5 244.6L410.8 242.6L413.3 240.5L415.9 238.4L418.5 236.4L421.1 234.5L423.5 232.9L425.8 231.4L427.8 230.3L429.4 229.4L430.7 229.0L431.5 228.9L431.9 229.1L431.8 229.7L431.3 230.7L430.3 231.9L428.9 233.5L427.2 235.2L425.1 237.2L422.8 239.2M437.6 224.9L438.6 224.8L438.9 225.1L438.5 225.9L437.6 227.1L436.0 228.7L433.9 230.6L431.3 232.8L428.3 235.2L424.9 237.7L421.4 240.3L417.7 242.9L414.1 245.3L410.6 247.7L407.3 249.7L404.3 251.5L401.8 252.9L399.7 253.8L398.2 254.4L397.3 254.5L397.0 254.1L397.4 253.4L398.4 252.1L400.0 250.6L402.2 248.6L404.8 246.4L407.8 244.0L411.2 241.5L414.7 238.9L418.4 236.3L422.0 233.8L425.5 231.5L428.8 229.5L431.7 227.8L434.3 226.4M405.1 249.8L403.8 249.9L403.1 249.5L402.9 248.7L403.4 247.5L404.3 245.9L405.8 244.0L407.7 241.8L410.1 239.4L412.8 236.9L415.8 234.3L418.9 231.7L422.1 229.3L425.3 227.0L428.4 225.0L431.2 223.4L433.7 222.0L435.9 221.1L437.6 220.6L438.7 220.6L439.4 221.0L439.5 221.9L439.0 223.2L437.9 224.8L436.4 226.8L434.4 229.0L432.0 231.4L429.2 234.0L426.2 236.5L423.0 239.1L419.8 241.5L416.7 243.7L413.6 245.7L410.8 247.3" stroke="#eaee48" stroke-width="0.85"/>
<path d="M433.4 228.0L432.2 229.7L430.7 231.7L428.7 233.9L426.4 236.2L423.8 238.7L421.1 241.1L418.2 243.5L415.4 245.7L412.6 247.7L409.9 249.4L407.5 250.8L405.4 251.8L403.7 252.4L402.5 252.6L401.7 252.4L401.4 251.8L401.6 250.7L402.3 249.3L403.4 247.6L405.0 245.6L407.0 243.3L409.4 241.0L412.0 238.6L414.7 236.1L417.6 233.8L420.5 231.6L423.3 229.6L425.9 227.9L428.2 226.6L430.3 225.6L431.9 225.0L433.2 224.8L433.9 225.1L434.2 225.8L433.9 226.9M425.5 233.9L422.4 236.5L419.1 239.0L415.8 241.5L412.5 243.8L409.4 245.9L406.5 247.7L403.9 249.1L401.8 250.2L400.1 250.8L399.0 250.9L398.5 250.6L398.6 249.8L399.3 248.7L400.5 247.1L402.3 245.2L404.5 243.0L407.2 240.6L410.1 238.1L413.3 235.5L416.6 233.0L419.9 230.6L423.2 228.4L426.2 226.4L428.9 224.8L431.3 223.6L433.2 222.7L434.5 222.4L435.3 222.5L435.6 223.0L435.2 224.0L434.2 225.4L432.7 227.1L430.7 229.2M396.4 253.0L395.4 253.4L395.0 253.3L395.2 252.8L396.0 251.8L397.3 250.4L399.1 248.6L401.4 246.5L404.0 244.2L407.0 241.6L410.1 239.0L413.4 236.3L416.7 233.7L419.9 231.3L422.9 229.1L425.6 227.1L427.9 225.5L429.8 224.3L431.2 223.6L432.1 223.3L432.4 223.4L432.1 224.1L431.2 225.1L429.8 226.6L427.9 228.5L425.6 230.6L422.9 233.0L419.9 235.6L416.7 238.2L413.4 240.9L410.1 243.4L407.0 245.9L404.0 248.0L401.4 249.9M440.9 220.8L441.5 221.0L441.5 221.6L441.0 222.5L440.1 223.6L438.8 225.1L437.0 226.8L434.9 228.6L432.5 230.5L429.9 232.5L427.2 234.5L424.5 236.4L421.8 238.1L419.2 239.7L416.9 241.0L414.9 242.0L413.2 242.7L411.9 243.0L411.1 243.0L410.8 242.7L410.9 242.0L411.5 241.0L412.6 239.7L414.2 238.1L416.1 236.4L418.3 234.5L420.8 232.6L423.4 230.6L426.1 228.6L428.9 226.8L431.5 225.1L434.0 223.7L436.2 222.5L438.1 221.6L439.6 221.0" stroke="#ece247" stroke-width="0.85"/>
<path d="M418.6 227.8L422.3 225.0L425.9 222.4L429.2 220.1L432.3 218.2L434.8 216.8L436.9 215.8L438.4 215.3L439.2 215.3L439.4 215.9L438.9 217.0L437.8 218.5L436.0 220.5L433.7 222.8L430.9 225.4L427.8 228.3L424.3 231.2L420.6 234.2L416.9 237.1L413.2 239.8L409.7 242.3L406.5 244.4L403.6 246.2L401.2 247.5L399.4 248.3L398.1 248.5L397.5 248.3L397.6 247.5L398.3 246.3L399.7 244.5L401.7 242.4L404.2 240.0L407.1 237.3L410.4 234.4M437.2 222.8L437.8 223.2L437.9 224.1L437.3 225.4L436.3 227.1L434.7 229.2L432.6 231.6L430.2 234.2L427.4 237.0L424.4 239.7L421.2 242.5L418.0 245.1L414.9 247.5L411.9 249.7L409.2 251.5L406.8 252.8L404.8 253.7L403.4 254.2L402.4 254.1L402.0 253.6L402.2 252.5L402.9 251.1L404.2 249.2L405.9 247.0L408.2 244.5L410.7 241.8L413.6 239.1L416.7 236.3L419.9 233.6L423.1 231.0L426.2 228.7L429.0 226.7L431.6 225.0L433.9 223.8L435.7 223.1L437.0 222.8M402.3 254.2L401.5 254.0L401.4 253.3L401.9 252.1L403.1 250.4L404.8 248.2L407.0 245.8L409.6 243.0L412.6 240.1L415.9 237.1L419.4 234.1L422.8 231.2L426.3 228.4L429.5 226.0L432.5 223.9L435.1 222.3L437.3 221.1L438.9 220.4L440.0 220.3L440.5 220.7L440.3 221.7L439.5 223.1L438.1 225.0L436.2 227.3L433.8 229.9L431.0 232.7L427.8 235.7L424.5 238.7L421.0 241.7L417.5 244.5L414.1 247.1L411.0 249.4L408.2 251.3L405.7 252.8" stroke="#e9f543" stroke-width="0.85"/>
<path d="M399.0 249.9L399.9 248.7L401.3 247.0L403.3 245.0L405.7 242.8L408.6 240.3L411.7 237.8L415.1 235.1L418.6 232.5L422.1 230.1L425.5 227.8L428.6 225.8L431.5 224.1L433.9 222.8L435.8 222.0L437.2 221.6L438.0 221.6L438.2 222.2L437.7 223.1L436.7 224.5L435.1 226.3L432.9 228.4L430.3 230.7L427.3 233.2L424.1 235.8L420.6 238.4L417.1 241.0L413.7 243.4L410.4 245.6L407.3 247.5L404.6 249.0L402.4 250.2L400.6 250.9L399.4 251.1" stroke="#ecc647" stroke-width="0.85"/>
<path d="M454.3 234.2L456.0 238.4L457.2 242.6L457.7 246.9L457.5 251.1L456.7 255.1L455.3 258.9L453.3 262.3L450.8 265.4" stroke="#e9f543" stroke-width="0.8"/>
<path d="M424.3 235.1L425.4 232.6L427.0 230.2L428.9 228.2L431.2 226.6L433.6 225.3L436.2 224.5L438.9 224.2L441.5 224.4L444.1 225.0L446.4 226.1M427.3 258.7Q427.6 270.7 429.9 279.1M439.8 249.9Q441.0 261.9 443.3 276.4" stroke="#ece247" stroke-width="0.8"/>
<path d="M448.4 263.8L445.3 266.4L441.7 268.2L437.9 269.1L433.9 269.2L430.0 268.4L426.2 266.7L422.7 264.3L419.6 261.2L417.0 257.4L415.1 253.3M446.3 259.4Q448.0 271.4 452.2 281.7" stroke="#eaee48" stroke-width="0.8"/>
<path d="M451.7 248.6L451.1 250.2L450.3 251.6L449.3 252.9L448.2 254.1L446.8 255.2L445.4 256.0L443.8 256.7L442.1 257.3" stroke="#e8fc3e" stroke-width="0.8"/>
<path d="M400.2 217.4L407.2 204.4" stroke="#ebb648" stroke-width="0.8"/>
<path d="M430.2 304.4L434.2 309.4" stroke="#dabe46" stroke-width="0.8"/>
<path d="M429.2 249.8Q427.5 261.8 431.5 276.5" stroke="#ecc647" stroke-width="0.8"/>
</g>
<g clip-path="url(#c13)" fill="none" stroke-linecap="round">
<path d="M570.3 238.0L574.4 235.0L578.6 231.9L582.6 229.1L586.3 226.5L589.7 224.2L592.6 222.3L594.9 220.9L596.5 219.9L597.5 219.5L597.7 219.7L597.1 220.4L595.8 221.6L593.9 223.2L591.3 225.3L588.2 227.8L584.6 230.6L580.7 233.5L576.7 236.6L572.5 239.6L568.4 242.6L564.4 245.4L560.8 247.9L557.6 250.0L554.9 251.8L552.8 253.0L551.5 253.8L550.8 254.0L550.9 253.6L551.7 252.7L553.2 251.4L555.4 249.5L558.2 247.3L561.4 244.7L565.1 241.9L569.1 238.9M555.6 252.8L558.6 250.2L562.2 247.3L566.1 244.2L570.4 240.9L574.8 237.6L579.2 234.3L583.4 231.2L587.5 228.4L591.1 225.9L594.2 223.9L596.7 222.4L598.6 221.4L599.6 221.0L600.0 221.1L599.5 221.9L598.2 223.3L596.2 225.1L593.6 227.4L590.3 230.2L586.6 233.2L582.5 236.4L578.2 239.7L573.8 243.0L569.4 246.2L565.2 249.2L561.4 251.9L557.9 254.2L555.1 256.0L552.8 257.4L551.3 258.1L550.5 258.3L550.5 257.8L551.3 256.8L552.9 255.3L555.1 253.2M596.7 221.9L597.4 221.8L597.2 222.3L596.2 223.3L594.5 224.9L592.2 226.9L589.1 229.2L585.6 231.9L581.6 234.9L577.3 238.0L572.9 241.1L568.4 244.2L564.0 247.2L559.9 250.0L556.1 252.4L552.8 254.5L550.0 256.1L547.9 257.2L546.6 257.8L546.0 257.8L546.2 257.3L547.2 256.2L548.9 254.7L551.3 252.7L554.3 250.3L557.9 247.6L561.9 244.6L566.2 241.5L570.6 238.4L575.1 235.3L579.5 232.3L583.6 229.5L587.4 227.1L590.7 225.1L593.4 223.5" stroke="#79e37c" stroke-width="0.85"/>
<path d="M563.3 241.3L567.4 238.1L571.8 234.7L576.3 231.4L580.8 228.1L585.2 225.0L589.3 222.3L593.0 219.9L596.2 218.0L598.7 216.5L600.6 215.7L601.7 215.4L602.0 215.8L601.5 216.7L600.2 218.2L598.2 220.2L595.5 222.6L592.2 225.4L588.4 228.5L584.2 231.8L579.8 235.2L575.2 238.5L570.7 241.7L566.4 244.7L562.4 247.4L558.9 249.6L555.9 251.4L553.5 252.7L551.8 253.4L551.0 253.4L550.9 252.9L551.6 251.9L553.1 250.2L555.3 248.1L558.2 245.6M595.7 220.6L597.9 219.6L599.4 219.1L600.0 219.2L599.8 220.0L598.8 221.2L596.9 223.1L594.3 225.3L591.0 228.0L587.2 231.0L582.9 234.3L578.2 237.6L573.5 241.0L568.6 244.3L563.9 247.4L559.5 250.2L555.5 252.7L552.0 254.7L549.1 256.2L546.9 257.2L545.6 257.5L545.1 257.3L545.4 256.5L546.5 255.2L548.5 253.3L551.2 251.0L554.6 248.2L558.5 245.2L562.8 241.9L567.5 238.6L572.3 235.2L577.1 232.0L581.7 228.9L586.1 226.1L590.1 223.7M561.4 250.7L558.0 253.2L555.0 255.3L552.7 256.9L550.9 258.0L549.8 258.5L549.5 258.4L549.9 257.8L551.0 256.6L552.8 254.9L555.3 252.7L558.3 250.2L561.7 247.3L565.6 244.2L569.6 241.0L573.8 237.7L577.9 234.5L581.9 231.5L585.5 228.8L588.8 226.4L591.6 224.5L593.8 223.0L595.4 222.1L596.2 221.7L596.4 222.0L595.7 222.8L594.4 224.1L592.4 226.0L589.8 228.3L586.6 230.9L583.1 233.9L579.2 237.0L575.1 240.3L570.9 243.5L566.8 246.7L562.9 249.6" stroke="#82e46e" stroke-width="0.85"/>
<path d="M596.9 224.5L593.4 227.5L589.4 230.7L585.2 234.2L580.7 237.7L576.1 241.1L571.7 244.4L567.4 247.5L563.5 250.2L560.1 252.5L557.2 254.2L555.0 255.5L553.6 256.1L552.8 256.2L552.9 255.6L553.8 254.4L555.4 252.7L557.7 250.5L560.7 247.8L564.2 244.8L568.2 241.5L572.5 238.1L577.0 234.6L581.5 231.2L586.0 227.9L590.2 224.8L594.1 222.1L597.5 219.9L600.3 218.1L602.5 216.9L604.0 216.3L604.7 216.2L604.6 216.8L603.7 218.0L602.0 219.8" stroke="#9bde5a" stroke-width="0.85"/>
<path d="M559.3 250.9L556.9 252.3L555.2 253.2L554.1 253.6L553.8 253.5L554.2 252.8L555.4 251.6L557.2 250.0L559.7 247.9L562.7 245.5L566.1 242.8L569.9 239.9L574.0 236.9L578.1 233.9L582.2 231.0L586.1 228.3L589.7 225.9L592.9 223.7L595.7 222.0L597.8 220.8L599.3 220.1L600.0 219.9L600.0 220.2L599.3 221.1L597.9 222.5L595.8 224.3L593.2 226.5L590.0 229.0L586.4 231.8L582.5 234.7L578.4 237.7L574.3 240.7L570.2 243.6L566.4 246.2L562.9 248.5" stroke="#6ade98" stroke-width="0.85"/>
<path d="M608.5 262.1L605.8 264.4L602.6 266.0L599.0 266.7L595.3 266.6L591.5 265.6L587.7 263.8L584.0 261.2L580.7 258.0M604.0 258.7L600.5 260.3L596.6 261.2L592.6 261.4L588.5 260.7L584.5 259.3L580.8 257.1L577.4 254.3L574.6 251.0L572.3 247.3" stroke="#acd650" stroke-width="0.8"/>
<path d="M605.3 250.7L602.8 252.2L600.1 253.3L597.2 254.0L594.3 254.2L591.3 254.0L588.4 253.4L585.6 252.4L583.0 251.0M603.3 251.1Q605.3 263.1 605.2 268.6" stroke="#82e46e" stroke-width="0.8"/>
<path d="M572.3 248.4L572.6 246.1L573.1 243.8L573.9 241.5L574.9 239.3L576.2 237.2L577.6 235.2L579.2 233.5L581.0 231.9M598.8 229.2L602.1 231.0L605.0 233.3L607.4 235.9L609.3 238.9L610.7 242.2L611.4 245.5L611.5 249.0L610.9 252.4" stroke="#6ade98" stroke-width="0.8"/>
<path d="M501.0 207.4L636.0 284.4" stroke="#a9d752" stroke-width="0.8"/>
<path d="M529.7 235.7L599.5 269.3" stroke="#77e37f" stroke-width="0.8"/>
<path d="M596.0 219.4L613.0 203.4M611.0 254.4L636.0 269.4" stroke="#becd46" stroke-width="0.8"/>
<path d="M619.0 211.4Q631.0 204.4 646.0 201.4M597.0 181.4Q605.0 185.4 609.0 195.4M606.0 257.4L626.0 277.4M596.1 253.2Q598.3 265.2 596.7 270.7" stroke="#70e28a" stroke-width="0.8"/>
<path d="M601.4 219.9L602.0 219.9L601.8 220.4L600.8 221.6L599.1 223.2L596.7 225.4L593.7 228.0L590.2 230.9L586.3 234.1L582.0 237.4L577.6 240.7L573.2 244.1L568.9 247.2L564.9 250.1L561.2 252.7L558.0 254.8L555.4 256.5L553.4 257.6L552.2 258.2L551.7 258.1L552.0 257.5L553.1 256.3L554.9 254.5L557.3 252.3L560.4 249.7L564.0 246.7L568.0 243.5L572.3 240.2L576.7 236.8L581.1 233.5L585.3 230.4L589.4 227.5L593.0 225.0L596.1 222.9L598.7 221.3L600.5 220.3M603.0 220.2L601.0 221.8L598.3 224.0L594.9 226.5L591.1 229.4L586.9 232.6L582.4 235.9L577.8 239.3L573.2 242.6L568.8 245.7L564.7 248.6L561.1 251.1L558.0 253.2L555.6 254.7L553.9 255.8L553.0 256.2L552.9 256.1L553.6 255.4L555.2 254.1L557.4 252.2L560.4 249.9L563.9 247.2L567.9 244.2L572.2 241.0L576.8 237.6L581.4 234.3L585.9 231.1L590.2 228.0L594.1 225.3L597.6 222.9L600.4 221.0L602.6 219.6L604.0 218.8L604.6 218.5L604.4 218.9L603.3 219.9" stroke="#e8fc3e" stroke-width="0.85"/>
<path d="M569.2 243.2L573.8 239.6L578.5 236.0L583.2 232.5L587.7 229.2L591.8 226.2L595.5 223.7L598.5 221.6L600.9 220.1L602.5 219.2L603.3 218.9L603.2 219.2L602.3 220.2L600.6 221.8L598.2 223.9L595.0 226.5L591.3 229.5L587.2 232.9L582.7 236.4L578.0 240.0L573.2 243.5L568.6 247.0L564.3 250.1L560.3 253.0L556.9 255.4L554.1 257.2L552.0 258.5L550.7 259.2L550.2 259.2L550.6 258.6L551.8 257.4L553.8 255.6L556.5 253.3L559.9 250.5L563.8 247.4L568.1 244.0M560.7 249.7L558.0 251.5L555.9 252.8L554.4 253.7L553.6 254.1L553.4 253.9L554.0 253.2L555.3 252.1L557.2 250.4L559.7 248.4L562.7 246.0L566.1 243.4L569.8 240.6L573.6 237.6L577.6 234.7L581.5 231.9L585.2 229.3L588.5 226.9L591.5 224.9L594.0 223.2L595.9 222.1L597.1 221.4L597.7 221.3L597.5 221.6L596.7 222.5L595.1 223.8L593.0 225.6L590.3 227.8L587.2 230.3L583.6 233.0L579.8 235.9L575.9 238.8L572.0 241.7L568.2 244.5M555.9 254.0L553.4 255.4L551.6 256.4L550.5 256.7L550.3 256.4L550.9 255.6L552.3 254.1L554.4 252.2L557.3 249.8L560.7 247.0L564.6 244.0L568.9 240.7L573.5 237.4L578.1 234.0L582.6 230.8L587.0 227.8L591.0 225.0L594.6 222.7L597.6 220.9L599.9 219.6L601.5 218.8L602.3 218.7L602.3 219.1L601.5 220.2L599.9 221.7L597.5 223.8L594.5 226.3L590.9 229.2L586.9 232.3L582.5 235.6L577.9 239.0L573.3 242.3L568.8 245.5L564.5 248.4L560.6 251.0L557.2 253.2" stroke="#eaee48" stroke-width="0.85"/>
<path d="M575.6 241.4L571.2 244.8L566.9 248.1L562.7 251.1L558.8 253.9L555.3 256.3L552.4 258.3L550.1 259.7L548.5 260.6L547.6 260.9L547.5 260.6L548.2 259.7L549.6 258.2L551.8 256.3L554.6 253.8L558.0 251.0L561.8 248.0L565.9 244.7L570.2 241.3L574.7 238.0L579.0 234.8L583.1 231.8L586.9 229.1L590.2 226.8L593.0 225.0L595.1 223.7L596.6 223.0L597.2 222.8L597.1 223.3L596.2 224.4L594.6 225.9L592.2 228.0L589.3 230.6L585.8 233.4L581.9 236.6L577.7 239.9M558.6 253.7L556.2 255.0L554.4 255.8L553.4 256.0L553.0 255.6L553.4 254.7L554.4 253.3L556.2 251.3L558.6 249.0L561.6 246.2L565.0 243.3L568.7 240.1L572.7 236.9L576.8 233.7L580.9 230.7L584.8 227.9L588.5 225.4L591.7 223.3L594.5 221.7L596.7 220.6L598.2 220.0L599.0 220.0L599.1 220.6L598.4 221.8L597.1 223.4L595.0 225.5L592.4 228.0L589.3 230.9L585.7 233.9L581.8 237.1L577.8 240.3L573.7 243.4L569.7 246.4L565.8 249.1L562.3 251.4L559.2 253.4M574.9 237.0L578.9 234.3L582.7 231.9L586.2 229.9L589.2 228.2L591.7 227.0L593.5 226.3L594.6 226.0L595.0 226.4L594.6 227.2L593.5 228.5L591.7 230.3L589.3 232.5L586.3 234.9L582.8 237.7L579.0 240.5L574.9 243.4L570.8 246.3L566.7 249.1L562.7 251.7L559.1 253.9L555.8 255.8L553.1 257.2L550.9 258.2L549.4 258.7L548.7 258.6L548.7 258.1L549.4 257.0L550.8 255.4L552.9 253.5L555.7 251.2L558.9 248.6L562.5 245.8L566.5 242.8M575.0 237.4L579.8 233.9L584.6 230.6L589.1 227.5L593.4 224.8L597.1 222.5L600.2 220.8L602.7 219.5L604.4 218.9L605.3 218.9L605.3 219.6L604.5 220.8L602.8 222.5L600.4 224.8L597.3 227.5L593.6 230.6L589.4 233.9L584.8 237.4L580.0 240.9L575.2 244.4L570.5 247.6L565.9 250.6L561.8 253.3L558.2 255.5L555.1 257.1L552.8 258.2L551.3 258.7L550.6 258.6L550.7 257.9L551.7 256.5L553.5 254.7L556.1 252.3L559.3 249.5L563.2 246.4L567.4 243.0" stroke="#e9f543" stroke-width="0.85"/>
<path d="M575.6 236.2L580.4 232.7L584.9 229.5L589.1 226.7L592.8 224.2L596.0 222.2L598.4 220.8L600.2 220.0L601.1 219.8L601.2 220.2L600.5 221.2L599.0 222.8L596.7 225.0L593.7 227.6L590.1 230.5L586.0 233.8L581.6 237.3L576.9 240.9L572.2 244.4L567.5 247.8L563.0 251.0L558.8 253.8L555.2 256.2L552.1 258.2L549.6 259.5L548.0 260.3L547.1 260.4L547.1 259.9L547.9 258.9L549.5 257.2L551.9 255.0L555.0 252.3L558.6 249.3L562.7 246.0" stroke="#ece247" stroke-width="0.85"/>
<path d="M597.2 252.9L594.6 252.8L591.9 252.1L589.2 251.1L586.6 249.6L584.3 247.7L582.2 245.5L580.6 243.1L579.3 240.6L578.6 238.0L578.3 235.5M576.3 224.3L578.2 223.5L580.3 222.9L582.6 222.7L584.9 222.8L587.3 223.3L589.7 224.1L592.1 225.2L594.4 226.7M585.2 260.4L582.2 258.8L579.4 256.9L576.8 254.7L574.5 252.2L572.6 249.6L571.0 246.9L569.9 244.1L569.2 241.3M574.0 204.4Q586.0 195.4 596.0 199.4M598.6 258.6Q598.9 270.6 599.9 285.6" stroke="#eed546" stroke-width="0.8"/>
<path d="M575.4 234.7L577.1 232.0L579.2 229.6L581.5 227.7L584.1 226.3L586.8 225.4L589.6 225.1L592.4 225.3L595.0 226.1L597.5 227.4L599.7 229.2L601.6 231.4L603.1 234.0M606.1 245.5L604.6 247.7L602.6 249.7L600.3 251.5L597.6 253.0L594.7 254.1L591.7 254.8L588.6 255.1L585.6 255.0L582.8 254.4L580.2 253.5L577.9 252.2M590.4 247.9Q593.0 259.9 592.4 273.7" stroke="#ece247" stroke-width="0.8"/>
<path d="M583.0 231.9L585.0 230.8L587.2 230.2L589.5 230.1L591.9 230.4L594.3 231.1L596.6 232.3L598.7 233.9L600.6 235.8M611.4 241.9L610.3 244.7L608.6 247.4L606.5 249.8L604.1 252.0L601.3 253.9L598.2 255.3L595.1 256.2L592.0 256.7M593.7 246.2L591.5 246.9L589.3 247.2L587.0 247.0L584.7 246.3L582.6 245.2L580.6 243.7L579.0 241.8L577.6 239.7L576.7 237.3L576.1 234.8L576.0 232.3M608.5 252.7Q609.4 264.7 608.6 278.6" stroke="#ecc647" stroke-width="0.8"/>
<path d="M565.1 234.1L565.8 230.0L567.3 226.0L569.4 222.4L572.0 219.2L575.2 216.5L578.8 214.4L582.7 213.0L586.8 212.3L591.0 212.3L595.0 213.0M560.4 243.4L559.7 240.1L559.7 236.8L560.3 233.7L561.5 230.8L563.4 228.1L565.8 225.8L568.7 224.0L572.0 222.6M582.6 232.5L585.4 232.4L588.3 232.6L591.2 233.1L594.0 233.9L596.7 235.0L599.1 236.3L601.3 237.8L603.2 239.6M605.1 247.5Q606.9 259.5 610.7 273.4" stroke="#eaee48" stroke-width="0.8"/>
</g>
<path d="M26.70 2.60H182.45V158.30H26.70ZM184.75 2.60H340.90V158.30H184.75ZM343.20 2.60H499.70V158.30H343.20ZM502.00 2.60H658.00V158.30H502.00ZM26.70 160.50H182.45V317.10H26.70ZM184.75 160.50H340.90V317.10H184.75ZM343.20 160.50H499.70V317.10H343.20ZM502.00 160.50H658.00V317.10H502.00Z" stroke="#5f6662" stroke-width="0.8" fill="none"/>
<path d="M183.75 1.50V318.20M342.20 1.50V318.20M501.00 1.50V318.20M25.70 159.40H659.30" stroke="#fa1e14" stroke-width="1.7" fill="none"/>
<rect x="25.70" y="1.50" width="633.60" height="316.70" stroke="#f23a2c" stroke-width="1.4" fill="none"/>
<text x="31.80" y="14.10" font-size="12.4" font-weight="bold">(a)</text>
<text x="104.12" y="12.10" font-size="11.4" text-anchor="middle">N</text>
<text x="26.50" y="84.00" font-size="11.6">E</text>
<text x="35.50" y="131.80" font-size="12.3">Sun</text>
<line x1="55.50" y1="106.40" x2="41.02" y2="113.93" stroke="#000" stroke-width="0.9"/>
<path d="M35.70 116.70L40.62 110.99L40.49 114.21L43.20 115.95Z" fill="#000"/>
<text x="104.72" y="154.40" font-size="8.95" text-anchor="middle">27 SEP 2022 00:14:23.716 UTC</text>
<text x="189.85" y="14.10" font-size="12.4" font-weight="bold">(b)</text>
<text x="262.38" y="12.10" font-size="11.4" text-anchor="middle">N</text>
<text x="184.55" y="84.00" font-size="11.6">E</text>
<text x="193.90" y="130.40" font-size="12.3">Sun</text>
<line x1="213.25" y1="105.40" x2="199.23" y2="112.65" stroke="#000" stroke-width="0.9"/>
<path d="M193.90 115.40L198.83 109.70L198.70 112.92L201.40 114.67Z" fill="#000"/>
<text x="262.98" y="154.40" font-size="8.95" text-anchor="middle">27 SEP 2022 11:14:23.716 UTC</text>
<text x="348.30" y="14.10" font-size="12.4" font-weight="bold">(c)</text>
<text x="421.00" y="12.10" font-size="11.4" text-anchor="middle">N</text>
<text x="343.00" y="84.00" font-size="11.6">E</text>
<text x="351.90" y="129.90" font-size="12.3">Sun</text>
<line x1="371.80" y1="104.90" x2="357.29" y2="111.97" stroke="#000" stroke-width="0.9"/>
<path d="M351.90 114.60L356.97 109.02L356.75 112.23L359.42 114.05Z" fill="#000"/>
<text x="421.60" y="154.40" font-size="8.95" text-anchor="middle">27 SEP 2022 23:14:23.716 UTC</text>
<text x="507.10" y="14.10" font-size="12.4" font-weight="bold">(d)</text>
<text x="579.55" y="12.10" font-size="11.4" text-anchor="middle">N</text>
<text x="501.80" y="84.00" font-size="11.6">E</text>
<text x="510.10" y="129.00" font-size="12.3">Sun</text>
<line x1="529.70" y1="104.20" x2="515.58" y2="111.15" stroke="#000" stroke-width="0.9"/>
<path d="M510.20 113.80L515.24 108.20L515.04 111.41L517.72 113.22Z" fill="#000"/>
<text x="580.15" y="154.40" font-size="8.95" text-anchor="middle">28 SEP 2022 11:14:23.716 UTC</text>
<text x="31.80" y="172.60" font-size="12.4" font-weight="bold">(e)</text>
<text x="104.12" y="170.00" font-size="11.4" text-anchor="middle">N</text>
<text x="26.50" y="243.10" font-size="11.6">E</text>
<text x="33.30" y="287.00" font-size="12.3">Sun</text>
<line x1="53.70" y1="262.30" x2="38.78" y2="268.96" stroke="#000" stroke-width="0.9"/>
<path d="M33.30 271.40L38.55 265.99L38.23 269.20L40.83 271.11Z" fill="#000"/>
<text x="104.72" y="312.70" font-size="8.95" text-anchor="middle">28 SEP 2022 23:14:23.716 UTC</text>
<text x="189.85" y="172.60" font-size="12.4" font-weight="bold">(f)</text>
<text x="262.38" y="170.00" font-size="11.4" text-anchor="middle">N</text>
<text x="184.55" y="243.10" font-size="11.6">E</text>
<text x="191.30" y="284.90" font-size="12.3">Sun</text>
<line x1="211.70" y1="260.40" x2="196.58" y2="267.15" stroke="#000" stroke-width="0.9"/>
<path d="M191.10 269.60L196.35 264.19L196.03 267.40L198.63 269.30Z" fill="#000"/>
<text x="262.98" y="312.70" font-size="8.95" text-anchor="middle">29 SEP 2022 23:14:23.716 UTC</text>
<text x="348.30" y="172.60" font-size="12.4" font-weight="bold">(g)</text>
<text x="421.00" y="170.00" font-size="11.4" text-anchor="middle">N</text>
<text x="343.00" y="243.10" font-size="11.6">E</text>
<text x="346.80" y="276.20" font-size="12.3">Sun</text>
<line x1="368.30" y1="254.40" x2="352.66" y2="258.93" stroke="#000" stroke-width="0.9"/>
<path d="M346.90 260.60L352.84 255.96L352.09 259.10L354.40 261.34Z" fill="#000"/>
<text x="421.60" y="312.70" font-size="8.95" text-anchor="middle">04 OCT 2022 23:14:23.716 UTC</text>
<text x="507.10" y="172.60" font-size="12.4" font-weight="bold">(h)</text>
<text x="579.55" y="170.00" font-size="11.4" text-anchor="middle">N</text>
<text x="501.80" y="243.10" font-size="11.6">E</text>
<text x="504.70" y="272.30" font-size="12.3">Sun</text>
<line x1="526.10" y1="252.00" x2="510.11" y2="256.11" stroke="#000" stroke-width="0.9"/>
<path d="M504.30 257.60L510.38 253.15L509.53 256.26L511.78 258.57Z" fill="#000"/>
<text x="580.15" y="312.70" font-size="8.95" text-anchor="middle">07 OCT 2022 17:14:23.716 UTC</text>
<text x="138.3" y="98.4" font-size="8.7" font-weight="bold" text-anchor="middle">5 km</text>
<line x1="120" y1="103" x2="159" y2="103" stroke="#000" stroke-width="2.2"/>
<rect x="24.3" y="328.3" width="635.40" height="15.40" fill="url(#cb)" stroke="#3a3a3a" stroke-width="0.9"/>
<text x="24.30" y="362.4" font-size="12.7" text-anchor="middle" fill="#222">1.00e-14</text>
<text x="87.84" y="362.4" font-size="12.7" text-anchor="middle" fill="#222">3.29e-13</text>
<text x="151.38" y="362.4" font-size="12.7" text-anchor="middle" fill="#222">1.08e-11</text>
<text x="214.92" y="362.4" font-size="12.7" text-anchor="middle" fill="#222">3.57e-10</text>
<text x="278.46" y="362.4" font-size="12.7" text-anchor="middle" fill="#222">1.18e-08</text>
<text x="342.00" y="362.4" font-size="12.7" text-anchor="middle" fill="#222">3.87e-07</text>
<text x="405.54" y="362.4" font-size="12.7" text-anchor="middle" fill="#222">1.28e-05</text>
<text x="469.08" y="362.4" font-size="12.7" text-anchor="middle" fill="#222">4.20e-04</text>
<text x="532.62" y="362.4" font-size="12.7" text-anchor="middle" fill="#222">1.38e-02</text>
<text x="596.16" y="362.4" font-size="12.7" text-anchor="middle" fill="#222">4.55e-01</text>
<text x="659.70" y="362.4" font-size="12.7" text-anchor="middle" fill="#222">1.50e+01</text>
<path d="M87.84 343.70V337.20M151.38 343.70V337.20M214.92 343.70V337.20M278.46 343.70V337.20M342.00 343.70V337.20M405.54 343.70V337.20M469.08 343.70V337.20M532.62 343.70V337.20M596.16 343.70V337.20" stroke="#333" stroke-width="0.9"/>
<text x="342.3" y="378.8" font-size="12.9" text-anchor="middle" fill="#222">Mass [kg]</text>
</svg></body></html>
